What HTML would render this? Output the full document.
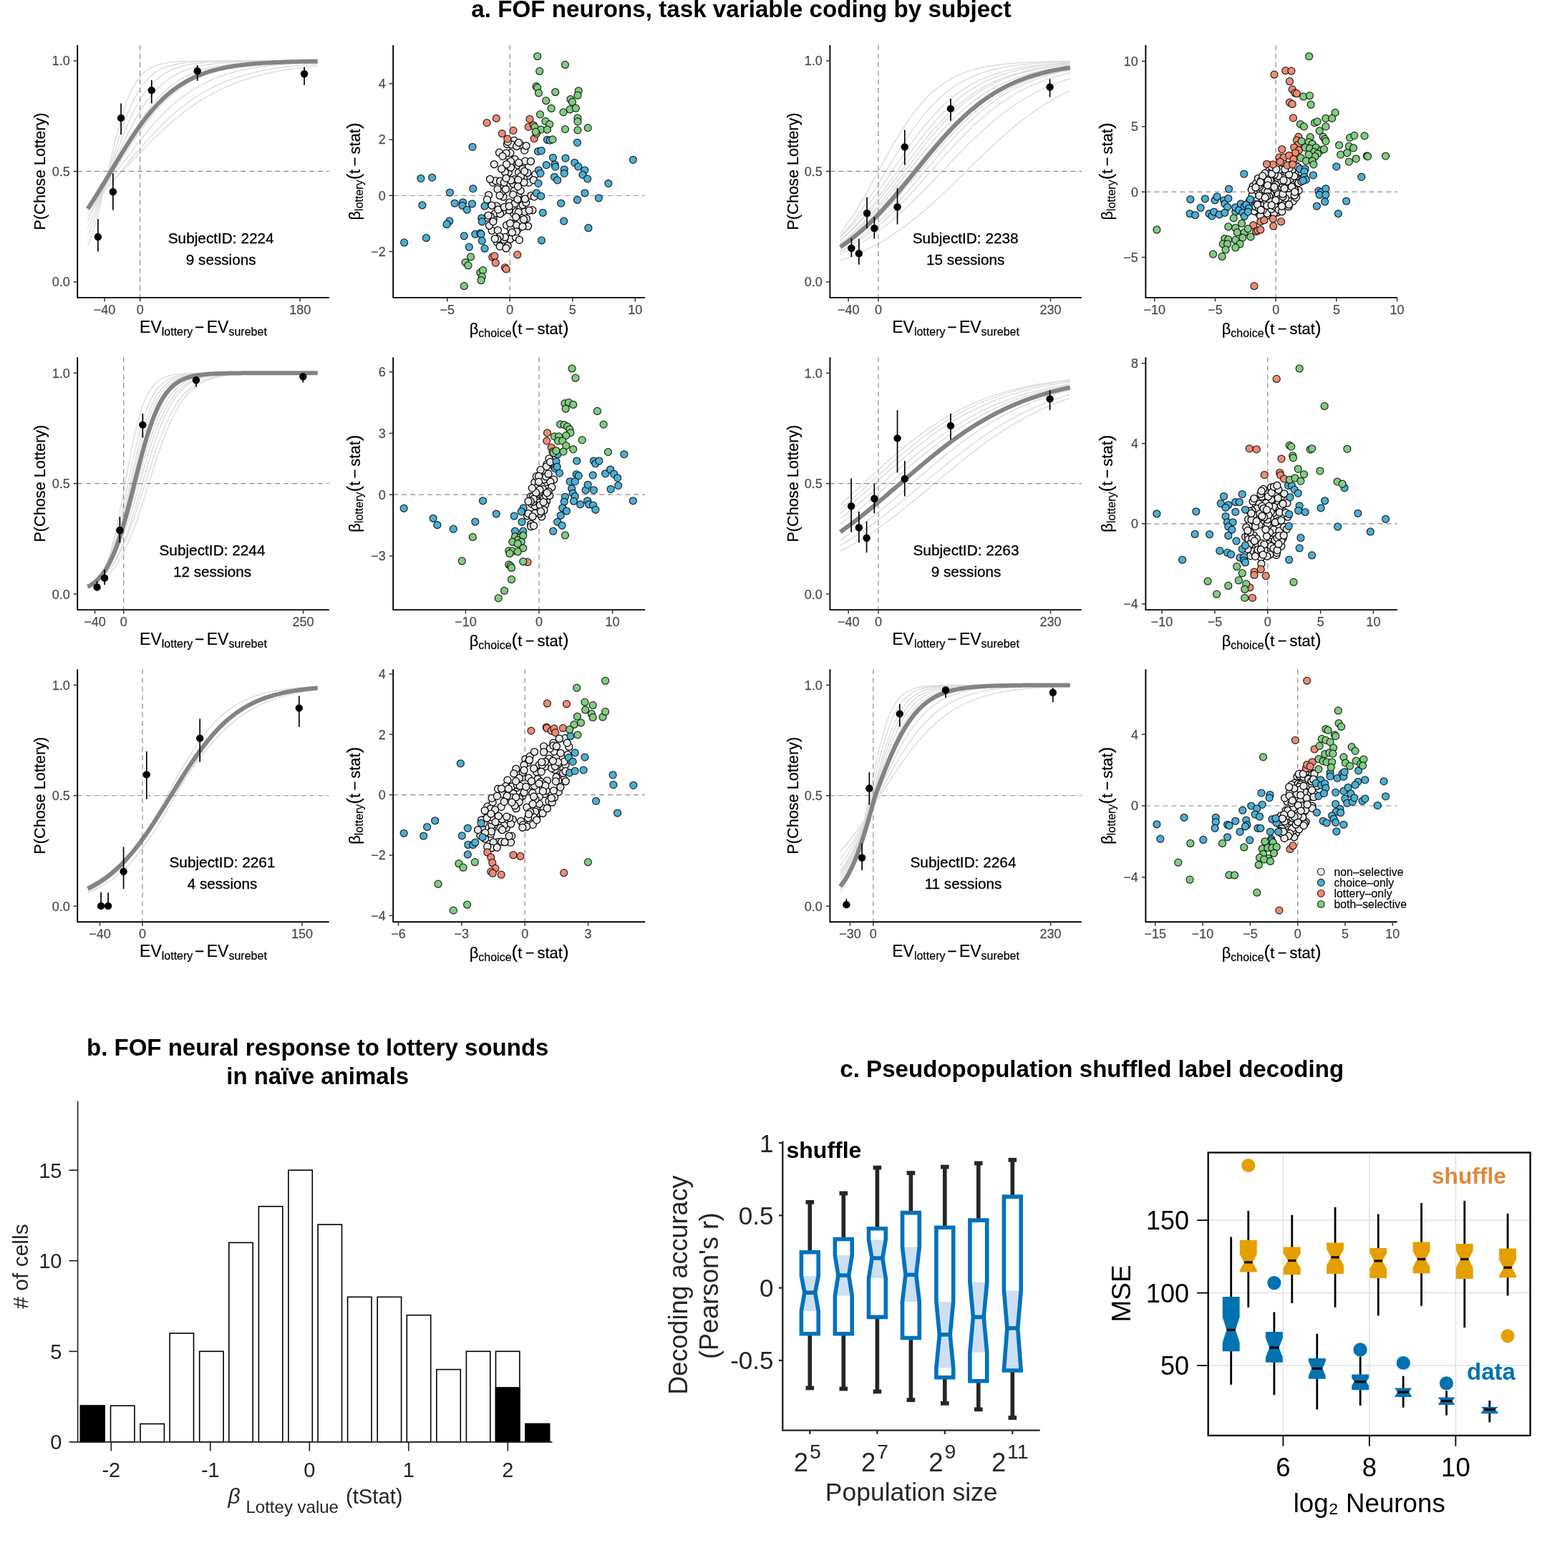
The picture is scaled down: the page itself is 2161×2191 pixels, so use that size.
<!DOCTYPE html>
<html><head><meta charset="utf-8"><title>FOF figure</title>
<style>html,body{margin:0;padding:0;background:#fff;} svg{display:block;} text{font-family:'Liberation Sans', Arial, Helvetica, sans-serif;}</style>
</head><body>
<svg width="2161" height="2191" viewBox="0 0 2161 2191">
<rect width="2161" height="2191" fill="#fff"/>
<g>
<polyline points="122.5,343.7 127.85,329.37 133.21,312.26 138.56,292.48 143.91,270.52 149.27,247.16 154.62,223.45 159.97,200.48 165.33,179.21 170.68,160.34 176.03,144.2 181.39,130.85 186.74,120.09 192.09,111.6 197.45,105.02 202.8,99.98 208.15,96.17 213.51,93.3 218.86,91.16 224.21,89.56 229.57,88.38 234.92,87.5 240.27,86.86 245.63,86.38 250.98,86.03 256.33,85.77 261.69,85.58 267.04,85.44 272.39,85.34 277.75,85.26 283.1,85.2 288.45,85.16 293.81,85.13 299.16,85.11 304.51,85.1 309.87,85.08 315.22,85.07 320.57,85.07 325.93,85.06 331.28,85.06 336.63,85.06 341.99,85.06 347.34,85.05 352.69,85.05 358.05,85.05 363.4,85.05 368.75,85.05 374.11,85.05 379.46,85.05 384.81,85.05 390.17,85.05 395.52,85.05 400.87,85.05 406.23,85.05 411.58,85.05 416.93,85.05 422.29,85.05 427.64,85.05 432.99,85.05 438.35,85.05 443.7,85.05" fill="none" stroke="#dcdcdc" stroke-width="1.4"/>
<polyline points="122.5,329.33 127.85,316.25 133.21,301.52 138.56,285.31 143.91,267.91 149.27,249.73 154.62,231.26 159.97,213.02 165.33,195.52 170.68,179.16 176.03,164.25 181.39,150.98 186.74,139.41 192.09,129.5 197.45,121.14 202.8,114.18 208.15,108.44 213.51,103.76 218.86,99.97 224.21,96.91 229.57,94.46 234.92,92.51 240.27,90.95 245.63,89.71 250.98,88.73 256.33,87.95 261.69,87.34 267.04,86.86 272.39,86.47 277.75,86.17 283.1,85.93 288.45,85.75 293.81,85.6 299.16,85.48 304.51,85.39 309.87,85.32 315.22,85.26 320.57,85.22 325.93,85.18 331.28,85.15 336.63,85.13 341.99,85.11 347.34,85.1 352.69,85.09 358.05,85.08 363.4,85.07 368.75,85.07 374.11,85.07 379.46,85.06 384.81,85.06 390.17,85.06 395.52,85.06 400.87,85.05 406.23,85.05 411.58,85.05 416.93,85.05 422.29,85.05 427.64,85.05 432.99,85.05 438.35,85.05 443.7,85.05" fill="none" stroke="#dcdcdc" stroke-width="1.4"/>
<polyline points="122.5,318.73 127.85,307.03 133.21,294.29 138.56,280.63 143.91,266.25 149.27,251.37 154.62,236.26 159.97,221.21 165.33,206.51 170.68,192.41 176.03,179.12 181.39,166.81 186.74,155.59 192.09,145.49 197.45,136.53 202.8,128.66 208.15,121.82 213.51,115.93 218.86,110.9 224.21,106.62 229.57,103 234.92,99.96 240.27,97.41 245.63,95.29 250.98,93.52 256.33,92.04 261.69,90.82 267.04,89.81 272.39,88.97 277.75,88.28 283.1,87.71 288.45,87.24 293.81,86.85 299.16,86.53 304.51,86.27 309.87,86.05 315.22,85.88 320.57,85.73 325.93,85.61 331.28,85.51 336.63,85.43 341.99,85.36 347.34,85.31 352.69,85.26 358.05,85.22 363.4,85.19 368.75,85.17 374.11,85.15 379.46,85.13 384.81,85.11 390.17,85.1 395.52,85.09 400.87,85.09 406.23,85.08 411.58,85.07 416.93,85.07 422.29,85.07 427.64,85.06 432.99,85.06 438.35,85.06 443.7,85.06" fill="none" stroke="#dcdcdc" stroke-width="1.4"/>
<polyline points="122.5,308.46 127.85,298.25 133.21,287.4 138.56,276 143.91,264.16 149.27,252.02 154.62,239.71 159.97,227.41 165.33,215.26 170.68,203.41 176.03,191.99 181.39,181.11 186.74,170.88 192.09,161.34 197.45,152.54 202.8,144.5 208.15,137.2 213.51,130.64 218.86,124.78 224.21,119.57 229.57,114.97 234.92,110.93 240.27,107.38 245.63,104.29 250.98,101.6 256.33,99.27 261.69,97.26 267.04,95.52 272.39,94.02 277.75,92.73 283.1,91.62 288.45,90.67 293.81,89.85 299.16,89.15 304.51,88.55 309.87,88.04 315.22,87.6 320.57,87.23 325.93,86.91 331.28,86.64 336.63,86.4 341.99,86.2 347.34,86.03 352.69,85.89 358.05,85.77 363.4,85.66 368.75,85.57 374.11,85.49 379.46,85.43 384.81,85.37 390.17,85.33 395.52,85.28 400.87,85.25 406.23,85.22 411.58,85.2 416.93,85.17 422.29,85.16 427.64,85.14 432.99,85.13 438.35,85.12 443.7,85.11" fill="none" stroke="#dcdcdc" stroke-width="1.4"/>
<polyline points="122.5,302.93 127.85,294.06 133.21,284.75 138.56,275.06 143.91,265.07 149.27,254.85 154.62,244.5 159.97,234.1 165.33,223.75 170.68,213.54 176.03,203.56 181.39,193.89 186.74,184.59 192.09,175.73 197.45,167.34 202.8,159.47 208.15,152.13 213.51,145.32 218.86,139.05 224.21,133.31 229.57,128.07 234.92,123.32 240.27,119.03 245.63,115.16 250.98,111.7 256.33,108.59 261.69,105.83 267.04,103.36 272.39,101.17 277.75,99.24 283.1,97.52 288.45,96 293.81,94.67 299.16,93.49 304.51,92.45 309.87,91.54 315.22,90.73 320.57,90.03 325.93,89.41 331.28,88.87 336.63,88.39 341.99,87.97 347.34,87.61 352.69,87.29 358.05,87.01 363.4,86.76 368.75,86.55 374.11,86.36 379.46,86.2 384.81,86.05 390.17,85.93 395.52,85.82 400.87,85.72 406.23,85.64 411.58,85.56 416.93,85.5 422.29,85.44 427.64,85.39 432.99,85.35 438.35,85.31 443.7,85.28" fill="none" stroke="#dcdcdc" stroke-width="1.4"/>
<polyline points="122.5,297.37 127.85,289.68 133.21,281.71 138.56,273.49 143.91,265.06 149.27,256.46 154.62,247.76 159.97,239.01 165.33,230.26 170.68,221.57 176.03,213 181.39,204.58 186.74,196.39 192.09,188.44 197.45,180.79 202.8,173.46 208.15,166.48 213.51,159.86 218.86,153.62 224.21,147.76 229.57,142.28 234.92,137.17 240.27,132.44 245.63,128.07 250.98,124.04 256.33,120.33 261.69,116.94 267.04,113.84 272.39,111.01 277.75,108.44 283.1,106.1 288.45,103.98 293.81,102.06 299.16,100.33 304.51,98.76 309.87,97.35 315.22,96.08 320.57,94.93 325.93,93.9 331.28,92.98 336.63,92.15 341.99,91.4 347.34,90.73 352.69,90.13 358.05,89.6 363.4,89.11 368.75,88.68 374.11,88.3 379.46,87.95 384.81,87.64 390.17,87.37 395.52,87.12 400.87,86.9 406.23,86.7 411.58,86.53 416.93,86.37 422.29,86.23 427.64,86.1 432.99,85.99 438.35,85.89 443.7,85.8" fill="none" stroke="#dcdcdc" stroke-width="1.4"/>
<polyline points="122.5,293.62 127.85,287.02 133.21,280.23 138.56,273.27 143.91,266.15 149.27,258.92 154.62,251.6 159.97,244.23 165.33,236.83 170.68,229.45 176.03,222.11 181.39,214.85 186.74,207.7 192.09,200.69 197.45,193.85 202.8,187.2 208.15,180.76 213.51,174.55 218.86,168.58 224.21,162.87 229.57,157.43 234.92,152.26 240.27,147.36 245.63,142.73 250.98,138.37 256.33,134.27 261.69,130.44 267.04,126.85 272.39,123.51 277.75,120.4 283.1,117.51 288.45,114.83 293.81,112.35 299.16,110.05 304.51,107.94 309.87,105.99 315.22,104.2 320.57,102.55 325.93,101.03 331.28,99.64 336.63,98.36 341.99,97.2 347.34,96.13 352.69,95.15 358.05,94.25 363.4,93.43 368.75,92.69 374.11,92 379.46,91.38 384.81,90.81 390.17,90.3 395.52,89.83 400.87,89.39 406.23,89 411.58,88.65 416.93,88.32 422.29,88.03 427.64,87.76 432.99,87.51 438.35,87.29 443.7,87.08" fill="none" stroke="#dcdcdc" stroke-width="1.4"/>
<polyline points="122.5,292.14 127.85,286.41 133.21,280.53 138.56,274.52 143.91,268.39 149.27,262.17 154.62,255.87 159.97,249.52 165.33,243.13 170.68,236.73 176.03,230.34 181.39,223.98 186.74,217.67 192.09,211.44 197.45,205.29 202.8,199.27 208.15,193.36 213.51,187.61 218.86,182.01 224.21,176.58 229.57,171.33 234.92,166.27 240.27,161.41 245.63,156.74 250.98,152.28 256.33,148.02 261.69,143.97 267.04,140.12 272.39,136.46 277.75,133.01 283.1,129.74 288.45,126.67 293.81,123.77 299.16,121.05 304.51,118.5 309.87,116.1 315.22,113.86 320.57,111.77 325.93,109.81 331.28,107.99 336.63,106.29 341.99,104.71 347.34,103.23 352.69,101.87 358.05,100.6 363.4,99.42 368.75,98.32 374.11,97.31 379.46,96.37 384.81,95.5 390.17,94.69 395.52,93.95 400.87,93.26 406.23,92.62 411.58,92.03 416.93,91.49 422.29,90.99 427.64,90.52 432.99,90.09 438.35,89.7 443.7,89.33" fill="none" stroke="#dcdcdc" stroke-width="1.4"/>
<polyline points="122.5,289.46 127.85,284.27 133.21,278.95 138.56,273.54 143.91,268.04 149.27,262.46 154.62,256.82 159.97,251.13 165.33,245.41 170.68,239.67 176.03,233.94 181.39,228.22 186.74,222.52 192.09,216.88 197.45,211.3 202.8,205.79 208.15,200.37 213.51,195.05 218.86,189.84 224.21,184.76 229.57,179.81 234.92,175 240.27,170.33 245.63,165.82 250.98,161.47 256.33,157.27 261.69,153.24 267.04,149.37 272.39,145.67 277.75,142.13 283.1,138.75 288.45,135.53 293.81,132.47 299.16,129.56 304.51,126.81 309.87,124.19 315.22,121.72 320.57,119.39 325.93,117.18 331.28,115.11 336.63,113.15 341.99,111.31 347.34,109.58 352.69,107.95 358.05,106.42 363.4,104.99 368.75,103.65 374.11,102.39 379.46,101.21 384.81,100.11 390.17,99.08 395.52,98.12 400.87,97.22 406.23,96.38 411.58,95.6 416.93,94.86 422.29,94.18 427.64,93.55 432.99,92.95 438.35,92.4 443.7,91.89" fill="none" stroke="#dcdcdc" stroke-width="1.4"/>
<line x1="108.2" y1="239.47" x2="459.7" y2="239.47" stroke="#8a8a8a" stroke-width="1.2" stroke-dasharray="7,5"/>
<line x1="195.7" y1="63" x2="195.7" y2="415.9" stroke="#8a8a8a" stroke-width="1.2" stroke-dasharray="7,5"/>
<polyline points="122.5,291.62 126.52,285.59 130.53,279.4 134.55,273.08 138.56,266.62 142.57,260.07 146.59,253.45 150.6,246.77 154.62,240.06 158.63,233.36 162.65,226.67 166.66,220.03 170.68,213.47 174.69,207 178.71,200.65 182.72,194.43 186.74,188.37 190.75,182.48 194.77,176.78 198.78,171.28 202.8,165.98 206.81,160.9 210.83,156.03 214.84,151.39 218.86,146.98 222.88,142.79 226.89,138.82 230.91,135.06 234.92,131.53 238.93,128.2 242.95,125.07 246.96,122.14 250.98,119.4 254.99,116.83 259.01,114.44 263.02,112.21 267.04,110.13 271.06,108.2 275.07,106.4 279.08,104.74 283.1,103.2 287.12,101.77 291.13,100.44 295.14,99.22 299.16,98.09 303.17,97.05 307.19,96.09 311.2,95.2 315.22,94.38 319.23,93.62 323.25,92.93 327.26,92.29 331.28,91.7 335.29,91.15 339.31,90.66 343.32,90.2 347.34,89.77 351.36,89.39 355.37,89.03 359.38,88.7 363.4,88.4 367.41,88.13 371.43,87.87 375.44,87.64 379.46,87.43 383.48,87.23 387.49,87.05 391.5,86.88 395.52,86.73 399.53,86.59 403.55,86.46 407.56,86.35 411.58,86.24 415.59,86.14 419.61,86.05 423.62,85.97 427.64,85.89 431.65,85.82 435.67,85.76 439.68,85.7 443.7,85.64" fill="none" stroke="#838383" stroke-width="6"/>
<line x1="136.86" y1="305.99" x2="136.86" y2="351.45" stroke="#000" stroke-width="1.7"/>
<circle cx="136.86" cy="330.97" r="5.2" fill="#000"/>
<line x1="157.84" y1="242.31" x2="157.84" y2="293.51" stroke="#000" stroke-width="1.7"/>
<circle cx="157.84" cy="268.03" r="5.2" fill="#000"/>
<line x1="169.08" y1="144.41" x2="169.08" y2="188.11" stroke="#000" stroke-width="1.7"/>
<circle cx="169.08" cy="164.89" r="5.2" fill="#000"/>
<line x1="211.79" y1="111.69" x2="211.79" y2="144.41" stroke="#000" stroke-width="1.7"/>
<circle cx="211.79" cy="126.17" r="5.2" fill="#000"/>
<line x1="275.72" y1="91.21" x2="275.72" y2="112.94" stroke="#000" stroke-width="1.7"/>
<circle cx="275.72" cy="99.2" r="5.2" fill="#000"/>
<line x1="425.07" y1="93.71" x2="425.07" y2="118.68" stroke="#000" stroke-width="1.7"/>
<circle cx="425.07" cy="103.2" r="5.2" fill="#000"/>
<path d="M108.2 63 V415.9 H459.7" fill="none" stroke="#000" stroke-width="1.9"/>
<line x1="102.7" y1="85.05" x2="108.2" y2="85.05" stroke="#333" stroke-width="1.5"/>
<text x="97.7" y="91.45" font-size="18" fill="#4d4d4d" stroke="#4d4d4d" stroke-width="0.25" text-anchor="end">1.0</text>
<line x1="102.7" y1="239.47" x2="108.2" y2="239.47" stroke="#333" stroke-width="1.5"/>
<text x="97.7" y="245.88" font-size="18" fill="#4d4d4d" stroke="#4d4d4d" stroke-width="0.25" text-anchor="end">0.5</text>
<line x1="102.7" y1="393.9" x2="108.2" y2="393.9" stroke="#333" stroke-width="1.5"/>
<text x="97.7" y="400.3" font-size="18" fill="#4d4d4d" stroke="#4d4d4d" stroke-width="0.25" text-anchor="end">0.0</text>
<line x1="146.03" y1="415.9" x2="146.03" y2="421.4" stroke="#333" stroke-width="1.5"/>
<text x="146.03" y="438.5" font-size="18" fill="#4d4d4d" stroke="#4d4d4d" stroke-width="0.25" text-anchor="middle">−40</text>
<line x1="195.7" y1="415.9" x2="195.7" y2="421.4" stroke="#333" stroke-width="1.5"/>
<text x="195.7" y="438.5" font-size="18" fill="#4d4d4d" stroke="#4d4d4d" stroke-width="0.25" text-anchor="middle">0</text>
<line x1="419.21" y1="415.9" x2="419.21" y2="421.4" stroke="#333" stroke-width="1.5"/>
<text x="419.21" y="438.5" font-size="18" fill="#4d4d4d" stroke="#4d4d4d" stroke-width="0.25" text-anchor="middle">180</text>
<text x="308.7" y="340" font-size="20.8" text-anchor="middle" fill="#000" stroke="#000" stroke-width="0.3">SubjectID: 2224</text>
<text x="308.7" y="370" font-size="20.7" text-anchor="middle" fill="#000" stroke="#000" stroke-width="0.3">9 sessions</text>
<text x="283.95" y="464.6" font-size="23" text-anchor="middle" fill="#000" stroke="#000" stroke-width="0.2">EV<tspan font-size="16" dy="4">lottery</tspan><tspan dy="-4" dx="2.7">−</tspan><tspan dx="3.3">EV</tspan><tspan font-size="16" dy="4">surebet</tspan></text>
<text transform="translate(55.9,239.45) rotate(-90)" x="0" y="0" font-size="21.7" text-anchor="middle" fill="#000" stroke="#000" stroke-width="0.2" dominant-baseline="central">P(Chose Lottery)</text>
</g>
<g>
<polyline points="1173.7,326.41 1179.05,319.42 1184.4,311.95 1189.76,304.02 1195.11,295.65 1200.46,286.89 1205.81,277.78 1211.16,268.37 1216.51,258.73 1221.87,248.94 1227.22,239.08 1232.57,229.21 1237.92,219.43 1243.27,209.81 1248.62,200.43 1253.98,191.34 1259.33,182.6 1264.68,174.27 1270.03,166.38 1275.38,158.95 1280.73,152 1286.09,145.53 1291.44,139.55 1296.79,134.04 1302.14,129 1307.49,124.39 1312.84,120.2 1318.19,116.41 1323.55,112.98 1328.9,109.9 1334.25,107.13 1339.6,104.65 1344.95,102.42 1350.31,100.44 1355.66,98.67 1361.01,97.1 1366.36,95.7 1371.71,94.46 1377.06,93.36 1382.41,92.39 1387.77,91.53 1393.12,90.76 1398.47,90.09 1403.82,89.49 1409.17,88.96 1414.53,88.5 1419.88,88.09 1425.23,87.73 1430.58,87.41 1435.93,87.13 1441.28,86.88 1446.63,86.66 1451.99,86.47 1457.34,86.3 1462.69,86.15 1468.04,86.02 1473.39,85.9 1478.74,85.8 1484.1,85.71 1489.45,85.63 1494.8,85.56" fill="none" stroke="#dcdcdc" stroke-width="1.4"/>
<polyline points="1173.7,330.56 1179.05,324.65 1184.4,318.35 1189.76,311.67 1195.11,304.63 1200.46,297.24 1205.81,289.53 1211.16,281.53 1216.51,273.28 1221.87,264.83 1227.22,256.21 1232.57,247.49 1237.92,238.72 1243.27,229.95 1248.62,221.24 1253.98,212.65 1259.33,204.22 1264.68,196.01 1270.03,188.06 1275.38,180.41 1280.73,173.08 1286.09,166.1 1291.44,159.49 1296.79,153.25 1302.14,147.4 1307.49,141.93 1312.84,136.84 1318.19,132.12 1323.55,127.76 1328.9,123.75 1334.25,120.06 1339.6,116.68 1344.95,113.59 1350.31,110.78 1355.66,108.22 1361.01,105.9 1366.36,103.79 1371.71,101.89 1377.06,100.17 1382.41,98.61 1387.77,97.21 1393.12,95.95 1398.47,94.82 1403.82,93.8 1409.17,92.88 1414.53,92.06 1419.88,91.32 1425.23,90.66 1430.58,90.06 1435.93,89.53 1441.28,89.06 1446.63,88.63 1451.99,88.25 1457.34,87.91 1462.69,87.61 1468.04,87.33 1473.39,87.09 1478.74,86.87 1484.1,86.68 1489.45,86.5 1494.8,86.35" fill="none" stroke="#dcdcdc" stroke-width="1.4"/>
<polyline points="1173.7,331.79 1179.05,326.55 1184.4,321.01 1189.76,315.16 1195.11,309 1200.46,302.56 1205.81,295.84 1211.16,288.87 1216.51,281.66 1221.87,274.25 1227.22,266.67 1232.57,258.94 1237.92,251.12 1243.27,243.24 1248.62,235.34 1253.98,227.46 1259.33,219.64 1264.68,211.93 1270.03,204.35 1275.38,196.95 1280.73,189.75 1286.09,182.79 1291.44,176.08 1296.79,169.65 1302.14,163.51 1307.49,157.67 1312.84,152.14 1318.19,146.92 1323.55,142.01 1328.9,137.41 1334.25,133.11 1339.6,129.1 1344.95,125.38 1350.31,121.92 1355.66,118.72 1361.01,115.77 1366.36,113.06 1371.71,110.56 1377.06,108.26 1382.41,106.16 1387.77,104.23 1393.12,102.47 1398.47,100.86 1403.82,99.4 1409.17,98.06 1414.53,96.84 1419.88,95.73 1425.23,94.73 1430.58,93.81 1435.93,92.98 1441.28,92.23 1446.63,91.54 1451.99,90.92 1457.34,90.36 1462.69,89.85 1468.04,89.39 1473.39,88.98 1478.74,88.6 1484.1,88.26 1489.45,87.95 1494.8,87.67" fill="none" stroke="#dcdcdc" stroke-width="1.4"/>
<polyline points="1173.7,335.74 1179.05,330.95 1184.4,325.87 1189.76,320.51 1195.11,314.86 1200.46,308.93 1205.81,302.74 1211.16,296.29 1216.51,289.61 1221.87,282.7 1227.22,275.61 1232.57,268.35 1237.92,260.95 1243.27,253.45 1248.62,245.89 1253.98,238.29 1259.33,230.7 1264.68,223.16 1270.03,215.69 1275.38,208.33 1280.73,201.12 1286.09,194.08 1291.44,187.24 1296.79,180.63 1302.14,174.25 1307.49,168.14 1312.84,162.3 1318.19,156.74 1323.55,151.47 1328.9,146.48 1334.25,141.78 1339.6,137.36 1344.95,133.23 1350.31,129.36 1355.66,125.75 1361.01,122.4 1366.36,119.29 1371.71,116.4 1377.06,113.74 1382.41,111.28 1387.77,109.01 1393.12,106.92 1398.47,105 1403.82,103.24 1409.17,101.63 1414.53,100.15 1419.88,98.8 1425.23,97.56 1430.58,96.43 1435.93,95.4 1441.28,94.46 1446.63,93.6 1451.99,92.82 1457.34,92.11 1462.69,91.46 1468.04,90.87 1473.39,90.34 1478.74,89.85 1484.1,89.41 1489.45,89 1494.8,88.64" fill="none" stroke="#dcdcdc" stroke-width="1.4"/>
<polyline points="1173.7,336.27 1179.05,331.78 1184.4,327.03 1189.76,322.03 1195.11,316.77 1200.46,311.26 1205.81,305.51 1211.16,299.52 1216.51,293.31 1221.87,286.9 1227.22,280.31 1232.57,273.55 1237.92,266.65 1243.27,259.63 1248.62,252.53 1253.98,245.37 1259.33,238.19 1264.68,231.02 1270.03,223.88 1275.38,216.8 1280.73,209.83 1286.09,202.97 1291.44,196.27 1296.79,189.74 1302.14,183.4 1307.49,177.27 1312.84,171.36 1318.19,165.7 1323.55,160.28 1328.9,155.11 1334.25,150.2 1339.6,145.54 1344.95,141.14 1350.31,137 1355.66,133.1 1361.01,129.44 1366.36,126.02 1371.71,122.83 1377.06,119.85 1382.41,117.08 1387.77,114.5 1393.12,112.12 1398.47,109.9 1403.82,107.86 1409.17,105.97 1414.53,104.23 1419.88,102.62 1425.23,101.14 1430.58,99.78 1435.93,98.53 1441.28,97.38 1446.63,96.32 1451.99,95.35 1457.34,94.47 1462.69,93.65 1468.04,92.91 1473.39,92.23 1478.74,91.6 1484.1,91.03 1489.45,90.51 1494.8,90.03" fill="none" stroke="#dcdcdc" stroke-width="1.4"/>
<polyline points="1173.7,340.41 1179.05,336.17 1184.4,331.67 1189.76,326.92 1195.11,321.91 1200.46,316.64 1205.81,311.13 1211.16,305.37 1216.51,299.38 1221.87,293.17 1227.22,286.75 1232.57,280.15 1237.92,273.39 1243.27,266.48 1248.62,259.47 1253.98,252.37 1259.33,245.21 1264.68,238.03 1270.03,230.85 1275.38,223.71 1280.73,216.64 1286.09,209.67 1291.44,202.82 1296.79,196.12 1302.14,189.59 1307.49,183.25 1312.84,177.13 1318.19,171.23 1323.55,165.57 1328.9,160.15 1334.25,154.99 1339.6,150.09 1344.95,145.44 1350.31,141.04 1355.66,136.9 1361.01,133.01 1366.36,129.36 1371.71,125.95 1377.06,122.76 1382.41,119.78 1387.77,117.02 1393.12,114.45 1398.47,112.06 1403.82,109.86 1409.17,107.81 1414.53,105.93 1419.88,104.19 1425.23,102.58 1430.58,101.11 1435.93,99.75 1441.28,98.5 1446.63,97.35 1451.99,96.3 1457.34,95.33 1462.69,94.45 1468.04,93.63 1473.39,92.89 1478.74,92.21 1484.1,91.59 1489.45,91.02 1494.8,90.5" fill="none" stroke="#dcdcdc" stroke-width="1.4"/>
<polyline points="1173.7,340.64 1179.05,336.64 1184.4,332.41 1189.76,327.95 1195.11,323.26 1200.46,318.34 1205.81,313.19 1211.16,307.82 1216.51,302.23 1221.87,296.44 1227.22,290.46 1232.57,284.31 1237.92,277.99 1243.27,271.54 1248.62,264.96 1253.98,258.29 1259.33,251.55 1264.68,244.76 1270.03,237.94 1275.38,231.14 1280.73,224.37 1286.09,217.65 1291.44,211.02 1296.79,204.5 1302.14,198.1 1307.49,191.86 1312.84,185.78 1318.19,179.88 1323.55,174.18 1328.9,168.69 1334.25,163.42 1339.6,158.38 1344.95,153.56 1350.31,148.97 1355.66,144.61 1361.01,140.48 1366.36,136.58 1371.71,132.9 1377.06,129.44 1382.41,126.19 1387.77,123.15 1393.12,120.3 1398.47,117.63 1403.82,115.15 1409.17,112.84 1414.53,110.69 1419.88,108.69 1425.23,106.83 1430.58,105.11 1435.93,103.52 1441.28,102.04 1446.63,100.68 1451.99,99.42 1457.34,98.26 1462.69,97.19 1468.04,96.2 1473.39,95.29 1478.74,94.45 1484.1,93.68 1489.45,92.97 1494.8,92.32" fill="none" stroke="#dcdcdc" stroke-width="1.4"/>
<polyline points="1173.7,342 1179.05,338.21 1184.4,334.21 1189.76,329.99 1195.11,325.56 1200.46,320.92 1205.81,316.06 1211.16,310.99 1216.51,305.71 1221.87,300.24 1227.22,294.58 1232.57,288.75 1237.92,282.76 1243.27,276.62 1248.62,270.35 1253.98,263.98 1259.33,257.52 1264.68,250.99 1270.03,244.43 1275.38,237.84 1280.73,231.27 1286.09,224.72 1291.44,218.22 1296.79,211.8 1302.14,205.48 1307.49,199.28 1312.84,193.21 1318.19,187.29 1323.55,181.54 1328.9,175.98 1334.25,170.6 1339.6,165.43 1344.95,160.46 1350.31,155.71 1355.66,151.17 1361.01,146.84 1366.36,142.73 1371.71,138.84 1377.06,135.15 1382.41,131.68 1387.77,128.4 1393.12,125.32 1398.47,122.42 1403.82,119.71 1409.17,117.17 1414.53,114.8 1419.88,112.58 1425.23,110.52 1430.58,108.59 1435.93,106.8 1441.28,105.14 1446.63,103.6 1451.99,102.16 1457.34,100.84 1462.69,99.61 1468.04,98.47 1473.39,97.42 1478.74,96.44 1484.1,95.54 1489.45,94.71 1494.8,93.94" fill="none" stroke="#dcdcdc" stroke-width="1.4"/>
<polyline points="1173.7,345.5 1179.05,341.91 1184.4,338.12 1189.76,334.11 1195.11,329.89 1200.46,325.46 1205.81,320.81 1211.16,315.94 1216.51,310.87 1221.87,305.59 1227.22,300.11 1232.57,294.45 1237.92,288.61 1243.27,282.62 1248.62,276.47 1253.98,270.21 1259.33,263.83 1264.68,257.37 1270.03,250.84 1275.38,244.28 1280.73,237.69 1286.09,231.11 1291.44,224.57 1296.79,218.07 1302.14,211.66 1307.49,205.34 1312.84,199.13 1318.19,193.07 1323.55,187.16 1328.9,181.41 1334.25,175.85 1339.6,170.48 1344.95,165.31 1350.31,160.35 1355.66,155.6 1361.01,151.06 1366.36,146.74 1371.71,142.64 1377.06,138.75 1382.41,135.07 1387.77,131.6 1393.12,128.33 1398.47,125.25 1403.82,122.36 1409.17,119.65 1414.53,117.11 1419.88,114.74 1425.23,112.53 1430.58,110.47 1435.93,108.55 1441.28,106.76 1446.63,105.1 1451.99,103.56 1457.34,102.13 1462.69,100.81 1468.04,99.58 1473.39,98.44 1478.74,97.39 1484.1,96.42 1489.45,95.52 1494.8,94.69" fill="none" stroke="#dcdcdc" stroke-width="1.4"/>
<polyline points="1173.7,346.56 1179.05,343.16 1184.4,339.56 1189.76,335.77 1195.11,331.77 1200.46,327.57 1205.81,323.17 1211.16,318.57 1216.51,313.77 1221.87,308.78 1227.22,303.59 1232.57,298.23 1237.92,292.69 1243.27,287 1248.62,281.16 1253.98,275.19 1259.33,269.1 1264.68,262.91 1270.03,256.65 1275.38,250.33 1280.73,243.98 1286.09,237.6 1291.44,231.24 1296.79,224.9 1302.14,218.61 1307.49,212.39 1312.84,206.26 1318.19,200.24 1323.55,194.34 1328.9,188.59 1334.25,182.99 1339.6,177.55 1344.95,172.29 1350.31,167.22 1355.66,162.34 1361.01,157.65 1366.36,153.17 1371.71,148.89 1377.06,144.81 1382.41,140.93 1387.77,137.25 1393.12,133.77 1398.47,130.48 1403.82,127.37 1409.17,124.44 1414.53,121.69 1419.88,119.11 1425.23,116.69 1430.58,114.42 1435.93,112.3 1441.28,110.32 1446.63,108.47 1451.99,106.74 1457.34,105.13 1462.69,103.64 1468.04,102.25 1473.39,100.96 1478.74,99.76 1484.1,98.64 1489.45,97.61 1494.8,96.65" fill="none" stroke="#dcdcdc" stroke-width="1.4"/>
<polyline points="1173.7,350.91 1179.05,347.77 1184.4,344.43 1189.76,340.91 1195.11,337.19 1200.46,333.26 1205.81,329.14 1211.16,324.81 1216.51,320.29 1221.87,315.56 1227.22,310.63 1232.57,305.52 1237.92,300.22 1243.27,294.75 1248.62,289.11 1253.98,283.32 1259.33,277.4 1264.68,271.35 1270.03,265.2 1275.38,258.96 1280.73,252.66 1286.09,246.32 1291.44,239.95 1296.79,233.58 1302.14,227.23 1307.49,220.92 1312.84,214.67 1318.19,208.51 1323.55,202.44 1328.9,196.5 1334.25,190.69 1339.6,185.03 1344.95,179.53 1350.31,174.2 1355.66,169.06 1361.01,164.11 1366.36,159.35 1371.71,154.8 1377.06,150.44 1382.41,146.29 1387.77,142.33 1393.12,138.58 1398.47,135.03 1403.82,131.66 1409.17,128.49 1414.53,125.5 1419.88,122.69 1425.23,120.04 1430.58,117.56 1435.93,115.24 1441.28,113.06 1446.63,111.03 1451.99,109.13 1457.34,107.36 1462.69,105.71 1468.04,104.18 1473.39,102.75 1478.74,101.42 1484.1,100.19 1489.45,99.04 1494.8,97.98" fill="none" stroke="#dcdcdc" stroke-width="1.4"/>
<polyline points="1173.7,352.34 1179.05,349.42 1184.4,346.34 1189.76,343.08 1195.11,339.65 1200.46,336.04 1205.81,332.25 1211.16,328.27 1216.51,324.11 1221.87,319.76 1227.22,315.24 1232.57,310.53 1237.92,305.66 1243.27,300.61 1248.62,295.41 1253.98,290.05 1259.33,284.55 1264.68,278.93 1270.03,273.19 1275.38,267.36 1280.73,261.44 1286.09,255.45 1291.44,249.41 1296.79,243.35 1302.14,237.27 1307.49,231.2 1312.84,225.15 1318.19,219.15 1323.55,213.21 1328.9,207.35 1334.25,201.58 1339.6,195.93 1344.95,190.4 1350.31,185 1355.66,179.75 1361.01,174.66 1366.36,169.74 1371.71,164.99 1377.06,160.41 1382.41,156.02 1387.77,151.8 1393.12,147.78 1398.47,143.93 1403.82,140.27 1409.17,136.79 1414.53,133.49 1419.88,130.36 1425.23,127.4 1430.58,124.6 1435.93,121.97 1441.28,119.48 1446.63,117.15 1451.99,114.95 1457.34,112.89 1462.69,110.96 1468.04,109.15 1473.39,107.46 1478.74,105.88 1484.1,104.4 1489.45,103.02 1494.8,101.73" fill="none" stroke="#dcdcdc" stroke-width="1.4"/>
<polyline points="1173.7,355.18 1179.05,352.63 1184.4,349.95 1189.76,347.12 1195.11,344.14 1200.46,341.01 1205.81,337.73 1211.16,334.29 1216.51,330.7 1221.87,326.94 1227.22,323.03 1232.57,318.96 1237.92,314.73 1243.27,310.35 1248.62,305.82 1253.98,301.15 1259.33,296.33 1264.68,291.39 1270.03,286.32 1275.38,281.14 1280.73,275.86 1286.09,270.48 1291.44,265.03 1296.79,259.5 1302.14,253.93 1307.49,248.32 1312.84,242.68 1318.19,237.04 1323.55,231.4 1328.9,225.78 1334.25,220.2 1339.6,214.67 1344.95,209.21 1350.31,203.82 1355.66,198.52 1361.01,193.33 1366.36,188.25 1371.71,183.28 1377.06,178.45 1382.41,173.76 1387.77,169.21 1393.12,164.81 1398.47,160.56 1403.82,156.47 1409.17,152.53 1414.53,148.76 1419.88,145.14 1425.23,141.68 1430.58,138.38 1435.93,135.23 1441.28,132.23 1446.63,129.38 1451.99,126.68 1457.34,124.11 1462.69,121.69 1468.04,119.39 1473.39,117.22 1478.74,115.17 1484.1,113.24 1489.45,111.43 1494.8,109.72" fill="none" stroke="#dcdcdc" stroke-width="1.4"/>
<polyline points="1173.7,364.17 1179.05,362.29 1184.4,360.3 1189.76,358.2 1195.11,355.99 1200.46,353.66 1205.81,351.21 1211.16,348.64 1216.51,345.94 1221.87,343.11 1227.22,340.15 1232.57,337.05 1237.92,333.82 1243.27,330.44 1248.62,326.93 1253.98,323.29 1259.33,319.5 1264.68,315.58 1270.03,311.52 1275.38,307.34 1280.73,303.02 1286.09,298.59 1291.44,294.03 1296.79,289.37 1302.14,284.6 1307.49,279.73 1312.84,274.78 1318.19,269.75 1323.55,264.65 1328.9,259.49 1334.25,254.29 1339.6,249.06 1344.95,243.8 1350.31,238.53 1355.66,233.27 1361.01,228.02 1366.36,222.79 1371.71,217.6 1377.06,212.47 1382.41,207.39 1387.77,202.39 1393.12,197.47 1398.47,192.63 1403.82,187.9 1409.17,183.27 1414.53,178.76 1419.88,174.37 1425.23,170.1 1430.58,165.96 1435.93,161.95 1441.28,158.08 1446.63,154.34 1451.99,150.74 1457.34,147.28 1462.69,143.96 1468.04,140.78 1473.39,137.73 1478.74,134.81 1484.1,132.03 1489.45,129.38 1494.8,126.85" fill="none" stroke="#dcdcdc" stroke-width="1.4"/>
<line x1="1159.4" y1="239.47" x2="1510.8" y2="239.47" stroke="#8a8a8a" stroke-width="1.2" stroke-dasharray="7,5"/>
<line x1="1227" y1="63" x2="1227" y2="415.9" stroke="#8a8a8a" stroke-width="1.2" stroke-dasharray="7,5"/>
<polyline points="1173.7,345.18 1177.71,342.49 1181.73,339.68 1185.74,336.75 1189.76,333.7 1193.77,330.53 1197.78,327.23 1201.8,323.82 1205.81,320.28 1209.82,316.62 1213.84,312.84 1217.85,308.94 1221.87,304.93 1225.88,300.81 1229.89,296.59 1233.91,292.26 1237.92,287.84 1241.93,283.32 1245.95,278.73 1249.96,274.05 1253.98,269.31 1257.99,264.51 1262,259.67 1266.02,254.78 1270.03,249.85 1274.04,244.91 1278.06,239.96 1282.07,235 1286.09,230.06 1290.1,225.13 1294.11,220.23 1298.13,215.38 1302.14,210.57 1306.15,205.81 1310.17,201.13 1314.18,196.52 1318.19,191.99 1322.21,187.54 1326.22,183.2 1330.24,178.95 1334.25,174.81 1338.26,170.78 1342.28,166.86 1346.29,163.06 1350.31,159.38 1354.32,155.81 1358.33,152.37 1362.35,149.06 1366.36,145.86 1370.37,142.79 1374.39,139.83 1378.4,137 1382.41,134.29 1386.43,131.69 1390.44,129.2 1394.46,126.83 1398.47,124.56 1402.48,122.4 1406.5,120.35 1410.51,118.39 1414.53,116.53 1418.54,114.76 1422.55,113.08 1426.57,111.49 1430.58,109.98 1434.59,108.54 1438.61,107.19 1442.62,105.9 1446.63,104.69 1450.65,103.54 1454.66,102.46 1458.68,101.43 1462.69,100.46 1466.7,99.55 1470.72,98.69 1474.73,97.88 1478.74,97.11 1482.76,96.39 1486.77,95.71 1490.79,95.07 1494.8,94.46" fill="none" stroke="#838383" stroke-width="6"/>
<line x1="1189.36" y1="332.97" x2="1189.36" y2="358.94" stroke="#000" stroke-width="1.7"/>
<circle cx="1189.36" cy="346.7" r="5.2" fill="#000"/>
<line x1="1199.85" y1="333.97" x2="1199.85" y2="369.68" stroke="#000" stroke-width="1.7"/>
<circle cx="1199.85" cy="354.2" r="5.2" fill="#000"/>
<line x1="1211.09" y1="275.52" x2="1211.09" y2="318.98" stroke="#000" stroke-width="1.7"/>
<circle cx="1211.09" cy="298" r="5.2" fill="#000"/>
<line x1="1221.33" y1="303" x2="1221.33" y2="333.47" stroke="#000" stroke-width="1.7"/>
<circle cx="1221.33" cy="318.98" r="5.2" fill="#000"/>
<line x1="1253.55" y1="263.04" x2="1253.55" y2="313.49" stroke="#000" stroke-width="1.7"/>
<circle cx="1253.55" cy="289.26" r="5.2" fill="#000"/>
<line x1="1263.79" y1="181.62" x2="1263.79" y2="230.32" stroke="#000" stroke-width="1.7"/>
<circle cx="1263.79" cy="205.34" r="5.2" fill="#000"/>
<line x1="1327.97" y1="137.91" x2="1327.97" y2="168.63" stroke="#000" stroke-width="1.7"/>
<circle cx="1327.97" cy="151.9" r="5.2" fill="#000"/>
<line x1="1466.58" y1="110.44" x2="1466.58" y2="135.66" stroke="#000" stroke-width="1.7"/>
<circle cx="1466.58" cy="121.68" r="5.2" fill="#000"/>
<path d="M1159.4 63 V415.9 H1510.8" fill="none" stroke="#000" stroke-width="1.9"/>
<line x1="1153.9" y1="85.05" x2="1159.4" y2="85.05" stroke="#333" stroke-width="1.5"/>
<text x="1148.9" y="91.45" font-size="18" fill="#4d4d4d" stroke="#4d4d4d" stroke-width="0.25" text-anchor="end">1.0</text>
<line x1="1153.9" y1="239.47" x2="1159.4" y2="239.47" stroke="#333" stroke-width="1.5"/>
<text x="1148.9" y="245.88" font-size="18" fill="#4d4d4d" stroke="#4d4d4d" stroke-width="0.25" text-anchor="end">0.5</text>
<line x1="1153.9" y1="393.9" x2="1159.4" y2="393.9" stroke="#333" stroke-width="1.5"/>
<text x="1148.9" y="400.3" font-size="18" fill="#4d4d4d" stroke="#4d4d4d" stroke-width="0.25" text-anchor="end">0.0</text>
<line x1="1185.17" y1="415.9" x2="1185.17" y2="421.4" stroke="#333" stroke-width="1.5"/>
<text x="1185.17" y="438.5" font-size="18" fill="#4d4d4d" stroke="#4d4d4d" stroke-width="0.25" text-anchor="middle">−40</text>
<line x1="1227" y1="415.9" x2="1227" y2="421.4" stroke="#333" stroke-width="1.5"/>
<text x="1227" y="438.5" font-size="18" fill="#4d4d4d" stroke="#4d4d4d" stroke-width="0.25" text-anchor="middle">0</text>
<line x1="1467.51" y1="415.9" x2="1467.51" y2="421.4" stroke="#333" stroke-width="1.5"/>
<text x="1467.51" y="438.5" font-size="18" fill="#4d4d4d" stroke="#4d4d4d" stroke-width="0.25" text-anchor="middle">230</text>
<text x="1348.7" y="340" font-size="20.8" text-anchor="middle" fill="#000" stroke="#000" stroke-width="0.3">SubjectID: 2238</text>
<text x="1348.7" y="370" font-size="20.7" text-anchor="middle" fill="#000" stroke="#000" stroke-width="0.3">15 sessions</text>
<text x="1335.1" y="464.6" font-size="23" text-anchor="middle" fill="#000" stroke="#000" stroke-width="0.2">EV<tspan font-size="16" dy="4">lottery</tspan><tspan dy="-4" dx="2.7">−</tspan><tspan dx="3.3">EV</tspan><tspan font-size="16" dy="4">surebet</tspan></text>
<text transform="translate(1107.1,239.45) rotate(-90)" x="0" y="0" font-size="21.7" text-anchor="middle" fill="#000" stroke="#000" stroke-width="0.2" dominant-baseline="central">P(Chose Lottery)</text>
</g>
<g>
<polyline points="122.5,822.76 127.85,819.48 133.21,814.79 138.56,808.2 143.91,799.06 149.27,786.69 154.62,770.44 159.97,749.96 165.33,725.39 170.68,697.66 176.03,668.39 181.39,639.64 186.74,613.32 192.09,590.71 197.45,572.34 202.8,558.08 208.15,547.4 213.51,539.61 218.86,534.03 224.21,530.1 229.57,527.35 234.92,525.44 240.27,524.13 245.63,523.22 250.98,522.6 256.33,522.17 261.69,521.88 267.04,521.68 272.39,521.55 277.75,521.45 283.1,521.39 288.45,521.34 293.81,521.31 299.16,521.29 304.51,521.28 309.87,521.27 315.22,521.26 320.57,521.26 325.93,521.26 331.28,521.25 336.63,521.25 341.99,521.25 347.34,521.25 352.69,521.25 358.05,521.25 363.4,521.25 368.75,521.25 374.11,521.25 379.46,521.25 384.81,521.25 390.17,521.25 395.52,521.25 400.87,521.25 406.23,521.25 411.58,521.25 416.93,521.25 422.29,521.25 427.64,521.25 432.99,521.25 438.35,521.25 443.7,521.25" fill="none" stroke="#dcdcdc" stroke-width="1.4"/>
<polyline points="122.5,821.06 127.85,817.62 133.21,812.96 138.56,806.69 143.91,798.38 149.27,787.56 154.62,773.8 159.97,756.81 165.33,736.59 170.68,713.55 176.03,688.57 181.39,662.89 186.74,637.9 192.09,614.85 197.45,594.62 202.8,577.62 208.15,563.84 213.51,553.01 218.86,544.69 224.21,538.41 229.57,533.74 234.92,530.3 240.27,527.79 245.63,525.97 250.98,524.64 256.33,523.69 261.69,523 267.04,522.51 272.39,522.15 277.75,521.9 283.1,521.71 288.45,521.58 293.81,521.49 299.16,521.42 304.51,521.37 309.87,521.34 315.22,521.31 320.57,521.29 325.93,521.28 331.28,521.27 336.63,521.27 341.99,521.26 347.34,521.26 352.69,521.26 358.05,521.25 363.4,521.25 368.75,521.25 374.11,521.25 379.46,521.25 384.81,521.25 390.17,521.25 395.52,521.25 400.87,521.25 406.23,521.25 411.58,521.25 416.93,521.25 422.29,521.25 427.64,521.25 432.99,521.25 438.35,521.25 443.7,521.25" fill="none" stroke="#dcdcdc" stroke-width="1.4"/>
<polyline points="122.5,820.8 127.85,817.51 133.21,813.12 138.56,807.32 143.91,799.75 149.27,790.02 154.62,777.75 159.97,762.67 165.33,744.68 170.68,724.02 176.03,701.23 181.39,677.24 186.74,653.17 192.09,630.18 197.45,609.19 202.8,590.85 208.15,575.39 213.51,562.77 218.86,552.73 224.21,544.9 229.57,538.89 234.92,534.34 240.27,530.93 245.63,528.38 250.98,526.49 256.33,525.1 261.69,524.07 267.04,523.32 272.39,522.76 277.75,522.36 283.1,522.06 288.45,521.84 293.81,521.68 299.16,521.57 304.51,521.48 309.87,521.42 315.22,521.37 320.57,521.34 325.93,521.32 331.28,521.3 336.63,521.29 341.99,521.28 347.34,521.27 352.69,521.26 358.05,521.26 363.4,521.26 368.75,521.26 374.11,521.25 379.46,521.25 384.81,521.25 390.17,521.25 395.52,521.25 400.87,521.25 406.23,521.25 411.58,521.25 416.93,521.25 422.29,521.25 427.64,521.25 432.99,521.25 438.35,521.25 443.7,521.25" fill="none" stroke="#dcdcdc" stroke-width="1.4"/>
<polyline points="122.5,820.03 127.85,816.71 133.21,812.35 138.56,806.69 143.91,799.42 149.27,790.21 154.62,778.73 159.97,764.76 165.33,748.2 170.68,729.18 176.03,708.12 181.39,685.72 186.74,662.88 192.09,640.59 197.45,619.75 202.8,601.01 208.15,584.76 213.51,571.1 218.86,559.92 224.21,550.95 229.57,543.89 234.92,538.41 240.27,534.19 245.63,530.98 250.98,528.54 256.33,526.7 261.69,525.32 267.04,524.29 272.39,523.52 277.75,522.94 283.1,522.51 288.45,522.19 293.81,521.95 299.16,521.77 304.51,521.64 309.87,521.54 315.22,521.46 320.57,521.41 325.93,521.37 331.28,521.34 336.63,521.32 341.99,521.3 347.34,521.29 352.69,521.28 358.05,521.27 363.4,521.26 368.75,521.26 374.11,521.26 379.46,521.26 384.81,521.25 390.17,521.25 395.52,521.25 400.87,521.25 406.23,521.25 411.58,521.25 416.93,521.25 422.29,521.25 427.64,521.25 432.99,521.25 438.35,521.25 443.7,521.25" fill="none" stroke="#dcdcdc" stroke-width="1.4"/>
<polyline points="122.5,819.29 127.85,815.95 133.21,811.64 138.56,806.12 143.91,799.12 149.27,790.37 154.62,779.6 159.97,766.6 165.33,751.27 170.68,733.7 176.03,714.18 181.39,693.25 186.74,671.65 192.09,650.21 197.45,629.73 202.8,610.88 208.15,594.12 213.51,579.66 218.86,567.5 224.21,557.51 229.57,549.44 234.92,543.03 240.27,537.99 245.63,534.06 250.98,531.02 256.33,528.69 261.69,526.9 267.04,525.54 272.39,524.5 277.75,523.71 283.1,523.11 288.45,522.66 293.81,522.31 299.16,522.05 304.51,521.86 309.87,521.71 315.22,521.6 320.57,521.51 325.93,521.45 331.28,521.4 336.63,521.36 341.99,521.34 347.34,521.31 352.69,521.3 358.05,521.29 363.4,521.28 368.75,521.27 374.11,521.27 379.46,521.26 384.81,521.26 390.17,521.26 395.52,521.26 400.87,521.25 406.23,521.25 411.58,521.25 416.93,521.25 422.29,521.25 427.64,521.25 432.99,521.25 438.35,521.25 443.7,521.25" fill="none" stroke="#dcdcdc" stroke-width="1.4"/>
<polyline points="122.5,818.58 127.85,815.23 133.21,810.97 138.56,805.59 143.91,798.85 149.27,790.52 154.62,780.37 159.97,768.22 165.33,753.97 170.68,737.66 176.03,719.52 181.39,699.97 186.74,679.57 192.09,659.05 197.45,639.1 202.8,620.36 208.15,603.33 213.51,588.28 218.86,575.34 224.21,564.45 229.57,555.45 234.92,548.14 240.27,542.28 245.63,537.62 250.98,533.94 256.33,531.06 261.69,528.82 267.04,527.08 272.39,525.74 277.75,524.7 283.1,523.9 288.45,523.28 293.81,522.81 299.16,522.45 304.51,522.17 309.87,521.95 315.22,521.79 320.57,521.66 325.93,521.57 331.28,521.49 336.63,521.44 341.99,521.39 347.34,521.36 352.69,521.33 358.05,521.31 363.4,521.3 368.75,521.29 374.11,521.28 379.46,521.27 384.81,521.27 390.17,521.26 395.52,521.26 400.87,521.26 406.23,521.26 411.58,521.25 416.93,521.25 422.29,521.25 427.64,521.25 432.99,521.25 438.35,521.25 443.7,521.25" fill="none" stroke="#dcdcdc" stroke-width="1.4"/>
<polyline points="122.5,819.64 127.85,816.58 133.21,812.69 138.56,807.75 143.91,801.55 149.27,793.85 154.62,784.41 159.97,773.02 165.33,759.56 170.68,744.01 176.03,726.52 181.39,707.43 186.74,687.27 192.09,666.71 197.45,646.47 202.8,627.21 208.15,609.49 213.51,593.68 218.86,579.95 224.21,568.3 229.57,558.62 234.92,550.7 240.27,544.32 245.63,539.24 250.98,535.22 256.33,532.06 261.69,529.6 267.04,527.68 272.39,526.2 277.75,525.06 283.1,524.17 288.45,523.49 293.81,522.97 299.16,522.57 304.51,522.26 309.87,522.03 315.22,521.84 320.57,521.71 325.93,521.6 331.28,521.52 336.63,521.45 341.99,521.41 347.34,521.37 352.69,521.34 358.05,521.32 363.4,521.3 368.75,521.29 374.11,521.28 379.46,521.27 384.81,521.27 390.17,521.26 395.52,521.26 400.87,521.26 406.23,521.26 411.58,521.25 416.93,521.25 422.29,521.25 427.64,521.25 432.99,521.25 438.35,521.25 443.7,521.25" fill="none" stroke="#dcdcdc" stroke-width="1.4"/>
<polyline points="122.5,818.97 127.85,815.9 133.21,812.04 138.56,807.2 143.91,801.2 149.27,793.82 154.62,784.87 159.97,774.15 165.33,761.57 170.68,747.07 176.03,730.79 181.39,712.96 186.74,694.01 192.09,674.48 197.45,655 202.8,636.16 208.15,618.5 213.51,602.42 218.86,588.15 224.21,575.8 229.57,565.31 234.92,556.55 240.27,549.36 245.63,543.51 250.98,538.8 256.33,535.04 261.69,532.05 267.04,529.7 272.39,527.84 277.75,526.39 283.1,525.25 288.45,524.36 293.81,523.67 299.16,523.13 304.51,522.71 309.87,522.38 315.22,522.13 320.57,521.93 325.93,521.78 331.28,521.66 336.63,521.57 341.99,521.5 347.34,521.44 352.69,521.4 358.05,521.37 363.4,521.34 368.75,521.32 374.11,521.3 379.46,521.29 384.81,521.28 390.17,521.28 395.52,521.27 400.87,521.27 406.23,521.26 411.58,521.26 416.93,521.26 422.29,521.26 427.64,521.25 432.99,521.25 438.35,521.25 443.7,521.25" fill="none" stroke="#dcdcdc" stroke-width="1.4"/>
<polyline points="122.5,818.83 127.85,815.88 133.21,812.21 138.56,807.65 143.91,802.05 149.27,795.23 154.62,786.99 159.97,777.19 165.33,765.7 170.68,752.47 176.03,737.56 181.39,721.12 186.74,703.48 192.09,685.06 197.45,666.36 202.8,647.93 208.15,630.28 213.51,613.85 218.86,598.92 224.21,585.69 229.57,574.19 234.92,564.39 240.27,556.15 245.63,549.32 250.98,543.71 256.33,539.16 261.69,535.48 267.04,532.53 272.39,530.17 277.75,528.29 283.1,526.8 288.45,525.63 293.81,524.69 299.16,523.96 304.51,523.38 309.87,522.92 315.22,522.56 320.57,522.28 325.93,522.06 331.28,521.89 336.63,521.75 341.99,521.64 347.34,521.56 352.69,521.49 358.05,521.44 363.4,521.4 368.75,521.37 374.11,521.34 379.46,521.32 384.81,521.31 390.17,521.29 395.52,521.28 400.87,521.28 406.23,521.27 411.58,521.27 416.93,521.26 422.29,521.26 427.64,521.26 432.99,521.26 438.35,521.25 443.7,521.25" fill="none" stroke="#dcdcdc" stroke-width="1.4"/>
<polyline points="122.5,820.65 127.85,818.15 133.21,815.04 138.56,811.16 143.91,806.36 149.27,800.47 154.62,793.31 159.97,784.7 165.33,774.48 170.68,762.56 176.03,748.9 181.39,733.58 186.74,716.81 192.09,698.93 197.45,680.38 202.8,661.7 208.15,643.42 213.51,626.05 218.86,609.96 224.21,595.45 229.57,582.65 234.92,571.59 240.27,562.19 245.63,554.32 250.98,547.81 256.33,542.48 261.69,538.16 267.04,534.68 272.39,531.89 277.75,529.66 283.1,527.89 288.45,526.48 293.81,525.37 299.16,524.49 304.51,523.8 309.87,523.26 315.22,522.83 320.57,522.49 325.93,522.22 331.28,522.01 336.63,521.85 341.99,521.72 347.34,521.62 352.69,521.54 358.05,521.48 363.4,521.43 368.75,521.39 374.11,521.36 379.46,521.34 384.81,521.32 390.17,521.3 395.52,521.29 400.87,521.28 406.23,521.28 411.58,521.27 416.93,521.27 422.29,521.26 427.64,521.26 432.99,521.26 438.35,521.26 443.7,521.25" fill="none" stroke="#dcdcdc" stroke-width="1.4"/>
<polyline points="122.5,819.47 127.85,816.94 133.21,813.83 138.56,810.05 143.91,805.46 149.27,799.92 154.62,793.3 159.97,785.47 165.33,776.3 170.68,765.7 176.03,753.64 181.39,740.15 186.74,725.35 192.09,709.47 197.45,692.79 202.8,675.7 208.15,658.61 213.51,641.93 218.86,626.04 224.21,611.24 229.57,597.75 234.92,585.69 240.27,575.08 245.63,565.91 250.98,558.07 256.33,551.45 261.69,545.91 267.04,541.31 272.39,537.53 277.75,534.42 283.1,531.89 288.45,529.83 293.81,528.15 299.16,526.8 304.51,525.71 309.87,524.83 315.22,524.13 320.57,523.56 325.93,523.1 331.28,522.73 336.63,522.44 341.99,522.2 347.34,522.01 352.69,521.86 358.05,521.74 363.4,521.64 368.75,521.56 374.11,521.5 379.46,521.45 384.81,521.41 390.17,521.38 395.52,521.35 400.87,521.33 406.23,521.32 411.58,521.3 416.93,521.29 422.29,521.28 427.64,521.28 432.99,521.27 438.35,521.27 443.7,521.26" fill="none" stroke="#dcdcdc" stroke-width="1.4"/>
<polyline points="122.5,821.41 127.85,819.33 133.21,816.76 138.56,813.62 143.91,809.79 149.27,805.14 154.62,799.54 159.97,792.85 165.33,784.94 170.68,775.68 176.03,764.99 181.39,752.83 186.74,739.26 192.09,724.39 197.45,708.44 202.8,691.73 208.15,674.63 213.51,657.55 218.86,640.91 224.21,625.08 229.57,610.36 234.92,596.95 240.27,584.98 245.63,574.47 250.98,565.38 256.33,557.62 261.69,551.07 267.04,545.6 272.39,541.05 277.75,537.31 283.1,534.25 288.45,531.74 293.81,529.71 299.16,528.06 304.51,526.73 309.87,525.65 315.22,524.78 320.57,524.09 325.93,523.53 331.28,523.07 336.63,522.71 341.99,522.42 347.34,522.19 352.69,522 358.05,521.85 363.4,521.73 368.75,521.64 374.11,521.56 379.46,521.5 384.81,521.45 390.17,521.41 395.52,521.38 400.87,521.35 406.23,521.33 411.58,521.32 416.93,521.3 422.29,521.29 427.64,521.28 432.99,521.28 438.35,521.27 443.7,521.27" fill="none" stroke="#dcdcdc" stroke-width="1.4"/>
<line x1="108.2" y1="675.67" x2="459.7" y2="675.67" stroke="#8a8a8a" stroke-width="1.2" stroke-dasharray="7,5"/>
<line x1="172.7" y1="499.2" x2="172.7" y2="852.1" stroke="#8a8a8a" stroke-width="1.2" stroke-dasharray="7,5"/>
<polyline points="122.5,819.99 126.52,817.75 130.53,815.02 134.55,811.74 138.56,807.79 142.57,803.08 146.59,797.48 150.6,790.88 154.62,783.18 158.63,774.27 162.65,764.1 166.66,752.65 170.68,739.94 174.69,726.09 178.71,711.26 182.72,695.71 186.74,679.74 190.75,663.67 194.77,647.87 198.78,632.64 202.8,618.27 206.81,604.97 210.83,592.88 214.84,582.06 218.86,572.52 222.88,564.22 226.89,557.07 230.9,550.98 234.92,545.84 238.94,541.51 242.95,537.91 246.97,534.91 250.98,532.44 255,530.4 259.01,528.72 263.02,527.34 267.04,526.21 271.06,525.29 275.07,524.54 279.08,523.93 283.1,523.43 287.12,523.02 291.13,522.69 295.14,522.42 299.16,522.2 303.18,522.02 307.19,521.88 311.21,521.76 315.22,521.66 319.23,521.59 323.25,521.52 327.26,521.47 331.28,521.43 335.29,521.4 339.31,521.37 343.32,521.35 347.34,521.33 351.36,521.31 355.37,521.3 359.38,521.29 363.4,521.28 367.42,521.28 371.43,521.27 375.44,521.27 379.46,521.26 383.47,521.26 387.49,521.26 391.5,521.26 395.52,521.26 399.53,521.26 403.55,521.25 407.56,521.25 411.58,521.25 415.6,521.25 419.61,521.25 423.62,521.25 427.64,521.25 431.66,521.25 435.67,521.25 439.68,521.25 443.7,521.25" fill="none" stroke="#838383" stroke-width="6"/>
<line x1="135.61" y1="812.17" x2="135.61" y2="825.9" stroke="#000" stroke-width="1.7"/>
<circle cx="135.61" cy="820.41" r="5.2" fill="#000"/>
<line x1="146.1" y1="795.93" x2="146.1" y2="817.16" stroke="#000" stroke-width="1.7"/>
<circle cx="146.1" cy="807.67" r="5.2" fill="#000"/>
<line x1="167.33" y1="722.26" x2="167.33" y2="758.47" stroke="#000" stroke-width="1.7"/>
<circle cx="167.33" cy="740.99" r="5.2" fill="#000"/>
<line x1="199.3" y1="577.9" x2="199.3" y2="611.62" stroke="#000" stroke-width="1.7"/>
<circle cx="199.3" cy="593.64" r="5.2" fill="#000"/>
<line x1="273.98" y1="526.2" x2="273.98" y2="540.69" stroke="#000" stroke-width="1.7"/>
<circle cx="273.98" cy="531.2" r="5.2" fill="#000"/>
<line x1="423.33" y1="522.46" x2="423.33" y2="534.45" stroke="#000" stroke-width="1.7"/>
<circle cx="423.33" cy="526.2" r="5.2" fill="#000"/>
<path d="M108.2 499.2 V852.1 H459.7" fill="none" stroke="#000" stroke-width="1.9"/>
<line x1="102.7" y1="521.25" x2="108.2" y2="521.25" stroke="#333" stroke-width="1.5"/>
<text x="97.7" y="527.65" font-size="18" fill="#4d4d4d" stroke="#4d4d4d" stroke-width="0.25" text-anchor="end">1.0</text>
<line x1="102.7" y1="675.67" x2="108.2" y2="675.67" stroke="#333" stroke-width="1.5"/>
<text x="97.7" y="682.07" font-size="18" fill="#4d4d4d" stroke="#4d4d4d" stroke-width="0.25" text-anchor="end">0.5</text>
<line x1="102.7" y1="830.1" x2="108.2" y2="830.1" stroke="#333" stroke-width="1.5"/>
<text x="97.7" y="836.5" font-size="18" fill="#4d4d4d" stroke="#4d4d4d" stroke-width="0.25" text-anchor="end">0.0</text>
<line x1="132.56" y1="852.1" x2="132.56" y2="857.6" stroke="#333" stroke-width="1.5"/>
<text x="132.56" y="874.7" font-size="18" fill="#4d4d4d" stroke="#4d4d4d" stroke-width="0.25" text-anchor="middle">−40</text>
<line x1="172.7" y1="852.1" x2="172.7" y2="857.6" stroke="#333" stroke-width="1.5"/>
<text x="172.7" y="874.7" font-size="18" fill="#4d4d4d" stroke="#4d4d4d" stroke-width="0.25" text-anchor="middle">0</text>
<line x1="423.6" y1="852.1" x2="423.6" y2="857.6" stroke="#333" stroke-width="1.5"/>
<text x="423.6" y="874.7" font-size="18" fill="#4d4d4d" stroke="#4d4d4d" stroke-width="0.25" text-anchor="middle">250</text>
<text x="296.5" y="776.2" font-size="20.8" text-anchor="middle" fill="#000" stroke="#000" stroke-width="0.3">SubjectID: 2244</text>
<text x="296.5" y="806.2" font-size="20.7" text-anchor="middle" fill="#000" stroke="#000" stroke-width="0.3">12 sessions</text>
<text x="283.95" y="900.8" font-size="23" text-anchor="middle" fill="#000" stroke="#000" stroke-width="0.2">EV<tspan font-size="16" dy="4">lottery</tspan><tspan dy="-4" dx="2.7">−</tspan><tspan dx="3.3">EV</tspan><tspan font-size="16" dy="4">surebet</tspan></text>
<text transform="translate(55.9,675.65) rotate(-90)" x="0" y="0" font-size="21.7" text-anchor="middle" fill="#000" stroke="#000" stroke-width="0.2" dominant-baseline="central">P(Chose Lottery)</text>
</g>
<g>
<polyline points="1173.7,705.2 1179.05,700.41 1184.4,695.58 1189.76,690.7 1195.11,685.79 1200.46,680.87 1205.81,675.93 1211.16,670.99 1216.51,666.06 1221.87,661.15 1227.22,656.27 1232.57,651.43 1237.92,646.64 1243.27,641.91 1248.62,637.24 1253.98,632.64 1259.33,628.13 1264.68,623.7 1270.03,619.37 1275.38,615.14 1280.73,611.01 1286.09,606.99 1291.44,603.09 1296.79,599.3 1302.14,595.63 1307.49,592.07 1312.84,588.64 1318.19,585.33 1323.55,582.15 1328.9,579.08 1334.25,576.13 1339.6,573.3 1344.95,570.59 1350.31,568 1355.66,565.52 1361.01,563.15 1366.36,560.88 1371.71,558.72 1377.06,556.67 1382.41,554.71 1387.77,552.85 1393.12,551.08 1398.47,549.4 1403.82,547.81 1409.17,546.29 1414.53,544.86 1419.88,543.5 1425.23,542.22 1430.58,541 1435.93,539.85 1441.28,538.76 1446.63,537.74 1451.99,536.77 1457.34,535.85 1462.69,534.99 1468.04,534.17 1473.39,533.4 1478.74,532.68 1484.1,531.99 1489.45,531.35 1494.8,530.74" fill="none" stroke="#dcdcdc" stroke-width="1.4"/>
<polyline points="1173.7,712.56 1179.05,707.87 1184.4,703.11 1189.76,698.31 1195.11,693.45 1200.46,688.56 1205.81,683.64 1211.16,678.71 1216.51,673.77 1221.87,668.84 1227.22,663.92 1232.57,659.02 1237.92,654.16 1243.27,649.33 1248.62,644.57 1253.98,639.86 1259.33,635.22 1264.68,630.66 1270.03,626.18 1275.38,621.8 1280.73,617.51 1286.09,613.32 1291.44,609.24 1296.79,605.27 1302.14,601.42 1307.49,597.68 1312.84,594.06 1318.19,590.56 1323.55,587.18 1328.9,583.93 1334.25,580.79 1339.6,577.78 1344.95,574.88 1350.31,572.11 1355.66,569.45 1361.01,566.9 1366.36,564.47 1371.71,562.14 1377.06,559.93 1382.41,557.81 1387.77,555.8 1393.12,553.89 1398.47,552.07 1403.82,550.34 1409.17,548.69 1414.53,547.14 1419.88,545.66 1425.23,544.26 1430.58,542.93 1435.93,541.68 1441.28,540.49 1446.63,539.37 1451.99,538.31 1457.34,537.31 1462.69,536.36 1468.04,535.47 1473.39,534.62 1478.74,533.83 1484.1,533.08 1489.45,532.37 1494.8,531.71" fill="none" stroke="#dcdcdc" stroke-width="1.4"/>
<polyline points="1173.7,717.86 1179.05,713.37 1184.4,708.8 1189.76,704.17 1195.11,699.49 1200.46,694.77 1205.81,690.01 1211.16,685.22 1216.51,680.41 1221.87,675.59 1227.22,670.77 1232.57,665.97 1237.92,661.18 1243.27,656.42 1248.62,651.69 1253.98,647.01 1259.33,642.39 1264.68,637.83 1270.03,633.33 1275.38,628.91 1280.73,624.58 1286.09,620.33 1291.44,616.18 1296.79,612.13 1302.14,608.18 1307.49,604.33 1312.84,600.6 1318.19,596.97 1323.55,593.46 1328.9,590.07 1334.25,586.79 1339.6,583.62 1344.95,580.57 1350.31,577.64 1355.66,574.82 1361.01,572.11 1366.36,569.52 1371.71,567.03 1377.06,564.65 1382.41,562.37 1387.77,560.2 1393.12,558.12 1398.47,556.14 1403.82,554.26 1409.17,552.46 1414.53,550.75 1419.88,549.13 1425.23,547.59 1430.58,546.12 1435.93,544.73 1441.28,543.41 1446.63,542.16 1451.99,540.98 1457.34,539.86 1462.69,538.79 1468.04,537.79 1473.39,536.84 1478.74,535.94 1484.1,535.09 1489.45,534.29 1494.8,533.53" fill="none" stroke="#dcdcdc" stroke-width="1.4"/>
<polyline points="1173.7,724.76 1179.05,720.54 1184.4,716.25 1189.76,711.88 1195.11,707.46 1200.46,702.98 1205.81,698.46 1211.16,693.89 1216.51,689.29 1221.87,684.67 1227.22,680.03 1232.57,675.38 1237.92,670.73 1243.27,666.09 1248.62,661.47 1253.98,656.88 1259.33,652.32 1264.68,647.8 1270.03,643.32 1275.38,638.91 1280.73,634.56 1286.09,630.27 1291.44,626.06 1296.79,621.94 1302.14,617.89 1307.49,613.94 1312.84,610.08 1318.19,606.32 1323.55,602.66 1328.9,599.1 1334.25,595.65 1339.6,592.3 1344.95,589.06 1350.31,585.93 1355.66,582.9 1361.01,579.99 1366.36,577.18 1371.71,574.47 1377.06,571.87 1382.41,569.37 1387.77,566.98 1393.12,564.68 1398.47,562.48 1403.82,560.38 1409.17,558.37 1414.53,556.45 1419.88,554.61 1425.23,552.86 1430.58,551.19 1435.93,549.6 1441.28,548.09 1446.63,546.65 1451.99,545.28 1457.34,543.98 1462.69,542.75 1468.04,541.57 1473.39,540.46 1478.74,539.4 1484.1,538.4 1489.45,537.45 1494.8,536.55" fill="none" stroke="#dcdcdc" stroke-width="1.4"/>
<polyline points="1173.7,732.76 1179.05,728.71 1184.4,724.56 1189.76,720.34 1195.11,716.05 1200.46,711.68 1205.81,707.26 1211.16,702.78 1216.51,698.25 1221.87,693.68 1227.22,689.08 1232.57,684.45 1237.92,679.81 1243.27,675.17 1248.62,670.52 1253.98,665.88 1259.33,661.26 1264.68,656.67 1270.03,652.11 1275.38,647.59 1280.73,643.12 1286.09,638.71 1291.44,634.36 1296.79,630.08 1302.14,625.87 1307.49,621.75 1312.84,617.71 1318.19,613.76 1323.55,609.91 1328.9,606.15 1334.25,602.49 1339.6,598.94 1344.95,595.49 1350.31,592.15 1355.66,588.92 1361.01,585.79 1366.36,582.77 1371.71,579.86 1377.06,577.05 1382.41,574.35 1387.77,571.75 1393.12,569.26 1398.47,566.87 1403.82,564.58 1409.17,562.38 1414.53,560.28 1419.88,558.28 1425.23,556.36 1430.58,554.53 1435.93,552.78 1441.28,551.12 1446.63,549.53 1451.99,548.02 1457.34,546.59 1462.69,545.22 1468.04,543.92 1473.39,542.69 1478.74,541.52 1484.1,540.41 1489.45,539.36 1494.8,538.36" fill="none" stroke="#dcdcdc" stroke-width="1.4"/>
<polyline points="1173.7,744.13 1179.05,740.34 1184.4,736.46 1189.76,732.49 1195.11,728.42 1200.46,724.28 1205.81,720.05 1211.16,715.75 1216.51,711.38 1221.87,706.95 1227.22,702.46 1232.57,697.93 1237.92,693.36 1243.27,688.76 1248.62,684.13 1253.98,679.49 1259.33,674.84 1264.68,670.2 1270.03,665.56 1275.38,660.94 1280.73,656.35 1286.09,651.79 1291.44,647.28 1296.79,642.81 1302.14,638.4 1307.49,634.06 1312.84,629.78 1318.19,625.58 1323.55,621.47 1328.9,617.43 1334.25,613.49 1339.6,609.64 1344.95,605.89 1350.31,602.25 1355.66,598.7 1361.01,595.26 1366.36,591.92 1371.71,588.7 1377.06,585.58 1382.41,582.56 1387.77,579.66 1393.12,576.86 1398.47,574.17 1403.82,571.58 1409.17,569.09 1414.53,566.71 1419.88,564.42 1425.23,562.24 1430.58,560.14 1435.93,558.14 1441.28,556.23 1446.63,554.41 1451.99,552.67 1457.34,551.01 1462.69,549.43 1468.04,547.92 1473.39,546.49 1478.74,545.13 1484.1,543.84 1489.45,542.61 1494.8,541.44" fill="none" stroke="#dcdcdc" stroke-width="1.4"/>
<polyline points="1173.7,754.64 1179.05,751.15 1184.4,747.56 1189.76,743.87 1195.11,740.08 1200.46,736.19 1205.81,732.21 1211.16,728.14 1216.51,723.99 1221.87,719.75 1227.22,715.45 1232.57,711.07 1237.92,706.64 1243.27,702.15 1248.62,697.62 1253.98,693.05 1259.33,688.44 1264.68,683.81 1270.03,679.17 1275.38,674.52 1280.73,669.88 1286.09,665.24 1291.44,660.63 1296.79,656.04 1302.14,651.48 1307.49,646.97 1312.84,642.51 1318.19,638.1 1323.55,633.76 1328.9,629.49 1334.25,625.3 1339.6,621.18 1344.95,617.16 1350.31,613.22 1355.66,609.38 1361.01,605.64 1366.36,602 1371.71,598.46 1377.06,595.03 1382.41,591.7 1387.77,588.48 1393.12,585.36 1398.47,582.36 1403.82,579.46 1409.17,576.67 1414.53,573.98 1419.88,571.4 1425.23,568.93 1430.58,566.55 1435.93,564.27 1441.28,562.09 1446.63,560 1451.99,558.01 1457.34,556.1 1462.69,554.28 1468.04,552.55 1473.39,550.9 1478.74,549.32 1484.1,547.82 1489.45,546.39 1494.8,545.04" fill="none" stroke="#dcdcdc" stroke-width="1.4"/>
<polyline points="1173.7,761.91 1179.05,758.77 1184.4,755.53 1189.76,752.19 1195.11,748.75 1200.46,745.22 1205.81,741.59 1211.16,737.87 1216.51,734.07 1221.87,730.18 1227.22,726.21 1232.57,722.16 1237.92,718.04 1243.27,713.86 1248.62,709.61 1253.98,705.31 1259.33,700.97 1264.68,696.58 1270.03,692.15 1275.38,687.7 1280.73,683.23 1286.09,678.74 1291.44,674.25 1296.79,669.77 1302.14,665.29 1307.49,660.83 1312.84,656.39 1318.19,651.99 1323.55,647.63 1328.9,643.31 1334.25,639.04 1339.6,634.83 1344.95,630.69 1350.31,626.62 1355.66,622.62 1361.01,618.7 1366.36,614.86 1371.71,611.11 1377.06,607.45 1382.41,603.88 1387.77,600.41 1393.12,597.04 1398.47,593.76 1403.82,590.58 1409.17,587.51 1414.53,584.53 1419.88,581.65 1425.23,578.88 1430.58,576.2 1435.93,573.62 1441.28,571.14 1446.63,568.76 1451.99,566.47 1457.34,564.27 1462.69,562.16 1468.04,560.14 1473.39,558.2 1478.74,556.35 1484.1,554.58 1489.45,552.89 1494.8,551.28" fill="none" stroke="#dcdcdc" stroke-width="1.4"/>
<polyline points="1173.7,770.53 1179.05,767.69 1184.4,764.74 1189.76,761.69 1195.11,758.55 1200.46,755.3 1205.81,751.95 1211.16,748.51 1216.51,744.97 1221.87,741.34 1227.22,737.61 1232.57,733.8 1237.92,729.91 1243.27,725.93 1248.62,721.88 1253.98,717.76 1259.33,713.57 1264.68,709.32 1270.03,705.02 1275.38,700.66 1280.73,696.27 1286.09,691.85 1291.44,687.39 1296.79,682.92 1302.14,678.43 1307.49,673.94 1312.84,669.46 1318.19,664.98 1323.55,660.52 1328.9,656.09 1334.25,651.69 1339.6,647.33 1344.95,643.01 1350.31,638.75 1355.66,634.55 1361.01,630.41 1366.36,626.34 1371.71,622.34 1377.06,618.43 1382.41,614.6 1387.77,610.85 1393.12,607.2 1398.47,603.64 1403.82,600.18 1409.17,596.81 1414.53,593.54 1419.88,590.37 1425.23,587.3 1430.58,584.33 1435.93,581.46 1441.28,578.69 1446.63,576.02 1451.99,573.45 1457.34,570.97 1462.69,568.6 1468.04,566.31 1473.39,564.12 1478.74,562.02 1484.1,560 1489.45,558.07 1494.8,556.23" fill="none" stroke="#dcdcdc" stroke-width="1.4"/>
<line x1="1159.4" y1="675.67" x2="1510.8" y2="675.67" stroke="#8a8a8a" stroke-width="1.2" stroke-dasharray="7,5"/>
<line x1="1227" y1="499.2" x2="1227" y2="852.1" stroke="#8a8a8a" stroke-width="1.2" stroke-dasharray="7,5"/>
<polyline points="1173.7,743.26 1177.71,740.43 1181.73,737.54 1185.74,734.59 1189.76,731.6 1193.77,728.56 1197.78,725.47 1201.8,722.33 1205.81,719.15 1209.82,715.93 1213.84,712.68 1217.85,709.38 1221.87,706.06 1225.88,702.71 1229.89,699.32 1233.91,695.92 1237.92,692.5 1241.93,689.06 1245.95,685.6 1249.96,682.14 1253.98,678.67 1257.99,675.19 1262,671.72 1266.02,668.25 1270.03,664.79 1274.04,661.33 1278.06,657.9 1282.07,654.48 1286.09,651.08 1290.1,647.71 1294.11,644.36 1298.13,641.05 1302.14,637.76 1306.15,634.52 1310.17,631.31 1314.18,628.14 1318.19,625.02 1322.21,621.94 1326.22,618.91 1330.24,615.93 1334.25,613 1338.26,610.13 1342.28,607.31 1346.29,604.54 1350.31,601.83 1354.32,599.18 1358.33,596.59 1362.35,594.06 1366.36,591.58 1370.37,589.17 1374.39,586.81 1378.4,584.52 1382.41,582.29 1386.43,580.11 1390.44,578 1394.46,575.94 1398.47,573.95 1402.48,572.01 1406.5,570.13 1410.51,568.31 1414.53,566.54 1418.54,564.83 1422.55,563.17 1426.57,561.57 1430.58,560.02 1434.59,558.52 1438.61,557.07 1442.62,555.67 1446.63,554.31 1450.65,553.01 1454.66,551.75 1458.68,550.53 1462.69,549.36 1466.7,548.23 1470.72,547.15 1474.73,546.1 1478.74,545.09 1482.76,544.12 1486.77,543.18 1490.79,542.28 1494.8,541.42" fill="none" stroke="#838383" stroke-width="6"/>
<line x1="1189.11" y1="668.56" x2="1189.11" y2="743.49" stroke="#000" stroke-width="1.7"/>
<circle cx="1189.11" cy="707.27" r="5.2" fill="#000"/>
<line x1="1199.85" y1="714.77" x2="1199.85" y2="757.97" stroke="#000" stroke-width="1.7"/>
<circle cx="1199.85" cy="737.24" r="5.2" fill="#000"/>
<line x1="1210.59" y1="728.5" x2="1210.59" y2="772.21" stroke="#000" stroke-width="1.7"/>
<circle cx="1210.59" cy="751.73" r="5.2" fill="#000"/>
<line x1="1221.33" y1="676.05" x2="1221.33" y2="717.26" stroke="#000" stroke-width="1.7"/>
<circle cx="1221.33" cy="696.78" r="5.2" fill="#000"/>
<line x1="1253.55" y1="573.16" x2="1253.55" y2="660.32" stroke="#000" stroke-width="1.7"/>
<circle cx="1253.55" cy="612.37" r="5.2" fill="#000"/>
<line x1="1263.79" y1="644.09" x2="1263.79" y2="693.54" stroke="#000" stroke-width="1.7"/>
<circle cx="1263.79" cy="669.06" r="5.2" fill="#000"/>
<line x1="1327.97" y1="577.9" x2="1327.97" y2="614.12" stroke="#000" stroke-width="1.7"/>
<circle cx="1327.97" cy="594.89" r="5.2" fill="#000"/>
<line x1="1466.58" y1="545.43" x2="1466.58" y2="573.16" stroke="#000" stroke-width="1.7"/>
<circle cx="1466.58" cy="557.42" r="5.2" fill="#000"/>
<path d="M1159.4 499.2 V852.1 H1510.8" fill="none" stroke="#000" stroke-width="1.9"/>
<line x1="1153.9" y1="521.25" x2="1159.4" y2="521.25" stroke="#333" stroke-width="1.5"/>
<text x="1148.9" y="527.65" font-size="18" fill="#4d4d4d" stroke="#4d4d4d" stroke-width="0.25" text-anchor="end">1.0</text>
<line x1="1153.9" y1="675.67" x2="1159.4" y2="675.67" stroke="#333" stroke-width="1.5"/>
<text x="1148.9" y="682.07" font-size="18" fill="#4d4d4d" stroke="#4d4d4d" stroke-width="0.25" text-anchor="end">0.5</text>
<line x1="1153.9" y1="830.1" x2="1159.4" y2="830.1" stroke="#333" stroke-width="1.5"/>
<text x="1148.9" y="836.5" font-size="18" fill="#4d4d4d" stroke="#4d4d4d" stroke-width="0.25" text-anchor="end">0.0</text>
<line x1="1185.17" y1="852.1" x2="1185.17" y2="857.6" stroke="#333" stroke-width="1.5"/>
<text x="1185.17" y="874.7" font-size="18" fill="#4d4d4d" stroke="#4d4d4d" stroke-width="0.25" text-anchor="middle">−40</text>
<line x1="1227" y1="852.1" x2="1227" y2="857.6" stroke="#333" stroke-width="1.5"/>
<text x="1227" y="874.7" font-size="18" fill="#4d4d4d" stroke="#4d4d4d" stroke-width="0.25" text-anchor="middle">0</text>
<line x1="1467.51" y1="852.1" x2="1467.51" y2="857.6" stroke="#333" stroke-width="1.5"/>
<text x="1467.51" y="874.7" font-size="18" fill="#4d4d4d" stroke="#4d4d4d" stroke-width="0.25" text-anchor="middle">230</text>
<text x="1349.5" y="776.2" font-size="20.8" text-anchor="middle" fill="#000" stroke="#000" stroke-width="0.3">SubjectID: 2263</text>
<text x="1349.5" y="806.2" font-size="20.7" text-anchor="middle" fill="#000" stroke="#000" stroke-width="0.3">9 sessions</text>
<text x="1335.1" y="900.8" font-size="23" text-anchor="middle" fill="#000" stroke="#000" stroke-width="0.2">EV<tspan font-size="16" dy="4">lottery</tspan><tspan dy="-4" dx="2.7">−</tspan><tspan dx="3.3">EV</tspan><tspan font-size="16" dy="4">surebet</tspan></text>
<text transform="translate(1107.1,675.65) rotate(-90)" x="0" y="0" font-size="21.7" text-anchor="middle" fill="#000" stroke="#000" stroke-width="0.2" dominant-baseline="central">P(Chose Lottery)</text>
</g>
<g>
<polyline points="122.5,1245.99 127.85,1243.42 133.21,1240.55 138.56,1237.36 143.91,1233.82 149.27,1229.9 154.62,1225.57 159.97,1220.82 165.33,1215.61 170.68,1209.93 176.03,1203.77 181.39,1197.12 186.74,1189.98 192.09,1182.36 197.45,1174.29 202.8,1165.77 208.15,1156.87 213.51,1147.63 218.86,1138.11 224.21,1128.38 229.57,1118.51 234.92,1108.59 240.27,1098.69 245.63,1088.9 250.98,1079.3 256.33,1069.95 261.69,1060.92 267.04,1052.26 272.39,1044.02 277.75,1036.24 283.1,1028.93 288.45,1022.1 293.81,1015.77 299.16,1009.92 304.51,1004.54 309.87,999.63 315.22,995.15 320.57,991.09 325.93,987.42 331.28,984.1 336.63,981.12 341.99,978.45 347.34,976.06 352.69,973.92 358.05,972.02 363.4,970.32 368.75,968.82 374.11,967.48 379.46,966.29 384.81,965.24 390.17,964.31 395.52,963.49 400.87,962.76 406.23,962.12 411.58,961.55 416.93,961.05 422.29,960.61 427.64,960.22 432.99,959.87 438.35,959.57 443.7,959.31" fill="none" stroke="#dcdcdc" stroke-width="1.4"/>
<polyline points="122.5,1238.02 127.85,1235.27 133.21,1232.29 138.56,1229.05 143.91,1225.56 149.27,1221.79 154.62,1217.73 159.97,1213.38 165.33,1208.72 170.68,1203.76 176.03,1198.47 181.39,1192.88 186.74,1186.97 192.09,1180.77 197.45,1174.26 202.8,1167.49 208.15,1160.46 213.51,1153.19 218.86,1145.72 224.21,1138.09 229.57,1130.31 234.92,1122.44 240.27,1114.52 245.63,1106.58 250.98,1098.67 256.33,1090.82 261.69,1083.09 267.04,1075.5 272.39,1068.09 277.75,1060.9 283.1,1053.94 288.45,1047.25 293.81,1040.83 299.16,1034.72 304.51,1028.91 309.87,1023.41 315.22,1018.23 320.57,1013.35 325.93,1008.79 331.28,1004.53 336.63,1000.57 341.99,996.88 347.34,993.47 352.69,990.32 358.05,987.41 363.4,984.73 368.75,982.27 374.11,980.01 379.46,977.94 384.81,976.05 390.17,974.33 395.52,972.75 400.87,971.31 406.23,970 411.58,968.81 416.93,967.73 422.29,966.75 427.64,965.85 432.99,965.04 438.35,964.31 443.7,963.64" fill="none" stroke="#dcdcdc" stroke-width="1.4"/>
<polyline points="122.5,1247.61 127.85,1245.4 133.21,1242.95 138.56,1240.23 143.91,1237.23 149.27,1233.92 154.62,1230.29 159.97,1226.3 165.33,1221.94 170.68,1217.2 176.03,1212.04 181.39,1206.47 186.74,1200.48 192.09,1194.06 197.45,1187.21 202.8,1179.95 208.15,1172.3 213.51,1164.28 218.86,1155.92 224.21,1147.28 229.57,1138.39 234.92,1129.31 240.27,1120.12 245.63,1110.86 250.98,1101.61 256.33,1092.43 261.69,1083.39 267.04,1074.54 272.39,1065.95 277.75,1057.66 283.1,1049.71 288.45,1042.13 293.81,1034.95 299.16,1028.19 304.51,1021.85 309.87,1015.94 315.22,1010.45 320.57,1005.38 325.93,1000.71 331.28,996.43 336.63,992.52 341.99,988.95 347.34,985.7 352.69,982.76 358.05,980.1 363.4,977.69 368.75,975.53 374.11,973.58 379.46,971.83 384.81,970.26 390.17,968.86 395.52,967.6 400.87,966.47 406.23,965.47 411.58,964.57 416.93,963.77 422.29,963.06 427.64,962.42 432.99,961.86 438.35,961.36 443.7,960.91" fill="none" stroke="#dcdcdc" stroke-width="1.4"/>
<line x1="108.2" y1="1111.77" x2="459.7" y2="1111.77" stroke="#8a8a8a" stroke-width="1.2" stroke-dasharray="7,5"/>
<line x1="199" y1="935.3" x2="199" y2="1288.2" stroke="#8a8a8a" stroke-width="1.2" stroke-dasharray="7,5"/>
<polyline points="122.5,1241.76 126.52,1239.78 130.53,1237.66 134.54,1235.38 138.56,1232.94 142.57,1230.34 146.59,1227.56 150.6,1224.59 154.62,1221.44 158.63,1218.09 162.65,1214.54 166.66,1210.79 170.68,1206.82 174.69,1202.64 178.71,1198.25 182.72,1193.64 186.74,1188.82 190.75,1183.79 194.77,1178.56 198.78,1173.14 202.8,1167.53 206.81,1161.74 210.83,1155.79 214.84,1149.7 218.86,1143.48 222.88,1137.14 226.89,1130.73 230.9,1124.24 234.92,1117.71 238.94,1111.15 242.95,1104.6 246.97,1098.08 250.98,1091.6 254.99,1085.2 259.01,1078.88 263.02,1072.69 267.04,1066.62 271.06,1060.7 275.07,1054.95 279.08,1049.37 283.1,1043.98 287.12,1038.79 291.13,1033.8 295.14,1029.02 299.16,1024.45 303.17,1020.1 307.19,1015.96 311.2,1012.04 315.22,1008.32 319.24,1004.81 323.25,1001.5 327.26,998.38 331.28,995.45 335.29,992.71 339.31,990.13 343.32,987.73 347.34,985.48 351.35,983.38 355.37,981.43 359.38,979.61 363.4,977.92 367.41,976.35 371.43,974.89 375.44,973.54 379.46,972.28 383.47,971.12 387.49,970.05 391.5,969.05 395.52,968.13 399.53,967.28 403.55,966.5 407.56,965.77 411.58,965.11 415.59,964.49 419.61,963.92 423.62,963.4 427.64,962.91 431.65,962.47 435.67,962.06 439.69,961.68 443.7,961.33" fill="none" stroke="#838383" stroke-width="6"/>
<line x1="141.11" y1="1246.67" x2="141.11" y2="1265.9" stroke="#000" stroke-width="1.7"/>
<circle cx="141.11" cy="1265.9" r="5.2" fill="#000"/>
<line x1="151.1" y1="1247.17" x2="151.1" y2="1265.9" stroke="#000" stroke-width="1.7"/>
<circle cx="151.1" cy="1265.9" r="5.2" fill="#000"/>
<line x1="172.58" y1="1183.48" x2="172.58" y2="1242.17" stroke="#000" stroke-width="1.7"/>
<circle cx="172.58" cy="1217.7" r="5.2" fill="#000"/>
<line x1="204.8" y1="1049.87" x2="204.8" y2="1116.8" stroke="#000" stroke-width="1.7"/>
<circle cx="204.8" cy="1082.33" r="5.2" fill="#000"/>
<line x1="279.22" y1="1004.41" x2="279.22" y2="1064.85" stroke="#000" stroke-width="1.7"/>
<circle cx="279.22" cy="1031.63" r="5.2" fill="#000"/>
<line x1="417.83" y1="972.44" x2="417.83" y2="1015.65" stroke="#000" stroke-width="1.7"/>
<circle cx="417.83" cy="989.43" r="5.2" fill="#000"/>
<path d="M108.2 935.3 V1288.2 H459.7" fill="none" stroke="#000" stroke-width="1.9"/>
<line x1="102.7" y1="957.35" x2="108.2" y2="957.35" stroke="#333" stroke-width="1.5"/>
<text x="97.7" y="963.75" font-size="18" fill="#4d4d4d" stroke="#4d4d4d" stroke-width="0.25" text-anchor="end">1.0</text>
<line x1="102.7" y1="1111.77" x2="108.2" y2="1111.77" stroke="#333" stroke-width="1.5"/>
<text x="97.7" y="1118.17" font-size="18" fill="#4d4d4d" stroke="#4d4d4d" stroke-width="0.25" text-anchor="end">0.5</text>
<line x1="102.7" y1="1266.2" x2="108.2" y2="1266.2" stroke="#333" stroke-width="1.5"/>
<text x="97.7" y="1272.6" font-size="18" fill="#4d4d4d" stroke="#4d4d4d" stroke-width="0.25" text-anchor="end">0.0</text>
<line x1="139.52" y1="1288.2" x2="139.52" y2="1293.7" stroke="#333" stroke-width="1.5"/>
<text x="139.52" y="1310.8" font-size="18" fill="#4d4d4d" stroke="#4d4d4d" stroke-width="0.25" text-anchor="middle">−40</text>
<line x1="199" y1="1288.2" x2="199" y2="1293.7" stroke="#333" stroke-width="1.5"/>
<text x="199" y="1310.8" font-size="18" fill="#4d4d4d" stroke="#4d4d4d" stroke-width="0.25" text-anchor="middle">0</text>
<line x1="422.05" y1="1288.2" x2="422.05" y2="1293.7" stroke="#333" stroke-width="1.5"/>
<text x="422.05" y="1310.8" font-size="18" fill="#4d4d4d" stroke="#4d4d4d" stroke-width="0.25" text-anchor="middle">150</text>
<text x="310.5" y="1212.3" font-size="20.8" text-anchor="middle" fill="#000" stroke="#000" stroke-width="0.3">SubjectID: 2261</text>
<text x="310.5" y="1242.3" font-size="20.7" text-anchor="middle" fill="#000" stroke="#000" stroke-width="0.3">4 sessions</text>
<text x="283.95" y="1336.9" font-size="23" text-anchor="middle" fill="#000" stroke="#000" stroke-width="0.2">EV<tspan font-size="16" dy="4">lottery</tspan><tspan dy="-4" dx="2.7">−</tspan><tspan dx="3.3">EV</tspan><tspan font-size="16" dy="4">surebet</tspan></text>
<text transform="translate(55.9,1111.75) rotate(-90)" x="0" y="0" font-size="21.7" text-anchor="middle" fill="#000" stroke="#000" stroke-width="0.2" dominant-baseline="central">P(Chose Lottery)</text>
</g>
<g>
<polyline points="1173.7,1246.74 1179.05,1239.17 1184.4,1229.04 1189.76,1215.8 1195.11,1199.01 1200.46,1178.51 1205.81,1154.66 1211.16,1128.35 1216.51,1101.04 1221.87,1074.39 1227.22,1049.9 1232.57,1028.64 1237.92,1011.05 1243.27,997.07 1248.62,986.32 1253.97,978.25 1259.33,972.31 1264.68,968 1270.03,964.89 1275.38,962.68 1280.73,961.11 1286.09,959.99 1291.44,959.21 1296.79,958.66 1302.14,958.27 1307.49,957.99 1312.84,957.8 1318.19,957.67 1323.55,957.57 1328.9,957.51 1334.25,957.46 1339.6,957.43 1344.95,957.4 1350.31,957.39 1355.66,957.38 1361.01,957.37 1366.36,957.36 1371.71,957.36 1377.06,957.36 1382.41,957.35 1387.77,957.35 1393.12,957.35 1398.47,957.35 1403.82,957.35 1409.17,957.35 1414.52,957.35 1419.88,957.35 1425.23,957.35 1430.58,957.35 1435.93,957.35 1441.28,957.35 1446.63,957.35 1451.99,957.35 1457.34,957.35 1462.69,957.35 1468.04,957.35 1473.39,957.35 1478.74,957.35 1484.1,957.35 1489.45,957.35 1494.8,957.35" fill="none" stroke="#dcdcdc" stroke-width="1.4"/>
<polyline points="1173.7,1242.48 1179.05,1234.73 1184.4,1224.81 1189.76,1212.37 1195.11,1197.15 1200.46,1179.1 1205.81,1158.46 1211.16,1135.79 1216.51,1112.02 1221.87,1088.23 1227.22,1065.54 1232.57,1044.84 1237.92,1026.74 1243.27,1011.47 1248.62,998.97 1253.97,989 1259.33,981.21 1264.68,975.21 1270.03,970.65 1275.38,967.21 1280.73,964.64 1286.09,962.73 1291.44,961.31 1296.79,960.26 1302.14,959.49 1307.49,958.92 1312.84,958.51 1318.19,958.2 1323.55,957.97 1328.9,957.81 1334.25,957.68 1339.6,957.6 1344.95,957.53 1350.31,957.48 1355.66,957.45 1361.01,957.42 1366.36,957.4 1371.71,957.39 1377.06,957.38 1382.41,957.37 1387.77,957.37 1393.12,957.36 1398.47,957.36 1403.82,957.36 1409.17,957.35 1414.52,957.35 1419.88,957.35 1425.23,957.35 1430.58,957.35 1435.93,957.35 1441.28,957.35 1446.63,957.35 1451.99,957.35 1457.34,957.35 1462.69,957.35 1468.04,957.35 1473.39,957.35 1478.74,957.35 1484.1,957.35 1489.45,957.35 1494.8,957.35" fill="none" stroke="#dcdcdc" stroke-width="1.4"/>
<polyline points="1173.7,1238.6 1179.05,1230.84 1184.4,1221.24 1189.76,1209.57 1195.11,1195.68 1200.46,1179.56 1205.81,1161.37 1211.16,1141.5 1216.51,1120.56 1221.87,1099.29 1227.22,1078.49 1232.57,1058.88 1237.92,1041.03 1243.27,1025.29 1248.62,1011.79 1253.97,1000.5 1259.33,991.23 1264.68,983.76 1270.03,977.81 1275.38,973.13 1280.73,969.47 1286.09,966.64 1291.44,964.45 1296.79,962.77 1302.14,961.48 1307.49,960.49 1312.84,959.74 1318.19,959.17 1323.55,958.73 1328.9,958.4 1334.25,958.15 1339.6,957.96 1344.95,957.81 1350.31,957.7 1355.66,957.61 1361.01,957.55 1366.36,957.5 1371.71,957.47 1377.06,957.44 1382.41,957.42 1387.77,957.4 1393.12,957.39 1398.47,957.38 1403.82,957.37 1409.17,957.37 1414.52,957.36 1419.88,957.36 1425.23,957.36 1430.58,957.36 1435.93,957.35 1441.28,957.35 1446.63,957.35 1451.99,957.35 1457.34,957.35 1462.69,957.35 1468.04,957.35 1473.39,957.35 1478.74,957.35 1484.1,957.35 1489.45,957.35 1494.8,957.35" fill="none" stroke="#dcdcdc" stroke-width="1.4"/>
<polyline points="1173.7,1233.67 1179.05,1225.7 1184.4,1216.14 1189.76,1204.83 1195.11,1191.7 1200.46,1176.77 1205.81,1160.22 1211.16,1142.32 1216.51,1123.53 1221.87,1104.38 1227.22,1085.46 1232.57,1067.32 1237.92,1050.42 1243.27,1035.1 1248.62,1021.56 1253.97,1009.84 1259.33,999.88 1264.68,991.57 1270.03,984.71 1275.38,979.12 1280.73,974.6 1286.09,970.97 1291.44,968.08 1296.79,965.78 1302.14,963.97 1307.49,962.54 1312.84,961.41 1318.19,960.53 1323.55,959.83 1328.9,959.29 1334.25,958.87 1339.6,958.53 1344.95,958.27 1350.31,958.07 1355.66,957.91 1361.01,957.79 1366.36,957.69 1371.71,957.62 1377.06,957.56 1382.41,957.51 1387.77,957.48 1393.12,957.45 1398.47,957.43 1403.82,957.41 1409.17,957.4 1414.52,957.39 1419.88,957.38 1425.23,957.37 1430.58,957.37 1435.93,957.36 1441.28,957.36 1446.63,957.36 1451.99,957.36 1457.34,957.36 1462.69,957.35 1468.04,957.35 1473.39,957.35 1478.74,957.35 1484.1,957.35 1489.45,957.35 1494.8,957.35" fill="none" stroke="#dcdcdc" stroke-width="1.4"/>
<polyline points="1173.7,1229.07 1179.05,1221.04 1184.4,1211.62 1189.76,1200.73 1195.11,1188.33 1200.46,1174.46 1205.81,1159.27 1211.16,1142.99 1216.51,1125.95 1221.87,1108.56 1227.22,1091.25 1232.57,1074.45 1237.92,1058.53 1243.27,1043.81 1248.62,1030.47 1253.97,1018.62 1259.33,1008.28 1264.68,999.39 1270.03,991.84 1275.38,985.51 1280.73,980.24 1286.09,975.89 1291.44,972.32 1296.79,969.42 1302.14,967.05 1307.49,965.14 1312.84,963.6 1318.19,962.36 1323.55,961.36 1328.9,960.56 1334.25,959.91 1339.6,959.4 1344.95,958.99 1350.31,958.66 1355.66,958.39 1361.01,958.18 1366.36,958.02 1371.71,957.88 1377.06,957.77 1382.41,957.69 1387.77,957.62 1393.12,957.57 1398.47,957.52 1403.82,957.49 1409.17,957.46 1414.52,957.44 1419.88,957.42 1425.23,957.41 1430.58,957.39 1435.93,957.39 1441.28,957.38 1446.63,957.37 1451.99,957.37 1457.34,957.36 1462.69,957.36 1468.04,957.36 1473.39,957.36 1478.74,957.36 1484.1,957.35 1489.45,957.35 1494.8,957.35" fill="none" stroke="#dcdcdc" stroke-width="1.4"/>
<polyline points="1173.7,1224.82 1179.05,1216.82 1184.4,1207.62 1189.76,1197.17 1195.11,1185.44 1200.46,1172.51 1205.81,1158.48 1211.16,1143.54 1216.51,1127.96 1221.87,1112.04 1227.22,1096.12 1232.57,1080.52 1237.92,1065.56 1243.27,1051.5 1248.62,1038.52 1253.97,1026.76 1259.33,1016.26 1264.68,1007.01 1270.03,998.98 1275.38,992.07 1280.73,986.19 1286.09,981.21 1291.44,977.04 1296.79,973.55 1302.14,970.65 1307.49,968.25 1312.84,966.27 1318.19,964.64 1323.55,963.31 1328.9,962.21 1334.25,961.31 1339.6,960.58 1344.95,959.98 1350.31,959.49 1355.66,959.09 1361.01,958.77 1366.36,958.51 1371.71,958.29 1377.06,958.11 1382.41,957.97 1387.77,957.86 1393.12,957.76 1398.47,957.68 1403.82,957.62 1409.17,957.57 1414.52,957.53 1419.88,957.5 1425.23,957.47 1430.58,957.45 1435.93,957.43 1441.28,957.41 1446.63,957.4 1451.99,957.39 1457.34,957.38 1462.69,957.38 1468.04,957.37 1473.39,957.37 1478.74,957.37 1484.1,957.36 1489.45,957.36 1494.8,957.36" fill="none" stroke="#dcdcdc" stroke-width="1.4"/>
<polyline points="1173.7,1220.91 1179.05,1213.01 1184.4,1204.07 1189.76,1194.04 1195.11,1182.95 1200.46,1170.83 1205.81,1157.8 1211.16,1144.01 1216.51,1129.66 1221.87,1114.99 1227.22,1100.26 1232.57,1085.74 1237.92,1071.68 1243.27,1058.29 1248.62,1045.76 1253.97,1034.22 1259.33,1023.72 1264.68,1014.31 1270.03,1005.96 1275.38,998.64 1280.73,992.27 1286.09,986.78 1291.44,982.07 1296.79,978.06 1302.14,974.66 1307.49,971.79 1312.84,969.38 1318.19,967.35 1323.55,965.66 1328.9,964.25 1334.25,963.07 1339.6,962.09 1344.95,961.28 1350.31,960.6 1355.66,960.04 1361.01,959.58 1366.36,959.19 1371.71,958.87 1377.06,958.61 1382.41,958.39 1387.77,958.21 1393.12,958.06 1398.47,957.94 1403.82,957.84 1409.17,957.75 1414.52,957.68 1419.88,957.62 1425.23,957.58 1430.58,957.54 1435.93,957.5 1441.28,957.48 1446.63,957.46 1451.99,957.44 1457.34,957.42 1462.69,957.41 1468.04,957.4 1473.39,957.39 1478.74,957.38 1484.1,957.38 1489.45,957.37 1494.8,957.37" fill="none" stroke="#dcdcdc" stroke-width="1.4"/>
<polyline points="1173.7,1217.31 1179.05,1209.56 1184.4,1200.89 1189.76,1191.29 1195.11,1180.77 1200.46,1169.39 1205.81,1157.23 1211.16,1144.42 1216.51,1131.12 1221.87,1117.52 1227.22,1103.83 1232.57,1090.27 1237.92,1077.03 1243.27,1064.32 1248.62,1052.27 1253.97,1041.02 1259.33,1030.65 1264.68,1021.2 1270.03,1012.68 1275.38,1005.07 1280.73,998.34 1286.09,992.44 1291.44,987.29 1296.79,982.82 1302.14,978.97 1307.49,975.67 1312.84,972.84 1318.19,970.43 1323.55,968.38 1328.9,966.64 1334.25,965.17 1339.6,963.92 1344.95,962.87 1350.31,961.99 1355.66,961.24 1361.01,960.62 1366.36,960.09 1371.71,959.65 1377.06,959.28 1382.41,958.97 1387.77,958.7 1393.12,958.49 1398.47,958.3 1403.82,958.15 1409.17,958.02 1414.52,957.91 1419.88,957.82 1425.23,957.74 1430.58,957.68 1435.93,957.63 1441.28,957.58 1446.63,957.54 1451.99,957.51 1457.34,957.49 1462.69,957.46 1468.04,957.45 1473.39,957.43 1478.74,957.42 1484.1,957.41 1489.45,957.4 1494.8,957.39" fill="none" stroke="#dcdcdc" stroke-width="1.4"/>
<polyline points="1173.7,1209.55 1179.05,1202.02 1184.4,1193.77 1189.76,1184.81 1195.11,1175.17 1200.46,1164.9 1205.81,1154.06 1211.16,1142.76 1216.51,1131.1 1221.87,1119.21 1227.22,1107.23 1232.57,1095.31 1237.92,1083.58 1243.27,1072.18 1248.62,1061.22 1253.97,1050.8 1259.33,1041.01 1264.68,1031.88 1270.03,1023.46 1275.38,1015.75 1280.73,1008.75 1286.09,1002.44 1291.44,996.79 1296.79,991.75 1302.14,987.28 1307.49,983.34 1312.84,979.88 1318.19,976.84 1323.55,974.19 1328.9,971.88 1334.25,969.88 1339.6,968.14 1344.95,966.64 1350.31,965.34 1355.66,964.21 1361.01,963.24 1366.36,962.41 1371.71,961.69 1377.06,961.08 1382.41,960.55 1387.77,960.09 1393.12,959.7 1398.47,959.36 1403.82,959.08 1409.17,958.83 1414.52,958.62 1419.88,958.44 1425.23,958.28 1430.58,958.15 1435.93,958.03 1441.28,957.93 1446.63,957.85 1451.99,957.78 1457.34,957.72 1462.69,957.66 1468.04,957.62 1473.39,957.58 1478.74,957.55 1484.1,957.52 1489.45,957.49 1494.8,957.47" fill="none" stroke="#dcdcdc" stroke-width="1.4"/>
<polyline points="1173.7,1200.58 1179.05,1193.58 1184.4,1186.07 1189.76,1178.07 1195.11,1169.61 1200.46,1160.73 1205.81,1151.47 1211.16,1141.9 1216.51,1132.08 1221.87,1122.09 1227.22,1112.01 1232.57,1101.93 1237.92,1091.94 1243.27,1082.11 1248.62,1072.52 1253.97,1063.25 1259.33,1054.35 1264.68,1045.87 1270.03,1037.85 1275.38,1030.31 1280.73,1023.28 1286.09,1016.76 1291.44,1010.74 1296.79,1005.21 1302.14,1000.16 1307.49,995.56 1312.84,991.39 1318.19,987.63 1323.55,984.24 1328.9,981.2 1334.25,978.48 1339.6,976.05 1344.95,973.88 1350.31,971.95 1355.66,970.24 1361.01,968.71 1366.36,967.37 1371.71,966.18 1377.06,965.12 1382.41,964.19 1387.77,963.37 1393.12,962.64 1398.47,962 1403.82,961.44 1409.17,960.95 1414.52,960.51 1419.88,960.13 1425.23,959.79 1430.58,959.49 1435.93,959.23 1441.28,959 1446.63,958.8 1451.99,958.62 1457.34,958.47 1462.69,958.33 1468.04,958.21 1473.39,958.11 1478.74,958.01 1484.1,957.93 1489.45,957.86 1494.8,957.8" fill="none" stroke="#dcdcdc" stroke-width="1.4"/>
<polyline points="1173.7,1190.55 1179.05,1184.22 1184.4,1177.55 1189.76,1170.57 1195.11,1163.3 1200.46,1155.76 1205.81,1147.99 1211.16,1140.02 1216.51,1131.89 1221.87,1123.64 1227.22,1115.33 1232.57,1106.99 1237.92,1098.68 1243.27,1090.45 1248.62,1082.34 1253.97,1074.4 1259.33,1066.66 1264.68,1059.16 1270.03,1051.93 1275.38,1044.99 1280.73,1038.37 1286.09,1032.09 1291.44,1026.14 1296.79,1020.54 1302.14,1015.29 1307.49,1010.37 1312.84,1005.8 1318.19,1001.55 1323.55,997.61 1328.9,993.98 1334.25,990.64 1339.6,987.56 1344.95,984.74 1350.31,982.17 1355.66,979.81 1361.01,977.66 1366.36,975.71 1371.71,973.93 1377.06,972.31 1382.41,970.85 1387.77,969.52 1393.12,968.32 1398.47,967.23 1403.82,966.25 1409.17,965.36 1414.52,964.56 1419.88,963.84 1425.23,963.19 1430.58,962.6 1435.93,962.07 1441.28,961.59 1446.63,961.17 1451.99,960.78 1457.34,960.43 1462.69,960.12 1468.04,959.84 1473.39,959.59 1478.74,959.36 1484.1,959.15 1489.45,958.97 1494.8,958.8" fill="none" stroke="#dcdcdc" stroke-width="1.4"/>
<line x1="1159.4" y1="1111.77" x2="1510.8" y2="1111.77" stroke="#8a8a8a" stroke-width="1.2" stroke-dasharray="7,5"/>
<line x1="1219.8" y1="935.3" x2="1219.8" y2="1288.2" stroke="#8a8a8a" stroke-width="1.2" stroke-dasharray="7,5"/>
<polyline points="1173.7,1238.63 1177.71,1233.44 1181.73,1227.41 1185.74,1220.45 1189.76,1212.49 1193.77,1203.48 1197.78,1193.39 1201.8,1182.23 1205.81,1170.06 1209.82,1156.98 1213.84,1143.14 1217.85,1128.77 1221.87,1114.08 1225.88,1102.8 1229.89,1092.24 1233.91,1081.87 1237.92,1071.76 1241.93,1062.01 1245.95,1052.69 1249.96,1043.84 1253.97,1035.52 1257.99,1027.74 1262,1020.52 1266.02,1013.87 1270.03,1007.77 1274.04,1002.22 1278.06,997.18 1282.07,992.64 1286.09,988.55 1290.1,984.88 1294.11,981.62 1298.13,978.7 1302.14,976.12 1306.15,973.83 1310.17,971.8 1314.18,970.02 1318.19,968.44 1322.21,967.06 1326.22,965.84 1330.24,964.77 1334.25,963.84 1338.26,963.02 1342.28,962.3 1346.29,961.67 1350.31,961.12 1354.32,960.64 1358.33,960.22 1362.35,959.85 1366.36,959.53 1370.37,959.25 1374.39,959.01 1378.4,958.8 1382.41,958.61 1386.43,958.45 1390.44,958.31 1394.46,958.18 1398.47,958.08 1402.48,957.98 1406.5,957.9 1410.51,957.83 1414.52,957.77 1418.54,957.72 1422.55,957.67 1426.57,957.63 1430.58,957.59 1434.59,957.56 1438.61,957.53 1442.62,957.51 1446.63,957.49 1450.65,957.47 1454.66,957.46 1458.68,957.44 1462.69,957.43 1466.7,957.42 1470.72,957.41 1474.73,957.4 1478.74,957.4 1482.76,957.39 1486.77,957.39 1490.79,957.38 1494.8,957.38" fill="none" stroke="#838383" stroke-width="6"/>
<line x1="1182.37" y1="1255.91" x2="1182.37" y2="1264.15" stroke="#000" stroke-width="1.7"/>
<circle cx="1182.37" cy="1264.15" r="5.2" fill="#000"/>
<line x1="1204.1" y1="1178.49" x2="1204.1" y2="1215.95" stroke="#000" stroke-width="1.7"/>
<circle cx="1204.1" cy="1198.47" r="5.2" fill="#000"/>
<line x1="1214.34" y1="1079.09" x2="1214.34" y2="1124.79" stroke="#000" stroke-width="1.7"/>
<circle cx="1214.34" cy="1101.56" r="5.2" fill="#000"/>
<line x1="1256.79" y1="983.68" x2="1256.79" y2="1015.65" stroke="#000" stroke-width="1.7"/>
<circle cx="1256.79" cy="997.42" r="5.2" fill="#000"/>
<line x1="1320.98" y1="959.96" x2="1320.98" y2="974.94" stroke="#000" stroke-width="1.7"/>
<circle cx="1320.98" cy="964.2" r="5.2" fill="#000"/>
<line x1="1470.83" y1="961.2" x2="1470.83" y2="981.18" stroke="#000" stroke-width="1.7"/>
<circle cx="1470.83" cy="967.7" r="5.2" fill="#000"/>
<path d="M1159.4 935.3 V1288.2 H1510.8" fill="none" stroke="#000" stroke-width="1.9"/>
<line x1="1153.9" y1="957.35" x2="1159.4" y2="957.35" stroke="#333" stroke-width="1.5"/>
<text x="1148.9" y="963.75" font-size="18" fill="#4d4d4d" stroke="#4d4d4d" stroke-width="0.25" text-anchor="end">1.0</text>
<line x1="1153.9" y1="1111.77" x2="1159.4" y2="1111.77" stroke="#333" stroke-width="1.5"/>
<text x="1148.9" y="1118.17" font-size="18" fill="#4d4d4d" stroke="#4d4d4d" stroke-width="0.25" text-anchor="end">0.5</text>
<line x1="1153.9" y1="1266.2" x2="1159.4" y2="1266.2" stroke="#333" stroke-width="1.5"/>
<text x="1148.9" y="1272.6" font-size="18" fill="#4d4d4d" stroke="#4d4d4d" stroke-width="0.25" text-anchor="end">0.0</text>
<line x1="1187.48" y1="1288.2" x2="1187.48" y2="1293.7" stroke="#333" stroke-width="1.5"/>
<text x="1187.48" y="1310.8" font-size="18" fill="#4d4d4d" stroke="#4d4d4d" stroke-width="0.25" text-anchor="middle">−30</text>
<line x1="1219.8" y1="1288.2" x2="1219.8" y2="1293.7" stroke="#333" stroke-width="1.5"/>
<text x="1219.8" y="1310.8" font-size="18" fill="#4d4d4d" stroke="#4d4d4d" stroke-width="0.25" text-anchor="middle">0</text>
<line x1="1467.6" y1="1288.2" x2="1467.6" y2="1293.7" stroke="#333" stroke-width="1.5"/>
<text x="1467.6" y="1310.8" font-size="18" fill="#4d4d4d" stroke="#4d4d4d" stroke-width="0.25" text-anchor="middle">230</text>
<text x="1345.5" y="1212.3" font-size="20.8" text-anchor="middle" fill="#000" stroke="#000" stroke-width="0.3">SubjectID: 2264</text>
<text x="1345.5" y="1242.3" font-size="20.7" text-anchor="middle" fill="#000" stroke="#000" stroke-width="0.3">11 sessions</text>
<text x="1335.1" y="1336.9" font-size="23" text-anchor="middle" fill="#000" stroke="#000" stroke-width="0.2">EV<tspan font-size="16" dy="4">lottery</tspan><tspan dy="-4" dx="2.7">−</tspan><tspan dx="3.3">EV</tspan><tspan font-size="16" dy="4">surebet</tspan></text>
<text transform="translate(1107.1,1111.75) rotate(-90)" x="0" y="0" font-size="21.7" text-anchor="middle" fill="#000" stroke="#000" stroke-width="0.2" dominant-baseline="central">P(Chose Lottery)</text>
</g>
<g>
<line x1="549.2" y1="273.25" x2="901" y2="273.25" stroke="#8a8a8a" stroke-width="1.2" stroke-dasharray="7,5"/>
<line x1="712.25" y1="63" x2="712.25" y2="415.9" stroke="#8a8a8a" stroke-width="1.2" stroke-dasharray="7,5"/>
<circle cx="702.93" cy="274.93" r="5.0" fill="#e9e9e9" stroke="#000" stroke-width="1.25"/>
<circle cx="740.95" cy="248.06" r="5.0" fill="#e9e9e9" stroke="#000" stroke-width="1.25"/>
<circle cx="689.23" cy="305.75" r="5.0" fill="#e9e9e9" stroke="#000" stroke-width="1.25"/>
<circle cx="710.33" cy="240.95" r="5.0" fill="#e9e9e9" stroke="#000" stroke-width="1.25"/>
<circle cx="704.06" cy="261.59" r="5.0" fill="#e9e9e9" stroke="#000" stroke-width="1.25"/>
<circle cx="712.12" cy="328.87" r="5.0" fill="#e9e9e9" stroke="#000" stroke-width="1.25"/>
<circle cx="694.24" cy="338.36" r="5.0" fill="#e9e9e9" stroke="#000" stroke-width="1.25"/>
<circle cx="717.72" cy="298.62" r="5.0" fill="#e9e9e9" stroke="#000" stroke-width="1.25"/>
<circle cx="741.81" cy="273.49" r="5.0" fill="#e9e9e9" stroke="#000" stroke-width="1.25"/>
<circle cx="712.71" cy="334.2" r="5.0" fill="#e9e9e9" stroke="#000" stroke-width="1.25"/>
<circle cx="720.57" cy="331.4" r="5.0" fill="#e9e9e9" stroke="#000" stroke-width="1.25"/>
<circle cx="738.79" cy="255.07" r="5.0" fill="#e9e9e9" stroke="#000" stroke-width="1.25"/>
<circle cx="747.63" cy="243.87" r="5.0" fill="#e9e9e9" stroke="#000" stroke-width="1.25"/>
<circle cx="687.15" cy="322.07" r="5.0" fill="#e9e9e9" stroke="#000" stroke-width="1.25"/>
<circle cx="717.82" cy="288.41" r="5.0" fill="#e9e9e9" stroke="#000" stroke-width="1.25"/>
<circle cx="717.18" cy="256.89" r="5.0" fill="#e9e9e9" stroke="#000" stroke-width="1.25"/>
<circle cx="743.82" cy="293.7" r="5.0" fill="#e9e9e9" stroke="#000" stroke-width="1.25"/>
<circle cx="720.85" cy="295.83" r="5.0" fill="#e9e9e9" stroke="#000" stroke-width="1.25"/>
<circle cx="705.43" cy="240.51" r="5.0" fill="#e9e9e9" stroke="#000" stroke-width="1.25"/>
<circle cx="725.46" cy="335.33" r="5.0" fill="#e9e9e9" stroke="#000" stroke-width="1.25"/>
<circle cx="710.95" cy="293.67" r="5.0" fill="#e9e9e9" stroke="#000" stroke-width="1.25"/>
<circle cx="719.19" cy="222.65" r="5.0" fill="#e9e9e9" stroke="#000" stroke-width="1.25"/>
<circle cx="711.55" cy="282.98" r="5.0" fill="#e9e9e9" stroke="#000" stroke-width="1.25"/>
<circle cx="714.27" cy="316.73" r="5.0" fill="#e9e9e9" stroke="#000" stroke-width="1.25"/>
<circle cx="693.74" cy="287.85" r="5.0" fill="#e9e9e9" stroke="#000" stroke-width="1.25"/>
<circle cx="703.97" cy="334.88" r="5.0" fill="#e9e9e9" stroke="#000" stroke-width="1.25"/>
<circle cx="695.37" cy="321.84" r="5.0" fill="#e9e9e9" stroke="#000" stroke-width="1.25"/>
<circle cx="702.13" cy="295.82" r="5.0" fill="#e9e9e9" stroke="#000" stroke-width="1.25"/>
<circle cx="709.26" cy="343.57" r="5.0" fill="#e9e9e9" stroke="#000" stroke-width="1.25"/>
<circle cx="723.88" cy="319.89" r="5.0" fill="#e9e9e9" stroke="#000" stroke-width="1.25"/>
<circle cx="682.58" cy="272.52" r="5.0" fill="#e9e9e9" stroke="#000" stroke-width="1.25"/>
<circle cx="732.75" cy="295.82" r="5.0" fill="#e9e9e9" stroke="#000" stroke-width="1.25"/>
<circle cx="690.29" cy="229.52" r="5.0" fill="#e9e9e9" stroke="#000" stroke-width="1.25"/>
<circle cx="729.23" cy="230.05" r="5.0" fill="#e9e9e9" stroke="#000" stroke-width="1.25"/>
<circle cx="698.25" cy="344.35" r="5.0" fill="#e9e9e9" stroke="#000" stroke-width="1.25"/>
<circle cx="746.26" cy="274.81" r="5.0" fill="#e9e9e9" stroke="#000" stroke-width="1.25"/>
<circle cx="691.59" cy="298.21" r="5.0" fill="#e9e9e9" stroke="#000" stroke-width="1.25"/>
<circle cx="710.12" cy="218.19" r="5.0" fill="#e9e9e9" stroke="#000" stroke-width="1.25"/>
<circle cx="707.63" cy="314.85" r="5.0" fill="#e9e9e9" stroke="#000" stroke-width="1.25"/>
<circle cx="685.27" cy="302.55" r="5.0" fill="#e9e9e9" stroke="#000" stroke-width="1.25"/>
<circle cx="680.27" cy="304.12" r="5.0" fill="#e9e9e9" stroke="#000" stroke-width="1.25"/>
<circle cx="701" cy="268.19" r="5.0" fill="#e9e9e9" stroke="#000" stroke-width="1.25"/>
<circle cx="736.76" cy="241.46" r="5.0" fill="#e9e9e9" stroke="#000" stroke-width="1.25"/>
<circle cx="726.98" cy="307.95" r="5.0" fill="#e9e9e9" stroke="#000" stroke-width="1.25"/>
<circle cx="730.17" cy="286.52" r="5.0" fill="#e9e9e9" stroke="#000" stroke-width="1.25"/>
<circle cx="680.49" cy="278.89" r="5.0" fill="#e9e9e9" stroke="#000" stroke-width="1.25"/>
<circle cx="723.92" cy="231.14" r="5.0" fill="#e9e9e9" stroke="#000" stroke-width="1.25"/>
<circle cx="688.36" cy="255.08" r="5.0" fill="#e9e9e9" stroke="#000" stroke-width="1.25"/>
<circle cx="713.42" cy="225.41" r="5.0" fill="#e9e9e9" stroke="#000" stroke-width="1.25"/>
<circle cx="713.66" cy="234.02" r="5.0" fill="#e9e9e9" stroke="#000" stroke-width="1.25"/>
<circle cx="695.03" cy="264.39" r="5.0" fill="#e9e9e9" stroke="#000" stroke-width="1.25"/>
<circle cx="739.15" cy="294.03" r="5.0" fill="#e9e9e9" stroke="#000" stroke-width="1.25"/>
<circle cx="724.25" cy="296.7" r="5.0" fill="#e9e9e9" stroke="#000" stroke-width="1.25"/>
<circle cx="708.47" cy="201.59" r="5.0" fill="#e9e9e9" stroke="#000" stroke-width="1.25"/>
<circle cx="706.44" cy="264.51" r="5.0" fill="#e9e9e9" stroke="#000" stroke-width="1.25"/>
<circle cx="705.41" cy="331.47" r="5.0" fill="#e9e9e9" stroke="#000" stroke-width="1.25"/>
<circle cx="724.51" cy="240.83" r="5.0" fill="#e9e9e9" stroke="#000" stroke-width="1.25"/>
<circle cx="716.05" cy="313.12" r="5.0" fill="#e9e9e9" stroke="#000" stroke-width="1.25"/>
<circle cx="698.52" cy="298.75" r="5.0" fill="#e9e9e9" stroke="#000" stroke-width="1.25"/>
<circle cx="707.56" cy="229.55" r="5.0" fill="#e9e9e9" stroke="#000" stroke-width="1.25"/>
<circle cx="730.36" cy="203.78" r="5.0" fill="#e9e9e9" stroke="#000" stroke-width="1.25"/>
<circle cx="706.96" cy="346.92" r="5.0" fill="#e9e9e9" stroke="#000" stroke-width="1.25"/>
<circle cx="734.74" cy="283.24" r="5.0" fill="#e9e9e9" stroke="#000" stroke-width="1.25"/>
<circle cx="727.53" cy="246.49" r="5.0" fill="#e9e9e9" stroke="#000" stroke-width="1.25"/>
<circle cx="721.29" cy="314.86" r="5.0" fill="#e9e9e9" stroke="#000" stroke-width="1.25"/>
<circle cx="713.57" cy="320" r="5.0" fill="#e9e9e9" stroke="#000" stroke-width="1.25"/>
<circle cx="692.59" cy="252.61" r="5.0" fill="#e9e9e9" stroke="#000" stroke-width="1.25"/>
<circle cx="712.55" cy="312.09" r="5.0" fill="#e9e9e9" stroke="#000" stroke-width="1.25"/>
<circle cx="697.5" cy="213.18" r="5.0" fill="#e9e9e9" stroke="#000" stroke-width="1.25"/>
<circle cx="718.26" cy="196.44" r="5.0" fill="#e9e9e9" stroke="#000" stroke-width="1.25"/>
<circle cx="729.9" cy="236.31" r="5.0" fill="#e9e9e9" stroke="#000" stroke-width="1.25"/>
<circle cx="723.41" cy="273.01" r="5.0" fill="#e9e9e9" stroke="#000" stroke-width="1.25"/>
<circle cx="735.4" cy="305.27" r="5.0" fill="#e9e9e9" stroke="#000" stroke-width="1.25"/>
<circle cx="733.57" cy="225.21" r="5.0" fill="#e9e9e9" stroke="#000" stroke-width="1.25"/>
<circle cx="714.61" cy="201.9" r="5.0" fill="#e9e9e9" stroke="#000" stroke-width="1.25"/>
<circle cx="686.91" cy="287" r="5.0" fill="#e9e9e9" stroke="#000" stroke-width="1.25"/>
<circle cx="732.75" cy="210.07" r="5.0" fill="#e9e9e9" stroke="#000" stroke-width="1.25"/>
<circle cx="698.21" cy="330.54" r="5.0" fill="#e9e9e9" stroke="#000" stroke-width="1.25"/>
<circle cx="724.68" cy="227.38" r="5.0" fill="#e9e9e9" stroke="#000" stroke-width="1.25"/>
<circle cx="731.98" cy="254.94" r="5.0" fill="#e9e9e9" stroke="#000" stroke-width="1.25"/>
<circle cx="741.47" cy="225.47" r="5.0" fill="#e9e9e9" stroke="#000" stroke-width="1.25"/>
<circle cx="695.77" cy="292.8" r="5.0" fill="#e9e9e9" stroke="#000" stroke-width="1.25"/>
<circle cx="683.48" cy="315.25" r="5.0" fill="#e9e9e9" stroke="#000" stroke-width="1.25"/>
<circle cx="731.56" cy="306.57" r="5.0" fill="#e9e9e9" stroke="#000" stroke-width="1.25"/>
<circle cx="721.43" cy="323.61" r="5.0" fill="#e9e9e9" stroke="#000" stroke-width="1.25"/>
<circle cx="712.83" cy="213.61" r="5.0" fill="#e9e9e9" stroke="#000" stroke-width="1.25"/>
<circle cx="694.84" cy="333.96" r="5.0" fill="#e9e9e9" stroke="#000" stroke-width="1.25"/>
<circle cx="718.09" cy="266.6" r="5.0" fill="#e9e9e9" stroke="#000" stroke-width="1.25"/>
<circle cx="718.48" cy="250.66" r="5.0" fill="#e9e9e9" stroke="#000" stroke-width="1.25"/>
<circle cx="723.78" cy="251.46" r="5.0" fill="#e9e9e9" stroke="#000" stroke-width="1.25"/>
<circle cx="732.57" cy="239.36" r="5.0" fill="#e9e9e9" stroke="#000" stroke-width="1.25"/>
<circle cx="721.68" cy="204.45" r="5.0" fill="#e9e9e9" stroke="#000" stroke-width="1.25"/>
<circle cx="707.07" cy="214.08" r="5.0" fill="#e9e9e9" stroke="#000" stroke-width="1.25"/>
<circle cx="709.29" cy="198.09" r="5.0" fill="#e9e9e9" stroke="#000" stroke-width="1.25"/>
<circle cx="719.14" cy="284.31" r="5.0" fill="#e9e9e9" stroke="#000" stroke-width="1.25"/>
<circle cx="698.63" cy="253.06" r="5.0" fill="#e9e9e9" stroke="#000" stroke-width="1.25"/>
<circle cx="684.45" cy="250.26" r="5.0" fill="#e9e9e9" stroke="#000" stroke-width="1.25"/>
<circle cx="733.43" cy="277.99" r="5.0" fill="#e9e9e9" stroke="#000" stroke-width="1.25"/>
<circle cx="727.17" cy="266.45" r="5.0" fill="#e9e9e9" stroke="#000" stroke-width="1.25"/>
<circle cx="737.6" cy="316.03" r="5.0" fill="#e9e9e9" stroke="#000" stroke-width="1.25"/>
<circle cx="681.98" cy="301.1" r="5.0" fill="#e9e9e9" stroke="#000" stroke-width="1.25"/>
<circle cx="704.24" cy="254.87" r="5.0" fill="#e9e9e9" stroke="#000" stroke-width="1.25"/>
<circle cx="698.08" cy="273.16" r="5.0" fill="#e9e9e9" stroke="#000" stroke-width="1.25"/>
<circle cx="702.05" cy="218.33" r="5.0" fill="#e9e9e9" stroke="#000" stroke-width="1.25"/>
<circle cx="713.65" cy="251.94" r="5.0" fill="#e9e9e9" stroke="#000" stroke-width="1.25"/>
<circle cx="704.48" cy="289.44" r="5.0" fill="#e9e9e9" stroke="#000" stroke-width="1.25"/>
<circle cx="691.32" cy="333.59" r="5.0" fill="#e9e9e9" stroke="#000" stroke-width="1.25"/>
<circle cx="723.51" cy="260.58" r="5.0" fill="#e9e9e9" stroke="#000" stroke-width="1.25"/>
<circle cx="720.64" cy="303.29" r="5.0" fill="#e9e9e9" stroke="#000" stroke-width="1.25"/>
<circle cx="716.75" cy="271.89" r="5.0" fill="#e9e9e9" stroke="#000" stroke-width="1.25"/>
<circle cx="715.31" cy="324.74" r="5.0" fill="#e9e9e9" stroke="#000" stroke-width="1.25"/>
<circle cx="735.06" cy="203.76" r="5.0" fill="#e9e9e9" stroke="#000" stroke-width="1.25"/>
<circle cx="711.22" cy="288.24" r="5.0" fill="#e9e9e9" stroke="#000" stroke-width="1.25"/>
<circle cx="745.3" cy="251.55" r="5.0" fill="#e9e9e9" stroke="#000" stroke-width="1.25"/>
<circle cx="688.87" cy="309.54" r="5.0" fill="#e9e9e9" stroke="#000" stroke-width="1.25"/>
<circle cx="730.08" cy="316.61" r="5.0" fill="#e9e9e9" stroke="#000" stroke-width="1.25"/>
<circle cx="707.03" cy="249.05" r="5.0" fill="#e9e9e9" stroke="#000" stroke-width="1.25"/>
<circle cx="724.49" cy="199.25" r="5.0" fill="#e9e9e9" stroke="#000" stroke-width="1.25"/>
<circle cx="722.93" cy="278.51" r="5.0" fill="#e9e9e9" stroke="#000" stroke-width="1.25"/>
<circle cx="700.59" cy="235.98" r="5.0" fill="#e9e9e9" stroke="#000" stroke-width="1.25"/>
<circle cx="660.07" cy="205.34" r="5.0" fill="#4cafd4" stroke="#000" stroke-opacity="0.8" stroke-width="1.25"/>
<circle cx="751.47" cy="211.59" r="5.0" fill="#4cafd4" stroke="#000" stroke-opacity="0.8" stroke-width="1.25"/>
<circle cx="756.22" cy="210.59" r="5.0" fill="#4cafd4" stroke="#000" stroke-opacity="0.8" stroke-width="1.25"/>
<circle cx="772.45" cy="220.33" r="5.0" fill="#4cafd4" stroke="#000" stroke-opacity="0.8" stroke-width="1.25"/>
<circle cx="789.94" cy="221.08" r="5.0" fill="#4cafd4" stroke="#000" stroke-opacity="0.8" stroke-width="1.25"/>
<circle cx="802.67" cy="227.32" r="5.0" fill="#4cafd4" stroke="#000" stroke-opacity="0.8" stroke-width="1.25"/>
<circle cx="807.67" cy="232.82" r="5.0" fill="#4cafd4" stroke="#000" stroke-opacity="0.8" stroke-width="1.25"/>
<circle cx="816.66" cy="237.81" r="5.0" fill="#4cafd4" stroke="#000" stroke-opacity="0.8" stroke-width="1.25"/>
<circle cx="813.91" cy="244.31" r="5.0" fill="#4cafd4" stroke="#000" stroke-opacity="0.8" stroke-width="1.25"/>
<circle cx="820.66" cy="249.8" r="5.0" fill="#4cafd4" stroke="#000" stroke-opacity="0.8" stroke-width="1.25"/>
<circle cx="763.21" cy="230.57" r="5.0" fill="#4cafd4" stroke="#000" stroke-opacity="0.8" stroke-width="1.25"/>
<circle cx="774.95" cy="229.82" r="5.0" fill="#4cafd4" stroke="#000" stroke-opacity="0.8" stroke-width="1.25"/>
<circle cx="775.7" cy="233.07" r="5.0" fill="#4cafd4" stroke="#000" stroke-opacity="0.8" stroke-width="1.25"/>
<circle cx="788.19" cy="236.81" r="5.0" fill="#4cafd4" stroke="#000" stroke-opacity="0.8" stroke-width="1.25"/>
<circle cx="788.19" cy="242.31" r="5.0" fill="#4cafd4" stroke="#000" stroke-opacity="0.8" stroke-width="1.25"/>
<circle cx="752.47" cy="237.81" r="5.0" fill="#4cafd4" stroke="#000" stroke-opacity="0.8" stroke-width="1.25"/>
<circle cx="754.97" cy="242.31" r="5.0" fill="#4cafd4" stroke="#000" stroke-opacity="0.8" stroke-width="1.25"/>
<circle cx="774.45" cy="247.3" r="5.0" fill="#4cafd4" stroke="#000" stroke-opacity="0.8" stroke-width="1.25"/>
<circle cx="778.7" cy="251.8" r="5.0" fill="#4cafd4" stroke="#000" stroke-opacity="0.8" stroke-width="1.25"/>
<circle cx="751.97" cy="256.29" r="5.0" fill="#4cafd4" stroke="#000" stroke-opacity="0.8" stroke-width="1.25"/>
<circle cx="849.88" cy="256.29" r="5.0" fill="#4cafd4" stroke="#000" stroke-opacity="0.8" stroke-width="1.25"/>
<circle cx="884.34" cy="223.33" r="5.0" fill="#4cafd4" stroke="#000" stroke-opacity="0.8" stroke-width="1.25"/>
<circle cx="806.42" cy="199.35" r="5.0" fill="#4cafd4" stroke="#000" stroke-opacity="0.8" stroke-width="1.25"/>
<circle cx="764.46" cy="195.35" r="5.0" fill="#4cafd4" stroke="#000" stroke-opacity="0.8" stroke-width="1.25"/>
<circle cx="768.21" cy="196.1" r="5.0" fill="#4cafd4" stroke="#000" stroke-opacity="0.8" stroke-width="1.25"/>
<circle cx="587.89" cy="249.3" r="5.0" fill="#4cafd4" stroke="#000" stroke-opacity="0.8" stroke-width="1.25"/>
<circle cx="603.62" cy="248.05" r="5.0" fill="#4cafd4" stroke="#000" stroke-opacity="0.8" stroke-width="1.25"/>
<circle cx="660.82" cy="263.54" r="5.0" fill="#4cafd4" stroke="#000" stroke-opacity="0.8" stroke-width="1.25"/>
<circle cx="628.35" cy="269.03" r="5.0" fill="#4cafd4" stroke="#000" stroke-opacity="0.8" stroke-width="1.25"/>
<circle cx="749.48" cy="269.78" r="5.0" fill="#4cafd4" stroke="#000" stroke-opacity="0.8" stroke-width="1.25"/>
<circle cx="755.72" cy="274.03" r="5.0" fill="#4cafd4" stroke="#000" stroke-opacity="0.8" stroke-width="1.25"/>
<circle cx="816.91" cy="269.78" r="5.0" fill="#4cafd4" stroke="#000" stroke-opacity="0.8" stroke-width="1.25"/>
<circle cx="836.39" cy="276.77" r="5.0" fill="#4cafd4" stroke="#000" stroke-opacity="0.8" stroke-width="1.25"/>
<circle cx="806.42" cy="279.27" r="5.0" fill="#4cafd4" stroke="#000" stroke-opacity="0.8" stroke-width="1.25"/>
<circle cx="783.69" cy="284.02" r="5.0" fill="#4cafd4" stroke="#000" stroke-opacity="0.8" stroke-width="1.25"/>
<circle cx="758.22" cy="297.25" r="5.0" fill="#4cafd4" stroke="#000" stroke-opacity="0.8" stroke-width="1.25"/>
<circle cx="787.69" cy="308.99" r="5.0" fill="#4cafd4" stroke="#000" stroke-opacity="0.8" stroke-width="1.25"/>
<circle cx="821.9" cy="318.48" r="5.0" fill="#4cafd4" stroke="#000" stroke-opacity="0.8" stroke-width="1.25"/>
<circle cx="756.47" cy="335.96" r="5.0" fill="#4cafd4" stroke="#000" stroke-opacity="0.8" stroke-width="1.25"/>
<circle cx="589.89" cy="286.76" r="5.0" fill="#4cafd4" stroke="#000" stroke-opacity="0.8" stroke-width="1.25"/>
<circle cx="635.09" cy="284.02" r="5.0" fill="#4cafd4" stroke="#000" stroke-opacity="0.8" stroke-width="1.25"/>
<circle cx="646.58" cy="282.77" r="5.0" fill="#4cafd4" stroke="#000" stroke-opacity="0.8" stroke-width="1.25"/>
<circle cx="645.83" cy="287.26" r="5.0" fill="#4cafd4" stroke="#000" stroke-opacity="0.8" stroke-width="1.25"/>
<circle cx="652.32" cy="293.01" r="5.0" fill="#4cafd4" stroke="#000" stroke-opacity="0.8" stroke-width="1.25"/>
<circle cx="659.57" cy="284.77" r="5.0" fill="#4cafd4" stroke="#000" stroke-opacity="0.8" stroke-width="1.25"/>
<circle cx="677.05" cy="288.01" r="5.0" fill="#4cafd4" stroke="#000" stroke-opacity="0.8" stroke-width="1.25"/>
<circle cx="627.85" cy="308.99" r="5.0" fill="#4cafd4" stroke="#000" stroke-opacity="0.8" stroke-width="1.25"/>
<circle cx="624.1" cy="313.49" r="5.0" fill="#4cafd4" stroke="#000" stroke-opacity="0.8" stroke-width="1.25"/>
<circle cx="672.8" cy="304.75" r="5.0" fill="#4cafd4" stroke="#000" stroke-opacity="0.8" stroke-width="1.25"/>
<circle cx="673.3" cy="309.74" r="5.0" fill="#4cafd4" stroke="#000" stroke-opacity="0.8" stroke-width="1.25"/>
<circle cx="595.38" cy="332.47" r="5.0" fill="#4cafd4" stroke="#000" stroke-opacity="0.8" stroke-width="1.25"/>
<circle cx="564.66" cy="338.96" r="5.0" fill="#4cafd4" stroke="#000" stroke-opacity="0.8" stroke-width="1.25"/>
<circle cx="648.33" cy="329.72" r="5.0" fill="#4cafd4" stroke="#000" stroke-opacity="0.8" stroke-width="1.25"/>
<circle cx="663.81" cy="327.22" r="5.0" fill="#4cafd4" stroke="#000" stroke-opacity="0.8" stroke-width="1.25"/>
<circle cx="670.81" cy="325.97" r="5.0" fill="#4cafd4" stroke="#000" stroke-opacity="0.8" stroke-width="1.25"/>
<circle cx="672.05" cy="327.22" r="5.0" fill="#4cafd4" stroke="#000" stroke-opacity="0.8" stroke-width="1.25"/>
<circle cx="673.3" cy="336.46" r="5.0" fill="#4cafd4" stroke="#000" stroke-opacity="0.8" stroke-width="1.25"/>
<circle cx="655.32" cy="345.2" r="5.0" fill="#4cafd4" stroke="#000" stroke-opacity="0.8" stroke-width="1.25"/>
<circle cx="677.05" cy="347.2" r="5.0" fill="#4cafd4" stroke="#000" stroke-opacity="0.8" stroke-width="1.25"/>
<circle cx="680.05" cy="171.63" r="5.0" fill="#ee8a75" stroke="#000" stroke-opacity="0.8" stroke-width="1.25"/>
<circle cx="693.28" cy="165.38" r="5.0" fill="#ee8a75" stroke="#000" stroke-opacity="0.8" stroke-width="1.25"/>
<circle cx="739.99" cy="166.38" r="5.0" fill="#ee8a75" stroke="#000" stroke-opacity="0.8" stroke-width="1.25"/>
<circle cx="738.24" cy="177.37" r="5.0" fill="#ee8a75" stroke="#000" stroke-opacity="0.8" stroke-width="1.25"/>
<circle cx="745.23" cy="174.88" r="5.0" fill="#ee8a75" stroke="#000" stroke-opacity="0.8" stroke-width="1.25"/>
<circle cx="701.27" cy="186.61" r="5.0" fill="#ee8a75" stroke="#000" stroke-opacity="0.8" stroke-width="1.25"/>
<circle cx="717.01" cy="182.37" r="5.0" fill="#ee8a75" stroke="#000" stroke-opacity="0.8" stroke-width="1.25"/>
<circle cx="708.77" cy="194.11" r="5.0" fill="#ee8a75" stroke="#000" stroke-opacity="0.8" stroke-width="1.25"/>
<circle cx="746.23" cy="193.61" r="5.0" fill="#ee8a75" stroke="#000" stroke-opacity="0.8" stroke-width="1.25"/>
<circle cx="687.79" cy="359.19" r="5.0" fill="#ee8a75" stroke="#000" stroke-opacity="0.8" stroke-width="1.25"/>
<circle cx="690.79" cy="357.69" r="5.0" fill="#ee8a75" stroke="#000" stroke-opacity="0.8" stroke-width="1.25"/>
<circle cx="692.28" cy="367.18" r="5.0" fill="#ee8a75" stroke="#000" stroke-opacity="0.8" stroke-width="1.25"/>
<circle cx="705.27" cy="373.93" r="5.0" fill="#ee8a75" stroke="#000" stroke-opacity="0.8" stroke-width="1.25"/>
<circle cx="707.02" cy="375.92" r="5.0" fill="#ee8a75" stroke="#000" stroke-opacity="0.8" stroke-width="1.25"/>
<circle cx="722.75" cy="355.94" r="5.0" fill="#ee8a75" stroke="#000" stroke-opacity="0.8" stroke-width="1.25"/>
<circle cx="750.73" cy="78.72" r="5.0" fill="#80cc80" stroke="#000" stroke-opacity="0.8" stroke-width="1.25"/>
<circle cx="789.44" cy="90.46" r="5.0" fill="#80cc80" stroke="#000" stroke-opacity="0.8" stroke-width="1.25"/>
<circle cx="753.72" cy="99.45" r="5.0" fill="#80cc80" stroke="#000" stroke-opacity="0.8" stroke-width="1.25"/>
<circle cx="748.98" cy="120.68" r="5.0" fill="#80cc80" stroke="#000" stroke-opacity="0.8" stroke-width="1.25"/>
<circle cx="750.73" cy="122.43" r="5.0" fill="#80cc80" stroke="#000" stroke-opacity="0.8" stroke-width="1.25"/>
<circle cx="752.47" cy="129.92" r="5.0" fill="#80cc80" stroke="#000" stroke-opacity="0.8" stroke-width="1.25"/>
<circle cx="775.7" cy="128.67" r="5.0" fill="#80cc80" stroke="#000" stroke-opacity="0.8" stroke-width="1.25"/>
<circle cx="808.17" cy="126.92" r="5.0" fill="#80cc80" stroke="#000" stroke-opacity="0.8" stroke-width="1.25"/>
<circle cx="806.92" cy="133.17" r="5.0" fill="#80cc80" stroke="#000" stroke-opacity="0.8" stroke-width="1.25"/>
<circle cx="762.71" cy="140.66" r="5.0" fill="#80cc80" stroke="#000" stroke-opacity="0.8" stroke-width="1.25"/>
<circle cx="796.93" cy="138.66" r="5.0" fill="#80cc80" stroke="#000" stroke-opacity="0.8" stroke-width="1.25"/>
<circle cx="799.43" cy="142.41" r="5.0" fill="#80cc80" stroke="#000" stroke-opacity="0.8" stroke-width="1.25"/>
<circle cx="770.21" cy="151.4" r="5.0" fill="#80cc80" stroke="#000" stroke-opacity="0.8" stroke-width="1.25"/>
<circle cx="786.94" cy="156.89" r="5.0" fill="#80cc80" stroke="#000" stroke-opacity="0.8" stroke-width="1.25"/>
<circle cx="796.18" cy="152.9" r="5.0" fill="#80cc80" stroke="#000" stroke-opacity="0.8" stroke-width="1.25"/>
<circle cx="804.42" cy="151.15" r="5.0" fill="#80cc80" stroke="#000" stroke-opacity="0.8" stroke-width="1.25"/>
<circle cx="754.47" cy="159.89" r="5.0" fill="#80cc80" stroke="#000" stroke-opacity="0.8" stroke-width="1.25"/>
<circle cx="806.92" cy="164.89" r="5.0" fill="#80cc80" stroke="#000" stroke-opacity="0.8" stroke-width="1.25"/>
<circle cx="806.92" cy="169.88" r="5.0" fill="#80cc80" stroke="#000" stroke-opacity="0.8" stroke-width="1.25"/>
<circle cx="761.96" cy="169.38" r="5.0" fill="#80cc80" stroke="#000" stroke-opacity="0.8" stroke-width="1.25"/>
<circle cx="767.71" cy="173.63" r="5.0" fill="#80cc80" stroke="#000" stroke-opacity="0.8" stroke-width="1.25"/>
<circle cx="746.98" cy="177.37" r="5.0" fill="#80cc80" stroke="#000" stroke-opacity="0.8" stroke-width="1.25"/>
<circle cx="755.72" cy="181.12" r="5.0" fill="#80cc80" stroke="#000" stroke-opacity="0.8" stroke-width="1.25"/>
<circle cx="764.46" cy="181.12" r="5.0" fill="#80cc80" stroke="#000" stroke-opacity="0.8" stroke-width="1.25"/>
<circle cx="789.44" cy="180.62" r="5.0" fill="#80cc80" stroke="#000" stroke-opacity="0.8" stroke-width="1.25"/>
<circle cx="806.92" cy="181.87" r="5.0" fill="#80cc80" stroke="#000" stroke-opacity="0.8" stroke-width="1.25"/>
<circle cx="821.15" cy="178.62" r="5.0" fill="#80cc80" stroke="#000" stroke-opacity="0.8" stroke-width="1.25"/>
<circle cx="749.48" cy="186.61" r="5.0" fill="#80cc80" stroke="#000" stroke-opacity="0.8" stroke-width="1.25"/>
<circle cx="771.95" cy="194.86" r="5.0" fill="#80cc80" stroke="#000" stroke-opacity="0.8" stroke-width="1.25"/>
<circle cx="748.23" cy="184.12" r="5.0" fill="#80cc80" stroke="#000" stroke-opacity="0.8" stroke-width="1.25"/>
<circle cx="657.57" cy="358.94" r="5.0" fill="#80cc80" stroke="#000" stroke-opacity="0.8" stroke-width="1.25"/>
<circle cx="650.08" cy="366.68" r="5.0" fill="#80cc80" stroke="#000" stroke-opacity="0.8" stroke-width="1.25"/>
<circle cx="654.07" cy="370.93" r="5.0" fill="#80cc80" stroke="#000" stroke-opacity="0.8" stroke-width="1.25"/>
<circle cx="670.81" cy="380.92" r="5.0" fill="#80cc80" stroke="#000" stroke-opacity="0.8" stroke-width="1.25"/>
<circle cx="674.55" cy="377.67" r="5.0" fill="#80cc80" stroke="#000" stroke-opacity="0.8" stroke-width="1.25"/>
<circle cx="673.3" cy="386.66" r="5.0" fill="#80cc80" stroke="#000" stroke-opacity="0.8" stroke-width="1.25"/>
<circle cx="672.05" cy="391.66" r="5.0" fill="#80cc80" stroke="#000" stroke-opacity="0.8" stroke-width="1.25"/>
<circle cx="648.33" cy="399.65" r="5.0" fill="#80cc80" stroke="#000" stroke-opacity="0.8" stroke-width="1.25"/>
<path d="M549.2 63 V415.9 H901" fill="none" stroke="#000" stroke-width="1.9"/>
<line x1="543.7" y1="351.45" x2="549.2" y2="351.45" stroke="#333" stroke-width="1.5"/>
<text x="538.7" y="357.85" font-size="18" fill="#4d4d4d" stroke="#4d4d4d" stroke-width="0.25" text-anchor="end">−2</text>
<line x1="543.7" y1="273.25" x2="549.2" y2="273.25" stroke="#333" stroke-width="1.5"/>
<text x="538.7" y="279.65" font-size="18" fill="#4d4d4d" stroke="#4d4d4d" stroke-width="0.25" text-anchor="end">0</text>
<line x1="543.7" y1="195.05" x2="549.2" y2="195.05" stroke="#333" stroke-width="1.5"/>
<text x="538.7" y="201.45" font-size="18" fill="#4d4d4d" stroke="#4d4d4d" stroke-width="0.25" text-anchor="end">2</text>
<line x1="543.7" y1="116.85" x2="549.2" y2="116.85" stroke="#333" stroke-width="1.5"/>
<text x="538.7" y="123.25" font-size="18" fill="#4d4d4d" stroke="#4d4d4d" stroke-width="0.25" text-anchor="end">4</text>
<line x1="624.75" y1="415.9" x2="624.75" y2="421.4" stroke="#333" stroke-width="1.5"/>
<text x="624.75" y="438.5" font-size="18" fill="#4d4d4d" stroke="#4d4d4d" stroke-width="0.25" text-anchor="middle">−5</text>
<line x1="712.25" y1="415.9" x2="712.25" y2="421.4" stroke="#333" stroke-width="1.5"/>
<text x="712.25" y="438.5" font-size="18" fill="#4d4d4d" stroke="#4d4d4d" stroke-width="0.25" text-anchor="middle">0</text>
<line x1="799.75" y1="415.9" x2="799.75" y2="421.4" stroke="#333" stroke-width="1.5"/>
<text x="799.75" y="438.5" font-size="18" fill="#4d4d4d" stroke="#4d4d4d" stroke-width="0.25" text-anchor="middle">5</text>
<line x1="887.25" y1="415.9" x2="887.25" y2="421.4" stroke="#333" stroke-width="1.5"/>
<text x="887.25" y="438.5" font-size="18" fill="#4d4d4d" stroke="#4d4d4d" stroke-width="0.25" text-anchor="middle">10</text>
<text x="725.1" y="466.7" font-size="22" text-anchor="middle" fill="#000" stroke="#000" stroke-width="0.2">β<tspan font-size="16" dy="4">choice</tspan><tspan dy="-4" font-size="26">(</tspan><tspan>t</tspan><tspan dx="4.3">−</tspan><tspan dx="3.9">stat</tspan><tspan font-size="26">)</tspan></text>
<text transform="translate(503.2,239.45) rotate(-90)" x="0" y="0" font-size="22" text-anchor="middle" fill="#000" stroke="#000" stroke-width="0.2">β<tspan font-size="16" dy="4">lottery</tspan><tspan dy="-4" font-size="26">(</tspan><tspan>t</tspan><tspan dx="4.3">−</tspan><tspan dx="3.9">stat</tspan><tspan font-size="26">)</tspan></text>
</g>
<g>
<line x1="1600.4" y1="268.2" x2="1951.8" y2="268.2" stroke="#8a8a8a" stroke-width="1.2" stroke-dasharray="7,5"/>
<line x1="1782.2" y1="63" x2="1782.2" y2="415.9" stroke="#8a8a8a" stroke-width="1.2" stroke-dasharray="7,5"/>
<circle cx="1748.88" cy="281.43" r="5.0" fill="#e9e9e9" stroke="#000" stroke-width="1.25"/>
<circle cx="1773.49" cy="236.64" r="5.0" fill="#e9e9e9" stroke="#000" stroke-width="1.25"/>
<circle cx="1778.3" cy="289.93" r="5.0" fill="#e9e9e9" stroke="#000" stroke-width="1.25"/>
<circle cx="1790.67" cy="243.38" r="5.0" fill="#e9e9e9" stroke="#000" stroke-width="1.25"/>
<circle cx="1762.15" cy="269.72" r="5.0" fill="#e9e9e9" stroke="#000" stroke-width="1.25"/>
<circle cx="1764.15" cy="259.8" r="5.0" fill="#e9e9e9" stroke="#000" stroke-width="1.25"/>
<circle cx="1769.96" cy="301.03" r="5.0" fill="#e9e9e9" stroke="#000" stroke-width="1.25"/>
<circle cx="1814.07" cy="245.47" r="5.0" fill="#e9e9e9" stroke="#000" stroke-width="1.25"/>
<circle cx="1754.34" cy="267.34" r="5.0" fill="#e9e9e9" stroke="#000" stroke-width="1.25"/>
<circle cx="1805.74" cy="271.48" r="5.0" fill="#e9e9e9" stroke="#000" stroke-width="1.25"/>
<circle cx="1778.81" cy="254.78" r="5.0" fill="#e9e9e9" stroke="#000" stroke-width="1.25"/>
<circle cx="1754.74" cy="279.89" r="5.0" fill="#e9e9e9" stroke="#000" stroke-width="1.25"/>
<circle cx="1765.42" cy="295.9" r="5.0" fill="#e9e9e9" stroke="#000" stroke-width="1.25"/>
<circle cx="1817.01" cy="238.67" r="5.0" fill="#e9e9e9" stroke="#000" stroke-width="1.25"/>
<circle cx="1773.54" cy="242.35" r="5.0" fill="#e9e9e9" stroke="#000" stroke-width="1.25"/>
<circle cx="1810.87" cy="269.59" r="5.0" fill="#e9e9e9" stroke="#000" stroke-width="1.25"/>
<circle cx="1782.5" cy="253.66" r="5.0" fill="#e9e9e9" stroke="#000" stroke-width="1.25"/>
<circle cx="1805.77" cy="240.56" r="5.0" fill="#e9e9e9" stroke="#000" stroke-width="1.25"/>
<circle cx="1765.03" cy="286.49" r="5.0" fill="#e9e9e9" stroke="#000" stroke-width="1.25"/>
<circle cx="1751.91" cy="270.28" r="5.0" fill="#e9e9e9" stroke="#000" stroke-width="1.25"/>
<circle cx="1799.4" cy="281.84" r="5.0" fill="#e9e9e9" stroke="#000" stroke-width="1.25"/>
<circle cx="1814.18" cy="266.09" r="5.0" fill="#e9e9e9" stroke="#000" stroke-width="1.25"/>
<circle cx="1773.39" cy="258.38" r="5.0" fill="#e9e9e9" stroke="#000" stroke-width="1.25"/>
<circle cx="1786.62" cy="264.68" r="5.0" fill="#e9e9e9" stroke="#000" stroke-width="1.25"/>
<circle cx="1784.21" cy="268.63" r="5.0" fill="#e9e9e9" stroke="#000" stroke-width="1.25"/>
<circle cx="1805.76" cy="276.11" r="5.0" fill="#e9e9e9" stroke="#000" stroke-width="1.25"/>
<circle cx="1792.07" cy="277.81" r="5.0" fill="#e9e9e9" stroke="#000" stroke-width="1.25"/>
<circle cx="1792.42" cy="249.02" r="5.0" fill="#e9e9e9" stroke="#000" stroke-width="1.25"/>
<circle cx="1814.01" cy="240.01" r="5.0" fill="#e9e9e9" stroke="#000" stroke-width="1.25"/>
<circle cx="1769.85" cy="271.76" r="5.0" fill="#e9e9e9" stroke="#000" stroke-width="1.25"/>
<circle cx="1820.48" cy="247.09" r="5.0" fill="#e9e9e9" stroke="#000" stroke-width="1.25"/>
<circle cx="1783.12" cy="290.79" r="5.0" fill="#e9e9e9" stroke="#000" stroke-width="1.25"/>
<circle cx="1791.98" cy="258.13" r="5.0" fill="#e9e9e9" stroke="#000" stroke-width="1.25"/>
<circle cx="1771.73" cy="285.28" r="5.0" fill="#e9e9e9" stroke="#000" stroke-width="1.25"/>
<circle cx="1809.58" cy="230.62" r="5.0" fill="#e9e9e9" stroke="#000" stroke-width="1.25"/>
<circle cx="1750.16" cy="260.33" r="5.0" fill="#e9e9e9" stroke="#000" stroke-width="1.25"/>
<circle cx="1784.02" cy="284.56" r="5.0" fill="#e9e9e9" stroke="#000" stroke-width="1.25"/>
<circle cx="1774.8" cy="295.61" r="5.0" fill="#e9e9e9" stroke="#000" stroke-width="1.25"/>
<circle cx="1816.23" cy="251.25" r="5.0" fill="#e9e9e9" stroke="#000" stroke-width="1.25"/>
<circle cx="1762.09" cy="276.59" r="5.0" fill="#e9e9e9" stroke="#000" stroke-width="1.25"/>
<circle cx="1804.72" cy="253.92" r="5.0" fill="#e9e9e9" stroke="#000" stroke-width="1.25"/>
<circle cx="1782.32" cy="257.04" r="5.0" fill="#e9e9e9" stroke="#000" stroke-width="1.25"/>
<circle cx="1768.53" cy="250" r="5.0" fill="#e9e9e9" stroke="#000" stroke-width="1.25"/>
<circle cx="1778.92" cy="278.41" r="5.0" fill="#e9e9e9" stroke="#000" stroke-width="1.25"/>
<circle cx="1809.82" cy="233.78" r="5.0" fill="#e9e9e9" stroke="#000" stroke-width="1.25"/>
<circle cx="1807.77" cy="255.47" r="5.0" fill="#e9e9e9" stroke="#000" stroke-width="1.25"/>
<circle cx="1804.15" cy="233.79" r="5.0" fill="#e9e9e9" stroke="#000" stroke-width="1.25"/>
<circle cx="1787.33" cy="273.79" r="5.0" fill="#e9e9e9" stroke="#000" stroke-width="1.25"/>
<circle cx="1784.23" cy="296.93" r="5.0" fill="#e9e9e9" stroke="#000" stroke-width="1.25"/>
<circle cx="1755.29" cy="275.89" r="5.0" fill="#e9e9e9" stroke="#000" stroke-width="1.25"/>
<circle cx="1769.87" cy="298.11" r="5.0" fill="#e9e9e9" stroke="#000" stroke-width="1.25"/>
<circle cx="1777.26" cy="266.45" r="5.0" fill="#e9e9e9" stroke="#000" stroke-width="1.25"/>
<circle cx="1793.47" cy="285.52" r="5.0" fill="#e9e9e9" stroke="#000" stroke-width="1.25"/>
<circle cx="1779.83" cy="297.67" r="5.0" fill="#e9e9e9" stroke="#000" stroke-width="1.25"/>
<circle cx="1804.99" cy="266.1" r="5.0" fill="#e9e9e9" stroke="#000" stroke-width="1.25"/>
<circle cx="1785.21" cy="249.01" r="5.0" fill="#e9e9e9" stroke="#000" stroke-width="1.25"/>
<circle cx="1754.8" cy="255.95" r="5.0" fill="#e9e9e9" stroke="#000" stroke-width="1.25"/>
<circle cx="1790.05" cy="252.59" r="5.0" fill="#e9e9e9" stroke="#000" stroke-width="1.25"/>
<circle cx="1757.59" cy="297.84" r="5.0" fill="#e9e9e9" stroke="#000" stroke-width="1.25"/>
<circle cx="1768.89" cy="281.17" r="5.0" fill="#e9e9e9" stroke="#000" stroke-width="1.25"/>
<circle cx="1746.98" cy="285.24" r="5.0" fill="#e9e9e9" stroke="#000" stroke-width="1.25"/>
<circle cx="1757.42" cy="249.3" r="5.0" fill="#e9e9e9" stroke="#000" stroke-width="1.25"/>
<circle cx="1792.38" cy="227.22" r="5.0" fill="#e9e9e9" stroke="#000" stroke-width="1.25"/>
<circle cx="1764.41" cy="293.34" r="5.0" fill="#e9e9e9" stroke="#000" stroke-width="1.25"/>
<circle cx="1767.24" cy="256.14" r="5.0" fill="#e9e9e9" stroke="#000" stroke-width="1.25"/>
<circle cx="1781.01" cy="264.11" r="5.0" fill="#e9e9e9" stroke="#000" stroke-width="1.25"/>
<circle cx="1758.79" cy="273.34" r="5.0" fill="#e9e9e9" stroke="#000" stroke-width="1.25"/>
<circle cx="1778.31" cy="273.82" r="5.0" fill="#e9e9e9" stroke="#000" stroke-width="1.25"/>
<circle cx="1761.86" cy="251.64" r="5.0" fill="#e9e9e9" stroke="#000" stroke-width="1.25"/>
<circle cx="1757.73" cy="295" r="5.0" fill="#e9e9e9" stroke="#000" stroke-width="1.25"/>
<circle cx="1774.91" cy="247.61" r="5.0" fill="#e9e9e9" stroke="#000" stroke-width="1.25"/>
<circle cx="1769.91" cy="262.27" r="5.0" fill="#e9e9e9" stroke="#000" stroke-width="1.25"/>
<circle cx="1774.54" cy="271.29" r="5.0" fill="#e9e9e9" stroke="#000" stroke-width="1.25"/>
<circle cx="1776.08" cy="292.2" r="5.0" fill="#e9e9e9" stroke="#000" stroke-width="1.25"/>
<circle cx="1806.23" cy="281.32" r="5.0" fill="#e9e9e9" stroke="#000" stroke-width="1.25"/>
<circle cx="1785.75" cy="245.95" r="5.0" fill="#e9e9e9" stroke="#000" stroke-width="1.25"/>
<circle cx="1780.37" cy="243.83" r="5.0" fill="#e9e9e9" stroke="#000" stroke-width="1.25"/>
<circle cx="1789.33" cy="281.51" r="5.0" fill="#e9e9e9" stroke="#000" stroke-width="1.25"/>
<circle cx="1808.89" cy="265.45" r="5.0" fill="#e9e9e9" stroke="#000" stroke-width="1.25"/>
<circle cx="1766.29" cy="264.99" r="5.0" fill="#e9e9e9" stroke="#000" stroke-width="1.25"/>
<circle cx="1770.81" cy="268" r="5.0" fill="#e9e9e9" stroke="#000" stroke-width="1.25"/>
<circle cx="1769.98" cy="255.92" r="5.0" fill="#e9e9e9" stroke="#000" stroke-width="1.25"/>
<circle cx="1772.94" cy="274.74" r="5.0" fill="#e9e9e9" stroke="#000" stroke-width="1.25"/>
<circle cx="1811.44" cy="252.13" r="5.0" fill="#e9e9e9" stroke="#000" stroke-width="1.25"/>
<circle cx="1799.32" cy="277.52" r="5.0" fill="#e9e9e9" stroke="#000" stroke-width="1.25"/>
<circle cx="1776.09" cy="255.92" r="5.0" fill="#e9e9e9" stroke="#000" stroke-width="1.25"/>
<circle cx="1775.88" cy="260.15" r="5.0" fill="#e9e9e9" stroke="#000" stroke-width="1.25"/>
<circle cx="1749.15" cy="273.09" r="5.0" fill="#e9e9e9" stroke="#000" stroke-width="1.25"/>
<circle cx="1751.89" cy="295.01" r="5.0" fill="#e9e9e9" stroke="#000" stroke-width="1.25"/>
<circle cx="1774.49" cy="281.26" r="5.0" fill="#e9e9e9" stroke="#000" stroke-width="1.25"/>
<circle cx="1802.63" cy="240.15" r="5.0" fill="#e9e9e9" stroke="#000" stroke-width="1.25"/>
<circle cx="1759.62" cy="260.89" r="5.0" fill="#e9e9e9" stroke="#000" stroke-width="1.25"/>
<circle cx="1769.83" cy="287.18" r="5.0" fill="#e9e9e9" stroke="#000" stroke-width="1.25"/>
<circle cx="1802.61" cy="250.11" r="5.0" fill="#e9e9e9" stroke="#000" stroke-width="1.25"/>
<circle cx="1788.5" cy="236.6" r="5.0" fill="#e9e9e9" stroke="#000" stroke-width="1.25"/>
<circle cx="1813.88" cy="255.54" r="5.0" fill="#e9e9e9" stroke="#000" stroke-width="1.25"/>
<circle cx="1800.8" cy="271.68" r="5.0" fill="#e9e9e9" stroke="#000" stroke-width="1.25"/>
<circle cx="1774.27" cy="251.86" r="5.0" fill="#e9e9e9" stroke="#000" stroke-width="1.25"/>
<circle cx="1776.53" cy="242.94" r="5.0" fill="#e9e9e9" stroke="#000" stroke-width="1.25"/>
<circle cx="1745.41" cy="281.27" r="5.0" fill="#e9e9e9" stroke="#000" stroke-width="1.25"/>
<circle cx="1754.04" cy="288.67" r="5.0" fill="#e9e9e9" stroke="#000" stroke-width="1.25"/>
<circle cx="1748.33" cy="265.1" r="5.0" fill="#e9e9e9" stroke="#000" stroke-width="1.25"/>
<circle cx="1758.59" cy="291.21" r="5.0" fill="#e9e9e9" stroke="#000" stroke-width="1.25"/>
<circle cx="1785.49" cy="271.69" r="5.0" fill="#e9e9e9" stroke="#000" stroke-width="1.25"/>
<circle cx="1818.44" cy="240.86" r="5.0" fill="#e9e9e9" stroke="#000" stroke-width="1.25"/>
<circle cx="1810.47" cy="276.09" r="5.0" fill="#e9e9e9" stroke="#000" stroke-width="1.25"/>
<circle cx="1799.99" cy="288.68" r="5.0" fill="#e9e9e9" stroke="#000" stroke-width="1.25"/>
<circle cx="1771.26" cy="252.28" r="5.0" fill="#e9e9e9" stroke="#000" stroke-width="1.25"/>
<circle cx="1791.44" cy="283.35" r="5.0" fill="#e9e9e9" stroke="#000" stroke-width="1.25"/>
<circle cx="1767" cy="242.11" r="5.0" fill="#e9e9e9" stroke="#000" stroke-width="1.25"/>
<circle cx="1776.38" cy="233.28" r="5.0" fill="#e9e9e9" stroke="#000" stroke-width="1.25"/>
<circle cx="1780.69" cy="288.52" r="5.0" fill="#e9e9e9" stroke="#000" stroke-width="1.25"/>
<circle cx="1800.69" cy="262.92" r="5.0" fill="#e9e9e9" stroke="#000" stroke-width="1.25"/>
<circle cx="1805.39" cy="237.08" r="5.0" fill="#e9e9e9" stroke="#000" stroke-width="1.25"/>
<circle cx="1807.95" cy="246.28" r="5.0" fill="#e9e9e9" stroke="#000" stroke-width="1.25"/>
<circle cx="1763.72" cy="245.94" r="5.0" fill="#e9e9e9" stroke="#000" stroke-width="1.25"/>
<circle cx="1770.67" cy="258.91" r="5.0" fill="#e9e9e9" stroke="#000" stroke-width="1.25"/>
<circle cx="1786.13" cy="293.25" r="5.0" fill="#e9e9e9" stroke="#000" stroke-width="1.25"/>
<circle cx="1786.55" cy="278.7" r="5.0" fill="#e9e9e9" stroke="#000" stroke-width="1.25"/>
<circle cx="1769.64" cy="274.68" r="5.0" fill="#e9e9e9" stroke="#000" stroke-width="1.25"/>
<circle cx="1804.52" cy="261.06" r="5.0" fill="#e9e9e9" stroke="#000" stroke-width="1.25"/>
<circle cx="1780.06" cy="261.36" r="5.0" fill="#e9e9e9" stroke="#000" stroke-width="1.25"/>
<circle cx="1798.07" cy="253.31" r="5.0" fill="#e9e9e9" stroke="#000" stroke-width="1.25"/>
<circle cx="1758.3" cy="258.63" r="5.0" fill="#e9e9e9" stroke="#000" stroke-width="1.25"/>
<circle cx="1782.78" cy="236.55" r="5.0" fill="#e9e9e9" stroke="#000" stroke-width="1.25"/>
<circle cx="1803.86" cy="229.76" r="5.0" fill="#e9e9e9" stroke="#000" stroke-width="1.25"/>
<circle cx="1760.62" cy="301.7" r="5.0" fill="#e9e9e9" stroke="#000" stroke-width="1.25"/>
<circle cx="1795.49" cy="276.96" r="5.0" fill="#e9e9e9" stroke="#000" stroke-width="1.25"/>
<circle cx="1760.53" cy="254.7" r="5.0" fill="#e9e9e9" stroke="#000" stroke-width="1.25"/>
<circle cx="1796.86" cy="240.6" r="5.0" fill="#e9e9e9" stroke="#000" stroke-width="1.25"/>
<circle cx="1808.25" cy="272.95" r="5.0" fill="#e9e9e9" stroke="#000" stroke-width="1.25"/>
<circle cx="1790.7" cy="295.67" r="5.0" fill="#e9e9e9" stroke="#000" stroke-width="1.25"/>
<circle cx="1792.05" cy="274.72" r="5.0" fill="#e9e9e9" stroke="#000" stroke-width="1.25"/>
<circle cx="1800.55" cy="285.9" r="5.0" fill="#e9e9e9" stroke="#000" stroke-width="1.25"/>
<circle cx="1791.95" cy="271.15" r="5.0" fill="#e9e9e9" stroke="#000" stroke-width="1.25"/>
<circle cx="1813.09" cy="233.53" r="5.0" fill="#e9e9e9" stroke="#000" stroke-width="1.25"/>
<circle cx="1794.22" cy="263.35" r="5.0" fill="#e9e9e9" stroke="#000" stroke-width="1.25"/>
<circle cx="1790.66" cy="288.2" r="5.0" fill="#e9e9e9" stroke="#000" stroke-width="1.25"/>
<circle cx="1800.59" cy="243.66" r="5.0" fill="#e9e9e9" stroke="#000" stroke-width="1.25"/>
<circle cx="1753.99" cy="261.93" r="5.0" fill="#e9e9e9" stroke="#000" stroke-width="1.25"/>
<circle cx="1801.1" cy="234.81" r="5.0" fill="#e9e9e9" stroke="#000" stroke-width="1.25"/>
<circle cx="1781.86" cy="279.79" r="5.0" fill="#e9e9e9" stroke="#000" stroke-width="1.25"/>
<circle cx="1818.05" cy="253.53" r="5.0" fill="#e9e9e9" stroke="#000" stroke-width="1.25"/>
<circle cx="1767.24" cy="275.98" r="5.0" fill="#e9e9e9" stroke="#000" stroke-width="1.25"/>
<circle cx="1756.48" cy="285.84" r="5.0" fill="#e9e9e9" stroke="#000" stroke-width="1.25"/>
<circle cx="1794.93" cy="236.65" r="5.0" fill="#e9e9e9" stroke="#000" stroke-width="1.25"/>
<circle cx="1776.17" cy="286.73" r="5.0" fill="#e9e9e9" stroke="#000" stroke-width="1.25"/>
<circle cx="1808.64" cy="268.08" r="5.0" fill="#e9e9e9" stroke="#000" stroke-width="1.25"/>
<circle cx="1792.93" cy="251.91" r="5.0" fill="#e9e9e9" stroke="#000" stroke-width="1.25"/>
<circle cx="1761.33" cy="293.44" r="5.0" fill="#e9e9e9" stroke="#000" stroke-width="1.25"/>
<circle cx="1737.79" cy="243.06" r="5.0" fill="#4cafd4" stroke="#000" stroke-opacity="0.8" stroke-width="1.25"/>
<circle cx="1716.56" cy="264.04" r="5.0" fill="#4cafd4" stroke="#000" stroke-opacity="0.8" stroke-width="1.25"/>
<circle cx="1662.86" cy="278.52" r="5.0" fill="#4cafd4" stroke="#000" stroke-opacity="0.8" stroke-width="1.25"/>
<circle cx="1683.34" cy="277.77" r="5.0" fill="#4cafd4" stroke="#000" stroke-opacity="0.8" stroke-width="1.25"/>
<circle cx="1697.08" cy="279.77" r="5.0" fill="#4cafd4" stroke="#000" stroke-opacity="0.8" stroke-width="1.25"/>
<circle cx="1700.08" cy="274.78" r="5.0" fill="#4cafd4" stroke="#000" stroke-opacity="0.8" stroke-width="1.25"/>
<circle cx="1709.57" cy="279.77" r="5.0" fill="#4cafd4" stroke="#000" stroke-opacity="0.8" stroke-width="1.25"/>
<circle cx="1710.82" cy="284.77" r="5.0" fill="#4cafd4" stroke="#000" stroke-opacity="0.8" stroke-width="1.25"/>
<circle cx="1715.81" cy="277.27" r="5.0" fill="#4cafd4" stroke="#000" stroke-opacity="0.8" stroke-width="1.25"/>
<circle cx="1714.56" cy="289.26" r="5.0" fill="#4cafd4" stroke="#000" stroke-opacity="0.8" stroke-width="1.25"/>
<circle cx="1677.1" cy="290.26" r="5.0" fill="#4cafd4" stroke="#000" stroke-opacity="0.8" stroke-width="1.25"/>
<circle cx="1662.11" cy="298.5" r="5.0" fill="#4cafd4" stroke="#000" stroke-opacity="0.8" stroke-width="1.25"/>
<circle cx="1669.61" cy="300.5" r="5.0" fill="#4cafd4" stroke="#000" stroke-opacity="0.8" stroke-width="1.25"/>
<circle cx="1689.09" cy="298.5" r="5.0" fill="#4cafd4" stroke="#000" stroke-opacity="0.8" stroke-width="1.25"/>
<circle cx="1692.83" cy="301.75" r="5.0" fill="#4cafd4" stroke="#000" stroke-opacity="0.8" stroke-width="1.25"/>
<circle cx="1695.83" cy="296" r="5.0" fill="#4cafd4" stroke="#000" stroke-opacity="0.8" stroke-width="1.25"/>
<circle cx="1703.32" cy="299.75" r="5.0" fill="#4cafd4" stroke="#000" stroke-opacity="0.8" stroke-width="1.25"/>
<circle cx="1710.82" cy="297.25" r="5.0" fill="#4cafd4" stroke="#000" stroke-opacity="0.8" stroke-width="1.25"/>
<circle cx="1725.8" cy="296" r="5.0" fill="#4cafd4" stroke="#000" stroke-opacity="0.8" stroke-width="1.25"/>
<circle cx="1725.8" cy="289.76" r="5.0" fill="#4cafd4" stroke="#000" stroke-opacity="0.8" stroke-width="1.25"/>
<circle cx="1730.8" cy="293.51" r="5.0" fill="#4cafd4" stroke="#000" stroke-opacity="0.8" stroke-width="1.25"/>
<circle cx="1733.29" cy="284.77" r="5.0" fill="#4cafd4" stroke="#000" stroke-opacity="0.8" stroke-width="1.25"/>
<circle cx="1738.29" cy="288.51" r="5.0" fill="#4cafd4" stroke="#000" stroke-opacity="0.8" stroke-width="1.25"/>
<circle cx="1740.79" cy="286.01" r="5.0" fill="#4cafd4" stroke="#000" stroke-opacity="0.8" stroke-width="1.25"/>
<circle cx="1744.53" cy="291.01" r="5.0" fill="#4cafd4" stroke="#000" stroke-opacity="0.8" stroke-width="1.25"/>
<circle cx="1735.79" cy="297.25" r="5.0" fill="#4cafd4" stroke="#000" stroke-opacity="0.8" stroke-width="1.25"/>
<circle cx="1738.29" cy="302.25" r="5.0" fill="#4cafd4" stroke="#000" stroke-opacity="0.8" stroke-width="1.25"/>
<circle cx="1743.28" cy="296" r="5.0" fill="#4cafd4" stroke="#000" stroke-opacity="0.8" stroke-width="1.25"/>
<circle cx="1746.53" cy="278.52" r="5.0" fill="#4cafd4" stroke="#000" stroke-opacity="0.8" stroke-width="1.25"/>
<circle cx="1815.71" cy="236.06" r="5.0" fill="#4cafd4" stroke="#000" stroke-opacity="0.8" stroke-width="1.25"/>
<circle cx="1823.2" cy="236.06" r="5.0" fill="#4cafd4" stroke="#000" stroke-opacity="0.8" stroke-width="1.25"/>
<circle cx="1821.95" cy="239.81" r="5.0" fill="#4cafd4" stroke="#000" stroke-opacity="0.8" stroke-width="1.25"/>
<circle cx="1821.95" cy="247.3" r="5.0" fill="#4cafd4" stroke="#000" stroke-opacity="0.8" stroke-width="1.25"/>
<circle cx="1824.45" cy="251.05" r="5.0" fill="#4cafd4" stroke="#000" stroke-opacity="0.8" stroke-width="1.25"/>
<circle cx="1834.44" cy="244.81" r="5.0" fill="#4cafd4" stroke="#000" stroke-opacity="0.8" stroke-width="1.25"/>
<circle cx="1820.21" cy="252.3" r="5.0" fill="#4cafd4" stroke="#000" stroke-opacity="0.8" stroke-width="1.25"/>
<circle cx="1866.91" cy="232.82" r="5.0" fill="#4cafd4" stroke="#000" stroke-opacity="0.8" stroke-width="1.25"/>
<circle cx="1901.87" cy="247.3" r="5.0" fill="#4cafd4" stroke="#000" stroke-opacity="0.8" stroke-width="1.25"/>
<circle cx="1841.93" cy="266.78" r="5.0" fill="#4cafd4" stroke="#000" stroke-opacity="0.8" stroke-width="1.25"/>
<circle cx="1845.68" cy="268.53" r="5.0" fill="#4cafd4" stroke="#000" stroke-opacity="0.8" stroke-width="1.25"/>
<circle cx="1851.92" cy="263.54" r="5.0" fill="#4cafd4" stroke="#000" stroke-opacity="0.8" stroke-width="1.25"/>
<circle cx="1843.18" cy="272.28" r="5.0" fill="#4cafd4" stroke="#000" stroke-opacity="0.8" stroke-width="1.25"/>
<circle cx="1851.92" cy="272.28" r="5.0" fill="#4cafd4" stroke="#000" stroke-opacity="0.8" stroke-width="1.25"/>
<circle cx="1850.68" cy="281.77" r="5.0" fill="#4cafd4" stroke="#000" stroke-opacity="0.8" stroke-width="1.25"/>
<circle cx="1839.44" cy="288.01" r="5.0" fill="#4cafd4" stroke="#000" stroke-opacity="0.8" stroke-width="1.25"/>
<circle cx="1880.65" cy="281.02" r="5.0" fill="#4cafd4" stroke="#000" stroke-opacity="0.8" stroke-width="1.25"/>
<circle cx="1869.41" cy="298.5" r="5.0" fill="#4cafd4" stroke="#000" stroke-opacity="0.8" stroke-width="1.25"/>
<circle cx="1780" cy="104.2" r="5.0" fill="#ee8a75" stroke="#000" stroke-opacity="0.8" stroke-width="1.25"/>
<circle cx="1795.73" cy="98.7" r="5.0" fill="#ee8a75" stroke="#000" stroke-opacity="0.8" stroke-width="1.25"/>
<circle cx="1803.97" cy="99.2" r="5.0" fill="#ee8a75" stroke="#000" stroke-opacity="0.8" stroke-width="1.25"/>
<circle cx="1801.47" cy="113.69" r="5.0" fill="#ee8a75" stroke="#000" stroke-opacity="0.8" stroke-width="1.25"/>
<circle cx="1805.22" cy="124.93" r="5.0" fill="#ee8a75" stroke="#000" stroke-opacity="0.8" stroke-width="1.25"/>
<circle cx="1808.97" cy="129.92" r="5.0" fill="#ee8a75" stroke="#000" stroke-opacity="0.8" stroke-width="1.25"/>
<circle cx="1811.46" cy="130.67" r="5.0" fill="#ee8a75" stroke="#000" stroke-opacity="0.8" stroke-width="1.25"/>
<circle cx="1801.47" cy="143.16" r="5.0" fill="#ee8a75" stroke="#000" stroke-opacity="0.8" stroke-width="1.25"/>
<circle cx="1805.22" cy="145.4" r="5.0" fill="#ee8a75" stroke="#000" stroke-opacity="0.8" stroke-width="1.25"/>
<circle cx="1806.47" cy="164.89" r="5.0" fill="#ee8a75" stroke="#000" stroke-opacity="0.8" stroke-width="1.25"/>
<circle cx="1813.96" cy="191.11" r="5.0" fill="#ee8a75" stroke="#000" stroke-opacity="0.8" stroke-width="1.25"/>
<circle cx="1811.46" cy="196.1" r="5.0" fill="#ee8a75" stroke="#000" stroke-opacity="0.8" stroke-width="1.25"/>
<circle cx="1813.21" cy="202.35" r="5.0" fill="#ee8a75" stroke="#000" stroke-opacity="0.8" stroke-width="1.25"/>
<circle cx="1807.72" cy="206.09" r="5.0" fill="#ee8a75" stroke="#000" stroke-opacity="0.8" stroke-width="1.25"/>
<circle cx="1814.46" cy="209.84" r="5.0" fill="#ee8a75" stroke="#000" stroke-opacity="0.8" stroke-width="1.25"/>
<circle cx="1809.47" cy="213.59" r="5.0" fill="#ee8a75" stroke="#000" stroke-opacity="0.8" stroke-width="1.25"/>
<circle cx="1790.74" cy="208.59" r="5.0" fill="#ee8a75" stroke="#000" stroke-opacity="0.8" stroke-width="1.25"/>
<circle cx="1786.99" cy="219.83" r="5.0" fill="#ee8a75" stroke="#000" stroke-opacity="0.8" stroke-width="1.25"/>
<circle cx="1793.23" cy="219.83" r="5.0" fill="#ee8a75" stroke="#000" stroke-opacity="0.8" stroke-width="1.25"/>
<circle cx="1800.73" cy="217.33" r="5.0" fill="#ee8a75" stroke="#000" stroke-opacity="0.8" stroke-width="1.25"/>
<circle cx="1806.97" cy="222.33" r="5.0" fill="#ee8a75" stroke="#000" stroke-opacity="0.8" stroke-width="1.25"/>
<circle cx="1788.24" cy="226.07" r="5.0" fill="#ee8a75" stroke="#000" stroke-opacity="0.8" stroke-width="1.25"/>
<circle cx="1778.25" cy="229.82" r="5.0" fill="#ee8a75" stroke="#000" stroke-opacity="0.8" stroke-width="1.25"/>
<circle cx="1769.51" cy="229.32" r="5.0" fill="#ee8a75" stroke="#000" stroke-opacity="0.8" stroke-width="1.25"/>
<circle cx="1798.23" cy="231.07" r="5.0" fill="#ee8a75" stroke="#000" stroke-opacity="0.8" stroke-width="1.25"/>
<circle cx="1805.72" cy="229.82" r="5.0" fill="#ee8a75" stroke="#000" stroke-opacity="0.8" stroke-width="1.25"/>
<circle cx="1750.78" cy="314.74" r="5.0" fill="#ee8a75" stroke="#000" stroke-opacity="0.8" stroke-width="1.25"/>
<circle cx="1760.77" cy="309.74" r="5.0" fill="#ee8a75" stroke="#000" stroke-opacity="0.8" stroke-width="1.25"/>
<circle cx="1765.76" cy="307.74" r="5.0" fill="#ee8a75" stroke="#000" stroke-opacity="0.8" stroke-width="1.25"/>
<circle cx="1778.25" cy="305.99" r="5.0" fill="#ee8a75" stroke="#000" stroke-opacity="0.8" stroke-width="1.25"/>
<circle cx="1778.75" cy="315.98" r="5.0" fill="#ee8a75" stroke="#000" stroke-opacity="0.8" stroke-width="1.25"/>
<circle cx="1789.49" cy="309.74" r="5.0" fill="#ee8a75" stroke="#000" stroke-opacity="0.8" stroke-width="1.25"/>
<circle cx="1754.52" cy="323.48" r="5.0" fill="#ee8a75" stroke="#000" stroke-opacity="0.8" stroke-width="1.25"/>
<circle cx="1757.02" cy="322.23" r="5.0" fill="#ee8a75" stroke="#000" stroke-opacity="0.8" stroke-width="1.25"/>
<circle cx="1760.77" cy="320.98" r="5.0" fill="#ee8a75" stroke="#000" stroke-opacity="0.8" stroke-width="1.25"/>
<circle cx="1752.02" cy="399.65" r="5.0" fill="#ee8a75" stroke="#000" stroke-opacity="0.8" stroke-width="1.25"/>
<circle cx="1828.7" cy="78.72" r="5.0" fill="#80cc80" stroke="#000" stroke-opacity="0.8" stroke-width="1.25"/>
<circle cx="1820.71" cy="134.92" r="5.0" fill="#80cc80" stroke="#000" stroke-opacity="0.8" stroke-width="1.25"/>
<circle cx="1829.45" cy="133.67" r="5.0" fill="#80cc80" stroke="#000" stroke-opacity="0.8" stroke-width="1.25"/>
<circle cx="1831.19" cy="146.15" r="5.0" fill="#80cc80" stroke="#000" stroke-opacity="0.8" stroke-width="1.25"/>
<circle cx="1865.16" cy="157.39" r="5.0" fill="#80cc80" stroke="#000" stroke-opacity="0.8" stroke-width="1.25"/>
<circle cx="1851.92" cy="165.38" r="5.0" fill="#80cc80" stroke="#000" stroke-opacity="0.8" stroke-width="1.25"/>
<circle cx="1860.67" cy="165.38" r="5.0" fill="#80cc80" stroke="#000" stroke-opacity="0.8" stroke-width="1.25"/>
<circle cx="1836.44" cy="171.63" r="5.0" fill="#80cc80" stroke="#000" stroke-opacity="0.8" stroke-width="1.25"/>
<circle cx="1840.19" cy="169.88" r="5.0" fill="#80cc80" stroke="#000" stroke-opacity="0.8" stroke-width="1.25"/>
<circle cx="1816.46" cy="173.63" r="5.0" fill="#80cc80" stroke="#000" stroke-opacity="0.8" stroke-width="1.25"/>
<circle cx="1821.45" cy="176.87" r="5.0" fill="#80cc80" stroke="#000" stroke-opacity="0.8" stroke-width="1.25"/>
<circle cx="1851.92" cy="176.87" r="5.0" fill="#80cc80" stroke="#000" stroke-opacity="0.8" stroke-width="1.25"/>
<circle cx="1843.18" cy="182.87" r="5.0" fill="#80cc80" stroke="#000" stroke-opacity="0.8" stroke-width="1.25"/>
<circle cx="1848.18" cy="191.11" r="5.0" fill="#80cc80" stroke="#000" stroke-opacity="0.8" stroke-width="1.25"/>
<circle cx="1850.68" cy="194.36" r="5.0" fill="#80cc80" stroke="#000" stroke-opacity="0.8" stroke-width="1.25"/>
<circle cx="1851.92" cy="197.35" r="5.0" fill="#80cc80" stroke="#000" stroke-opacity="0.8" stroke-width="1.25"/>
<circle cx="1830.2" cy="191.61" r="5.0" fill="#80cc80" stroke="#000" stroke-opacity="0.8" stroke-width="1.25"/>
<circle cx="1818.21" cy="197.35" r="5.0" fill="#80cc80" stroke="#000" stroke-opacity="0.8" stroke-width="1.25"/>
<circle cx="1828.2" cy="198.6" r="5.0" fill="#80cc80" stroke="#000" stroke-opacity="0.8" stroke-width="1.25"/>
<circle cx="1833.19" cy="201.1" r="5.0" fill="#80cc80" stroke="#000" stroke-opacity="0.8" stroke-width="1.25"/>
<circle cx="1823.2" cy="206.09" r="5.0" fill="#80cc80" stroke="#000" stroke-opacity="0.8" stroke-width="1.25"/>
<circle cx="1829.45" cy="207.34" r="5.0" fill="#80cc80" stroke="#000" stroke-opacity="0.8" stroke-width="1.25"/>
<circle cx="1838.19" cy="206.09" r="5.0" fill="#80cc80" stroke="#000" stroke-opacity="0.8" stroke-width="1.25"/>
<circle cx="1835.69" cy="212.34" r="5.0" fill="#80cc80" stroke="#000" stroke-opacity="0.8" stroke-width="1.25"/>
<circle cx="1845.68" cy="209.84" r="5.0" fill="#80cc80" stroke="#000" stroke-opacity="0.8" stroke-width="1.25"/>
<circle cx="1849.43" cy="208.59" r="5.0" fill="#80cc80" stroke="#000" stroke-opacity="0.8" stroke-width="1.25"/>
<circle cx="1840.69" cy="214.84" r="5.0" fill="#80cc80" stroke="#000" stroke-opacity="0.8" stroke-width="1.25"/>
<circle cx="1836.94" cy="218.58" r="5.0" fill="#80cc80" stroke="#000" stroke-opacity="0.8" stroke-width="1.25"/>
<circle cx="1828.2" cy="216.08" r="5.0" fill="#80cc80" stroke="#000" stroke-opacity="0.8" stroke-width="1.25"/>
<circle cx="1816.96" cy="220.58" r="5.0" fill="#80cc80" stroke="#000" stroke-opacity="0.8" stroke-width="1.25"/>
<circle cx="1824.45" cy="224.83" r="5.0" fill="#80cc80" stroke="#000" stroke-opacity="0.8" stroke-width="1.25"/>
<circle cx="1833.19" cy="224.83" r="5.0" fill="#80cc80" stroke="#000" stroke-opacity="0.8" stroke-width="1.25"/>
<circle cx="1834.94" cy="229.82" r="5.0" fill="#80cc80" stroke="#000" stroke-opacity="0.8" stroke-width="1.25"/>
<circle cx="1870.66" cy="202.85" r="5.0" fill="#80cc80" stroke="#000" stroke-opacity="0.8" stroke-width="1.25"/>
<circle cx="1884.39" cy="204.35" r="5.0" fill="#80cc80" stroke="#000" stroke-opacity="0.8" stroke-width="1.25"/>
<circle cx="1890.64" cy="206.84" r="5.0" fill="#80cc80" stroke="#000" stroke-opacity="0.8" stroke-width="1.25"/>
<circle cx="1885.64" cy="192.36" r="5.0" fill="#80cc80" stroke="#000" stroke-opacity="0.8" stroke-width="1.25"/>
<circle cx="1891.88" cy="189.36" r="5.0" fill="#80cc80" stroke="#000" stroke-opacity="0.8" stroke-width="1.25"/>
<circle cx="1906.12" cy="189.86" r="5.0" fill="#80cc80" stroke="#000" stroke-opacity="0.8" stroke-width="1.25"/>
<circle cx="1872.65" cy="216.08" r="5.0" fill="#80cc80" stroke="#000" stroke-opacity="0.8" stroke-width="1.25"/>
<circle cx="1881.89" cy="213.59" r="5.0" fill="#80cc80" stroke="#000" stroke-opacity="0.8" stroke-width="1.25"/>
<circle cx="1884.39" cy="226.07" r="5.0" fill="#80cc80" stroke="#000" stroke-opacity="0.8" stroke-width="1.25"/>
<circle cx="1894.38" cy="221.83" r="5.0" fill="#80cc80" stroke="#000" stroke-opacity="0.8" stroke-width="1.25"/>
<circle cx="1909.37" cy="217.83" r="5.0" fill="#80cc80" stroke="#000" stroke-opacity="0.8" stroke-width="1.25"/>
<circle cx="1910.62" cy="218.58" r="5.0" fill="#80cc80" stroke="#000" stroke-opacity="0.8" stroke-width="1.25"/>
<circle cx="1935.59" cy="218.08" r="5.0" fill="#80cc80" stroke="#000" stroke-opacity="0.8" stroke-width="1.25"/>
<circle cx="1615.91" cy="320.98" r="5.0" fill="#80cc80" stroke="#000" stroke-opacity="0.8" stroke-width="1.25"/>
<circle cx="1723.3" cy="304.75" r="5.0" fill="#80cc80" stroke="#000" stroke-opacity="0.8" stroke-width="1.25"/>
<circle cx="1715.81" cy="316.73" r="5.0" fill="#80cc80" stroke="#000" stroke-opacity="0.8" stroke-width="1.25"/>
<circle cx="1725.8" cy="318.48" r="5.0" fill="#80cc80" stroke="#000" stroke-opacity="0.8" stroke-width="1.25"/>
<circle cx="1734.54" cy="312.24" r="5.0" fill="#80cc80" stroke="#000" stroke-opacity="0.8" stroke-width="1.25"/>
<circle cx="1728.3" cy="324.73" r="5.0" fill="#80cc80" stroke="#000" stroke-opacity="0.8" stroke-width="1.25"/>
<circle cx="1738.29" cy="324.73" r="5.0" fill="#80cc80" stroke="#000" stroke-opacity="0.8" stroke-width="1.25"/>
<circle cx="1743.28" cy="319.73" r="5.0" fill="#80cc80" stroke="#000" stroke-opacity="0.8" stroke-width="1.25"/>
<circle cx="1747.03" cy="330.97" r="5.0" fill="#80cc80" stroke="#000" stroke-opacity="0.8" stroke-width="1.25"/>
<circle cx="1735.79" cy="332.22" r="5.0" fill="#80cc80" stroke="#000" stroke-opacity="0.8" stroke-width="1.25"/>
<circle cx="1710.82" cy="333.47" r="5.0" fill="#80cc80" stroke="#000" stroke-opacity="0.8" stroke-width="1.25"/>
<circle cx="1715.81" cy="334.72" r="5.0" fill="#80cc80" stroke="#000" stroke-opacity="0.8" stroke-width="1.25"/>
<circle cx="1708.32" cy="340.96" r="5.0" fill="#80cc80" stroke="#000" stroke-opacity="0.8" stroke-width="1.25"/>
<circle cx="1714.56" cy="340.96" r="5.0" fill="#80cc80" stroke="#000" stroke-opacity="0.8" stroke-width="1.25"/>
<circle cx="1725.8" cy="335.46" r="5.0" fill="#80cc80" stroke="#000" stroke-opacity="0.8" stroke-width="1.25"/>
<circle cx="1732.04" cy="340.96" r="5.0" fill="#80cc80" stroke="#000" stroke-opacity="0.8" stroke-width="1.25"/>
<circle cx="1725.8" cy="345.95" r="5.0" fill="#80cc80" stroke="#000" stroke-opacity="0.8" stroke-width="1.25"/>
<circle cx="1712.06" cy="348.95" r="5.0" fill="#80cc80" stroke="#000" stroke-opacity="0.8" stroke-width="1.25"/>
<circle cx="1694.58" cy="355.19" r="5.0" fill="#80cc80" stroke="#000" stroke-opacity="0.8" stroke-width="1.25"/>
<circle cx="1707.07" cy="358.44" r="5.0" fill="#80cc80" stroke="#000" stroke-opacity="0.8" stroke-width="1.25"/>
<path d="M1600.4 63 V415.9 H1951.8" fill="none" stroke="#000" stroke-width="1.9"/>
<line x1="1594.9" y1="359.5" x2="1600.4" y2="359.5" stroke="#333" stroke-width="1.5"/>
<text x="1589.9" y="365.9" font-size="18" fill="#4d4d4d" stroke="#4d4d4d" stroke-width="0.25" text-anchor="end">−5</text>
<line x1="1594.9" y1="268.2" x2="1600.4" y2="268.2" stroke="#333" stroke-width="1.5"/>
<text x="1589.9" y="274.6" font-size="18" fill="#4d4d4d" stroke="#4d4d4d" stroke-width="0.25" text-anchor="end">0</text>
<line x1="1594.9" y1="176.9" x2="1600.4" y2="176.9" stroke="#333" stroke-width="1.5"/>
<text x="1589.9" y="183.3" font-size="18" fill="#4d4d4d" stroke="#4d4d4d" stroke-width="0.25" text-anchor="end">5</text>
<line x1="1594.9" y1="85.6" x2="1600.4" y2="85.6" stroke="#333" stroke-width="1.5"/>
<text x="1589.9" y="92" font-size="18" fill="#4d4d4d" stroke="#4d4d4d" stroke-width="0.25" text-anchor="end">10</text>
<line x1="1612.8" y1="415.9" x2="1612.8" y2="421.4" stroke="#333" stroke-width="1.5"/>
<text x="1612.8" y="438.5" font-size="18" fill="#4d4d4d" stroke="#4d4d4d" stroke-width="0.25" text-anchor="middle">−10</text>
<line x1="1697.5" y1="415.9" x2="1697.5" y2="421.4" stroke="#333" stroke-width="1.5"/>
<text x="1697.5" y="438.5" font-size="18" fill="#4d4d4d" stroke="#4d4d4d" stroke-width="0.25" text-anchor="middle">−5</text>
<line x1="1782.2" y1="415.9" x2="1782.2" y2="421.4" stroke="#333" stroke-width="1.5"/>
<text x="1782.2" y="438.5" font-size="18" fill="#4d4d4d" stroke="#4d4d4d" stroke-width="0.25" text-anchor="middle">0</text>
<line x1="1866.9" y1="415.9" x2="1866.9" y2="421.4" stroke="#333" stroke-width="1.5"/>
<text x="1866.9" y="438.5" font-size="18" fill="#4d4d4d" stroke="#4d4d4d" stroke-width="0.25" text-anchor="middle">5</text>
<line x1="1951.6" y1="415.9" x2="1951.6" y2="421.4" stroke="#333" stroke-width="1.5"/>
<text x="1951.6" y="438.5" font-size="18" fill="#4d4d4d" stroke="#4d4d4d" stroke-width="0.25" text-anchor="middle">10</text>
<text x="1776.1" y="466.7" font-size="22" text-anchor="middle" fill="#000" stroke="#000" stroke-width="0.2">β<tspan font-size="16" dy="4">choice</tspan><tspan dy="-4" font-size="26">(</tspan><tspan>t</tspan><tspan dx="4.3">−</tspan><tspan dx="3.9">stat</tspan><tspan font-size="26">)</tspan></text>
<text transform="translate(1554.4,239.45) rotate(-90)" x="0" y="0" font-size="22" text-anchor="middle" fill="#000" stroke="#000" stroke-width="0.2">β<tspan font-size="16" dy="4">lottery</tspan><tspan dy="-4" font-size="26">(</tspan><tspan>t</tspan><tspan dx="4.3">−</tspan><tspan dx="3.9">stat</tspan><tspan font-size="26">)</tspan></text>
</g>
<g>
<line x1="549.2" y1="691.2" x2="901" y2="691.2" stroke="#8a8a8a" stroke-width="1.2" stroke-dasharray="7,5"/>
<line x1="753" y1="499.2" x2="753" y2="852.1" stroke="#8a8a8a" stroke-width="1.2" stroke-dasharray="7,5"/>
<circle cx="756.66" cy="721.99" r="5.0" fill="#e9e9e9" stroke="#000" stroke-width="1.25"/>
<circle cx="764" cy="673.55" r="5.0" fill="#e9e9e9" stroke="#000" stroke-width="1.25"/>
<circle cx="773.89" cy="650.63" r="5.0" fill="#e9e9e9" stroke="#000" stroke-width="1.25"/>
<circle cx="773.53" cy="642.96" r="5.0" fill="#e9e9e9" stroke="#000" stroke-width="1.25"/>
<circle cx="746.77" cy="674.05" r="5.0" fill="#e9e9e9" stroke="#000" stroke-width="1.25"/>
<circle cx="749.4" cy="665.71" r="5.0" fill="#e9e9e9" stroke="#000" stroke-width="1.25"/>
<circle cx="773.62" cy="670.18" r="5.0" fill="#e9e9e9" stroke="#000" stroke-width="1.25"/>
<circle cx="764.02" cy="648.68" r="5.0" fill="#e9e9e9" stroke="#000" stroke-width="1.25"/>
<circle cx="758.41" cy="708.82" r="5.0" fill="#e9e9e9" stroke="#000" stroke-width="1.25"/>
<circle cx="763.3" cy="651.89" r="5.0" fill="#e9e9e9" stroke="#000" stroke-width="1.25"/>
<circle cx="766.94" cy="640.88" r="5.0" fill="#e9e9e9" stroke="#000" stroke-width="1.25"/>
<circle cx="758.16" cy="666.8" r="5.0" fill="#e9e9e9" stroke="#000" stroke-width="1.25"/>
<circle cx="742.56" cy="704.08" r="5.0" fill="#e9e9e9" stroke="#000" stroke-width="1.25"/>
<circle cx="736.49" cy="720.76" r="5.0" fill="#e9e9e9" stroke="#000" stroke-width="1.25"/>
<circle cx="768.78" cy="673.19" r="5.0" fill="#e9e9e9" stroke="#000" stroke-width="1.25"/>
<circle cx="741.72" cy="732.33" r="5.0" fill="#e9e9e9" stroke="#000" stroke-width="1.25"/>
<circle cx="755.21" cy="686.74" r="5.0" fill="#e9e9e9" stroke="#000" stroke-width="1.25"/>
<circle cx="748.57" cy="695.31" r="5.0" fill="#e9e9e9" stroke="#000" stroke-width="1.25"/>
<circle cx="772.62" cy="647.35" r="5.0" fill="#e9e9e9" stroke="#000" stroke-width="1.25"/>
<circle cx="749.66" cy="699.48" r="5.0" fill="#e9e9e9" stroke="#000" stroke-width="1.25"/>
<circle cx="747.12" cy="707.02" r="5.0" fill="#e9e9e9" stroke="#000" stroke-width="1.25"/>
<circle cx="758.53" cy="683.7" r="5.0" fill="#e9e9e9" stroke="#000" stroke-width="1.25"/>
<circle cx="759.71" cy="669.96" r="5.0" fill="#e9e9e9" stroke="#000" stroke-width="1.25"/>
<circle cx="753.2" cy="702.45" r="5.0" fill="#e9e9e9" stroke="#000" stroke-width="1.25"/>
<circle cx="741.15" cy="693.9" r="5.0" fill="#e9e9e9" stroke="#000" stroke-width="1.25"/>
<circle cx="763.51" cy="700.54" r="5.0" fill="#e9e9e9" stroke="#000" stroke-width="1.25"/>
<circle cx="754.42" cy="705.77" r="5.0" fill="#e9e9e9" stroke="#000" stroke-width="1.25"/>
<circle cx="748.55" cy="681.67" r="5.0" fill="#e9e9e9" stroke="#000" stroke-width="1.25"/>
<circle cx="744.11" cy="693.89" r="5.0" fill="#e9e9e9" stroke="#000" stroke-width="1.25"/>
<circle cx="768.63" cy="645.71" r="5.0" fill="#e9e9e9" stroke="#000" stroke-width="1.25"/>
<circle cx="753.91" cy="684.45" r="5.0" fill="#e9e9e9" stroke="#000" stroke-width="1.25"/>
<circle cx="748.61" cy="688.44" r="5.0" fill="#e9e9e9" stroke="#000" stroke-width="1.25"/>
<circle cx="755.04" cy="656.62" r="5.0" fill="#e9e9e9" stroke="#000" stroke-width="1.25"/>
<circle cx="741.69" cy="735.67" r="5.0" fill="#e9e9e9" stroke="#000" stroke-width="1.25"/>
<circle cx="740.91" cy="718.87" r="5.0" fill="#e9e9e9" stroke="#000" stroke-width="1.25"/>
<circle cx="759.84" cy="695.84" r="5.0" fill="#e9e9e9" stroke="#000" stroke-width="1.25"/>
<circle cx="761.54" cy="705.22" r="5.0" fill="#e9e9e9" stroke="#000" stroke-width="1.25"/>
<circle cx="753.96" cy="717.75" r="5.0" fill="#e9e9e9" stroke="#000" stroke-width="1.25"/>
<circle cx="774.59" cy="653.36" r="5.0" fill="#e9e9e9" stroke="#000" stroke-width="1.25"/>
<circle cx="759.93" cy="712.96" r="5.0" fill="#e9e9e9" stroke="#000" stroke-width="1.25"/>
<circle cx="762.51" cy="692.76" r="5.0" fill="#e9e9e9" stroke="#000" stroke-width="1.25"/>
<circle cx="744.71" cy="701.27" r="5.0" fill="#e9e9e9" stroke="#000" stroke-width="1.25"/>
<circle cx="745.55" cy="734.6" r="5.0" fill="#e9e9e9" stroke="#000" stroke-width="1.25"/>
<circle cx="747.26" cy="717.25" r="5.0" fill="#e9e9e9" stroke="#000" stroke-width="1.25"/>
<circle cx="745.39" cy="697.32" r="5.0" fill="#e9e9e9" stroke="#000" stroke-width="1.25"/>
<circle cx="762.71" cy="665.97" r="5.0" fill="#e9e9e9" stroke="#000" stroke-width="1.25"/>
<circle cx="755.55" cy="714.67" r="5.0" fill="#e9e9e9" stroke="#000" stroke-width="1.25"/>
<circle cx="770.79" cy="680.67" r="5.0" fill="#e9e9e9" stroke="#000" stroke-width="1.25"/>
<circle cx="767.77" cy="692.46" r="5.0" fill="#e9e9e9" stroke="#000" stroke-width="1.25"/>
<circle cx="766.18" cy="686.83" r="5.0" fill="#e9e9e9" stroke="#000" stroke-width="1.25"/>
<circle cx="741.19" cy="700.46" r="5.0" fill="#e9e9e9" stroke="#000" stroke-width="1.25"/>
<circle cx="738.05" cy="717.61" r="5.0" fill="#e9e9e9" stroke="#000" stroke-width="1.25"/>
<circle cx="764.26" cy="688.62" r="5.0" fill="#e9e9e9" stroke="#000" stroke-width="1.25"/>
<circle cx="752.6" cy="665.39" r="5.0" fill="#e9e9e9" stroke="#000" stroke-width="1.25"/>
<circle cx="766.05" cy="662.21" r="5.0" fill="#e9e9e9" stroke="#000" stroke-width="1.25"/>
<circle cx="759.16" cy="701.56" r="5.0" fill="#e9e9e9" stroke="#000" stroke-width="1.25"/>
<circle cx="743.37" cy="682.11" r="5.0" fill="#e9e9e9" stroke="#000" stroke-width="1.25"/>
<circle cx="744" cy="721.76" r="5.0" fill="#e9e9e9" stroke="#000" stroke-width="1.25"/>
<circle cx="752.55" cy="673.41" r="5.0" fill="#e9e9e9" stroke="#000" stroke-width="1.25"/>
<circle cx="738.03" cy="700.62" r="5.0" fill="#e9e9e9" stroke="#000" stroke-width="1.25"/>
<circle cx="871.85" cy="634.85" r="5.0" fill="#4cafd4" stroke="#000" stroke-opacity="0.8" stroke-width="1.25"/>
<circle cx="778.95" cy="634.85" r="5.0" fill="#4cafd4" stroke="#000" stroke-opacity="0.8" stroke-width="1.25"/>
<circle cx="776.95" cy="644.84" r="5.0" fill="#4cafd4" stroke="#000" stroke-opacity="0.8" stroke-width="1.25"/>
<circle cx="775.7" cy="654.83" r="5.0" fill="#4cafd4" stroke="#000" stroke-opacity="0.8" stroke-width="1.25"/>
<circle cx="778.2" cy="652.33" r="5.0" fill="#4cafd4" stroke="#000" stroke-opacity="0.8" stroke-width="1.25"/>
<circle cx="781.44" cy="661.07" r="5.0" fill="#4cafd4" stroke="#000" stroke-opacity="0.8" stroke-width="1.25"/>
<circle cx="805.67" cy="644.09" r="5.0" fill="#4cafd4" stroke="#000" stroke-opacity="0.8" stroke-width="1.25"/>
<circle cx="829.4" cy="644.09" r="5.0" fill="#4cafd4" stroke="#000" stroke-opacity="0.8" stroke-width="1.25"/>
<circle cx="831.89" cy="647.83" r="5.0" fill="#4cafd4" stroke="#000" stroke-opacity="0.8" stroke-width="1.25"/>
<circle cx="836.89" cy="644.09" r="5.0" fill="#4cafd4" stroke="#000" stroke-opacity="0.8" stroke-width="1.25"/>
<circle cx="828.15" cy="664.07" r="5.0" fill="#4cafd4" stroke="#000" stroke-opacity="0.8" stroke-width="1.25"/>
<circle cx="845.63" cy="661.82" r="5.0" fill="#4cafd4" stroke="#000" stroke-opacity="0.8" stroke-width="1.25"/>
<circle cx="852.62" cy="656.07" r="5.0" fill="#4cafd4" stroke="#000" stroke-opacity="0.8" stroke-width="1.25"/>
<circle cx="857.62" cy="662.32" r="5.0" fill="#4cafd4" stroke="#000" stroke-opacity="0.8" stroke-width="1.25"/>
<circle cx="862.61" cy="667.81" r="5.0" fill="#4cafd4" stroke="#000" stroke-opacity="0.8" stroke-width="1.25"/>
<circle cx="863.61" cy="678.55" r="5.0" fill="#4cafd4" stroke="#000" stroke-opacity="0.8" stroke-width="1.25"/>
<circle cx="805.17" cy="662.82" r="5.0" fill="#4cafd4" stroke="#000" stroke-opacity="0.8" stroke-width="1.25"/>
<circle cx="808.17" cy="664.82" r="5.0" fill="#4cafd4" stroke="#000" stroke-opacity="0.8" stroke-width="1.25"/>
<circle cx="796.18" cy="672.81" r="5.0" fill="#4cafd4" stroke="#000" stroke-opacity="0.8" stroke-width="1.25"/>
<circle cx="803.17" cy="672.81" r="5.0" fill="#4cafd4" stroke="#000" stroke-opacity="0.8" stroke-width="1.25"/>
<circle cx="798.68" cy="682.8" r="5.0" fill="#4cafd4" stroke="#000" stroke-opacity="0.8" stroke-width="1.25"/>
<circle cx="800.18" cy="689.29" r="5.0" fill="#4cafd4" stroke="#000" stroke-opacity="0.8" stroke-width="1.25"/>
<circle cx="803.17" cy="693.54" r="5.0" fill="#4cafd4" stroke="#000" stroke-opacity="0.8" stroke-width="1.25"/>
<circle cx="801.42" cy="700.28" r="5.0" fill="#4cafd4" stroke="#000" stroke-opacity="0.8" stroke-width="1.25"/>
<circle cx="818.16" cy="684.8" r="5.0" fill="#4cafd4" stroke="#000" stroke-opacity="0.8" stroke-width="1.25"/>
<circle cx="821.15" cy="677.3" r="5.0" fill="#4cafd4" stroke="#000" stroke-opacity="0.8" stroke-width="1.25"/>
<circle cx="829.4" cy="684.8" r="5.0" fill="#4cafd4" stroke="#000" stroke-opacity="0.8" stroke-width="1.25"/>
<circle cx="853.12" cy="683.55" r="5.0" fill="#4cafd4" stroke="#000" stroke-opacity="0.8" stroke-width="1.25"/>
<circle cx="884.34" cy="699.78" r="5.0" fill="#4cafd4" stroke="#000" stroke-opacity="0.8" stroke-width="1.25"/>
<circle cx="789.44" cy="694.29" r="5.0" fill="#4cafd4" stroke="#000" stroke-opacity="0.8" stroke-width="1.25"/>
<circle cx="788.19" cy="701.03" r="5.0" fill="#4cafd4" stroke="#000" stroke-opacity="0.8" stroke-width="1.25"/>
<circle cx="810.67" cy="704.78" r="5.0" fill="#4cafd4" stroke="#000" stroke-opacity="0.8" stroke-width="1.25"/>
<circle cx="820.66" cy="699.78" r="5.0" fill="#4cafd4" stroke="#000" stroke-opacity="0.8" stroke-width="1.25"/>
<circle cx="822.65" cy="704.78" r="5.0" fill="#4cafd4" stroke="#000" stroke-opacity="0.8" stroke-width="1.25"/>
<circle cx="828.65" cy="706.02" r="5.0" fill="#4cafd4" stroke="#000" stroke-opacity="0.8" stroke-width="1.25"/>
<circle cx="831.89" cy="712.27" r="5.0" fill="#4cafd4" stroke="#000" stroke-opacity="0.8" stroke-width="1.25"/>
<circle cx="785.69" cy="709.77" r="5.0" fill="#4cafd4" stroke="#000" stroke-opacity="0.8" stroke-width="1.25"/>
<circle cx="791.43" cy="714.02" r="5.0" fill="#4cafd4" stroke="#000" stroke-opacity="0.8" stroke-width="1.25"/>
<circle cx="783.19" cy="720.26" r="5.0" fill="#4cafd4" stroke="#000" stroke-opacity="0.8" stroke-width="1.25"/>
<circle cx="778.7" cy="729.25" r="5.0" fill="#4cafd4" stroke="#000" stroke-opacity="0.8" stroke-width="1.25"/>
<circle cx="785.19" cy="734.25" r="5.0" fill="#4cafd4" stroke="#000" stroke-opacity="0.8" stroke-width="1.25"/>
<circle cx="772.7" cy="742.24" r="5.0" fill="#4cafd4" stroke="#000" stroke-opacity="0.8" stroke-width="1.25"/>
<circle cx="564.16" cy="710.27" r="5.0" fill="#4cafd4" stroke="#000" stroke-opacity="0.8" stroke-width="1.25"/>
<circle cx="605.12" cy="724.26" r="5.0" fill="#4cafd4" stroke="#000" stroke-opacity="0.8" stroke-width="1.25"/>
<circle cx="610.87" cy="733.5" r="5.0" fill="#4cafd4" stroke="#000" stroke-opacity="0.8" stroke-width="1.25"/>
<circle cx="633.34" cy="739.24" r="5.0" fill="#4cafd4" stroke="#000" stroke-opacity="0.8" stroke-width="1.25"/>
<circle cx="663.81" cy="729" r="5.0" fill="#4cafd4" stroke="#000" stroke-opacity="0.8" stroke-width="1.25"/>
<circle cx="674.55" cy="699.78" r="5.0" fill="#4cafd4" stroke="#000" stroke-opacity="0.8" stroke-width="1.25"/>
<circle cx="693.28" cy="718.01" r="5.0" fill="#4cafd4" stroke="#000" stroke-opacity="0.8" stroke-width="1.25"/>
<circle cx="718.26" cy="721.01" r="5.0" fill="#4cafd4" stroke="#000" stroke-opacity="0.8" stroke-width="1.25"/>
<circle cx="731.24" cy="709.77" r="5.0" fill="#4cafd4" stroke="#000" stroke-opacity="0.8" stroke-width="1.25"/>
<circle cx="728.25" cy="714.77" r="5.0" fill="#4cafd4" stroke="#000" stroke-opacity="0.8" stroke-width="1.25"/>
<circle cx="729" cy="729.25" r="5.0" fill="#4cafd4" stroke="#000" stroke-opacity="0.8" stroke-width="1.25"/>
<circle cx="719.51" cy="742.24" r="5.0" fill="#4cafd4" stroke="#000" stroke-opacity="0.8" stroke-width="1.25"/>
<circle cx="730.75" cy="742.24" r="5.0" fill="#4cafd4" stroke="#000" stroke-opacity="0.8" stroke-width="1.25"/>
<circle cx="764.46" cy="604.88" r="5.0" fill="#ee8a75" stroke="#000" stroke-opacity="0.8" stroke-width="1.25"/>
<circle cx="763.71" cy="616.11" r="5.0" fill="#ee8a75" stroke="#000" stroke-opacity="0.8" stroke-width="1.25"/>
<circle cx="770.21" cy="625.35" r="5.0" fill="#ee8a75" stroke="#000" stroke-opacity="0.8" stroke-width="1.25"/>
<circle cx="771.95" cy="631.1" r="5.0" fill="#ee8a75" stroke="#000" stroke-opacity="0.8" stroke-width="1.25"/>
<circle cx="736.99" cy="785.44" r="5.0" fill="#ee8a75" stroke="#000" stroke-opacity="0.8" stroke-width="1.25"/>
<circle cx="798.93" cy="514.97" r="5.0" fill="#80cc80" stroke="#000" stroke-opacity="0.8" stroke-width="1.25"/>
<circle cx="803.92" cy="528.2" r="5.0" fill="#80cc80" stroke="#000" stroke-opacity="0.8" stroke-width="1.25"/>
<circle cx="788.94" cy="563.67" r="5.0" fill="#80cc80" stroke="#000" stroke-opacity="0.8" stroke-width="1.25"/>
<circle cx="794.43" cy="562.42" r="5.0" fill="#80cc80" stroke="#000" stroke-opacity="0.8" stroke-width="1.25"/>
<circle cx="800.68" cy="565.41" r="5.0" fill="#80cc80" stroke="#000" stroke-opacity="0.8" stroke-width="1.25"/>
<circle cx="790.19" cy="571.16" r="5.0" fill="#80cc80" stroke="#000" stroke-opacity="0.8" stroke-width="1.25"/>
<circle cx="834.39" cy="574.41" r="5.0" fill="#80cc80" stroke="#000" stroke-opacity="0.8" stroke-width="1.25"/>
<circle cx="843.13" cy="593.14" r="5.0" fill="#80cc80" stroke="#000" stroke-opacity="0.8" stroke-width="1.25"/>
<circle cx="782.69" cy="592.89" r="5.0" fill="#80cc80" stroke="#000" stroke-opacity="0.8" stroke-width="1.25"/>
<circle cx="788.19" cy="593.64" r="5.0" fill="#80cc80" stroke="#000" stroke-opacity="0.8" stroke-width="1.25"/>
<circle cx="792.68" cy="596.13" r="5.0" fill="#80cc80" stroke="#000" stroke-opacity="0.8" stroke-width="1.25"/>
<circle cx="795.68" cy="599.88" r="5.0" fill="#80cc80" stroke="#000" stroke-opacity="0.8" stroke-width="1.25"/>
<circle cx="796.93" cy="604.88" r="5.0" fill="#80cc80" stroke="#000" stroke-opacity="0.8" stroke-width="1.25"/>
<circle cx="790.69" cy="608.62" r="5.0" fill="#80cc80" stroke="#000" stroke-opacity="0.8" stroke-width="1.25"/>
<circle cx="774.45" cy="609.87" r="5.0" fill="#80cc80" stroke="#000" stroke-opacity="0.8" stroke-width="1.25"/>
<circle cx="780.7" cy="609.87" r="5.0" fill="#80cc80" stroke="#000" stroke-opacity="0.8" stroke-width="1.25"/>
<circle cx="779.45" cy="616.11" r="5.0" fill="#80cc80" stroke="#000" stroke-opacity="0.8" stroke-width="1.25"/>
<circle cx="785.69" cy="616.11" r="5.0" fill="#80cc80" stroke="#000" stroke-opacity="0.8" stroke-width="1.25"/>
<circle cx="790.69" cy="622.86" r="5.0" fill="#80cc80" stroke="#000" stroke-opacity="0.8" stroke-width="1.25"/>
<circle cx="786.94" cy="631.1" r="5.0" fill="#80cc80" stroke="#000" stroke-opacity="0.8" stroke-width="1.25"/>
<circle cx="800.68" cy="627.85" r="5.0" fill="#80cc80" stroke="#000" stroke-opacity="0.8" stroke-width="1.25"/>
<circle cx="813.16" cy="614.87" r="5.0" fill="#80cc80" stroke="#000" stroke-opacity="0.8" stroke-width="1.25"/>
<circle cx="849.38" cy="631.6" r="5.0" fill="#80cc80" stroke="#000" stroke-opacity="0.8" stroke-width="1.25"/>
<circle cx="773.2" cy="632.85" r="5.0" fill="#80cc80" stroke="#000" stroke-opacity="0.8" stroke-width="1.25"/>
<circle cx="776.95" cy="629.85" r="5.0" fill="#80cc80" stroke="#000" stroke-opacity="0.8" stroke-width="1.25"/>
<circle cx="789.44" cy="747.98" r="5.0" fill="#80cc80" stroke="#000" stroke-opacity="0.8" stroke-width="1.25"/>
<circle cx="660.32" cy="750.48" r="5.0" fill="#80cc80" stroke="#000" stroke-opacity="0.8" stroke-width="1.25"/>
<circle cx="645.33" cy="783.95" r="5.0" fill="#80cc80" stroke="#000" stroke-opacity="0.8" stroke-width="1.25"/>
<circle cx="719.51" cy="749.73" r="5.0" fill="#80cc80" stroke="#000" stroke-opacity="0.8" stroke-width="1.25"/>
<circle cx="727" cy="750.48" r="5.0" fill="#80cc80" stroke="#000" stroke-opacity="0.8" stroke-width="1.25"/>
<circle cx="723.25" cy="754.73" r="5.0" fill="#80cc80" stroke="#000" stroke-opacity="0.8" stroke-width="1.25"/>
<circle cx="730.75" cy="748.48" r="5.0" fill="#80cc80" stroke="#000" stroke-opacity="0.8" stroke-width="1.25"/>
<circle cx="715.76" cy="757.22" r="5.0" fill="#80cc80" stroke="#000" stroke-opacity="0.8" stroke-width="1.25"/>
<circle cx="728.25" cy="757.22" r="5.0" fill="#80cc80" stroke="#000" stroke-opacity="0.8" stroke-width="1.25"/>
<circle cx="723.25" cy="759.72" r="5.0" fill="#80cc80" stroke="#000" stroke-opacity="0.8" stroke-width="1.25"/>
<circle cx="730.75" cy="765.96" r="5.0" fill="#80cc80" stroke="#000" stroke-opacity="0.8" stroke-width="1.25"/>
<circle cx="710.77" cy="769.71" r="5.0" fill="#80cc80" stroke="#000" stroke-opacity="0.8" stroke-width="1.25"/>
<circle cx="715.76" cy="770.21" r="5.0" fill="#80cc80" stroke="#000" stroke-opacity="0.8" stroke-width="1.25"/>
<circle cx="723.25" cy="770.96" r="5.0" fill="#80cc80" stroke="#000" stroke-opacity="0.8" stroke-width="1.25"/>
<circle cx="712.01" cy="773.46" r="5.0" fill="#80cc80" stroke="#000" stroke-opacity="0.8" stroke-width="1.25"/>
<circle cx="730.75" cy="784.7" r="5.0" fill="#80cc80" stroke="#000" stroke-opacity="0.8" stroke-width="1.25"/>
<circle cx="710.77" cy="788.94" r="5.0" fill="#80cc80" stroke="#000" stroke-opacity="0.8" stroke-width="1.25"/>
<circle cx="713.26" cy="790.94" r="5.0" fill="#80cc80" stroke="#000" stroke-opacity="0.8" stroke-width="1.25"/>
<circle cx="714.51" cy="793.44" r="5.0" fill="#80cc80" stroke="#000" stroke-opacity="0.8" stroke-width="1.25"/>
<circle cx="714.51" cy="809.67" r="5.0" fill="#80cc80" stroke="#000" stroke-opacity="0.8" stroke-width="1.25"/>
<circle cx="704.52" cy="825.4" r="5.0" fill="#80cc80" stroke="#000" stroke-opacity="0.8" stroke-width="1.25"/>
<circle cx="696.28" cy="835.89" r="5.0" fill="#80cc80" stroke="#000" stroke-opacity="0.8" stroke-width="1.25"/>
<path d="M549.2 499.2 V852.1 H901" fill="none" stroke="#000" stroke-width="1.9"/>
<line x1="543.7" y1="776.91" x2="549.2" y2="776.91" stroke="#333" stroke-width="1.5"/>
<text x="538.7" y="783.31" font-size="18" fill="#4d4d4d" stroke="#4d4d4d" stroke-width="0.25" text-anchor="end">−3</text>
<line x1="543.7" y1="691.2" x2="549.2" y2="691.2" stroke="#333" stroke-width="1.5"/>
<text x="538.7" y="697.6" font-size="18" fill="#4d4d4d" stroke="#4d4d4d" stroke-width="0.25" text-anchor="end">0</text>
<line x1="543.7" y1="605.49" x2="549.2" y2="605.49" stroke="#333" stroke-width="1.5"/>
<text x="538.7" y="611.89" font-size="18" fill="#4d4d4d" stroke="#4d4d4d" stroke-width="0.25" text-anchor="end">3</text>
<line x1="543.7" y1="519.78" x2="549.2" y2="519.78" stroke="#333" stroke-width="1.5"/>
<text x="538.7" y="526.18" font-size="18" fill="#4d4d4d" stroke="#4d4d4d" stroke-width="0.25" text-anchor="end">6</text>
<line x1="650.4" y1="852.1" x2="650.4" y2="857.6" stroke="#333" stroke-width="1.5"/>
<text x="650.4" y="874.7" font-size="18" fill="#4d4d4d" stroke="#4d4d4d" stroke-width="0.25" text-anchor="middle">−10</text>
<line x1="753" y1="852.1" x2="753" y2="857.6" stroke="#333" stroke-width="1.5"/>
<text x="753" y="874.7" font-size="18" fill="#4d4d4d" stroke="#4d4d4d" stroke-width="0.25" text-anchor="middle">0</text>
<line x1="855.6" y1="852.1" x2="855.6" y2="857.6" stroke="#333" stroke-width="1.5"/>
<text x="855.6" y="874.7" font-size="18" fill="#4d4d4d" stroke="#4d4d4d" stroke-width="0.25" text-anchor="middle">10</text>
<text x="725.1" y="902.9" font-size="22" text-anchor="middle" fill="#000" stroke="#000" stroke-width="0.2">β<tspan font-size="16" dy="4">choice</tspan><tspan dy="-4" font-size="26">(</tspan><tspan>t</tspan><tspan dx="4.3">−</tspan><tspan dx="3.9">stat</tspan><tspan font-size="26">)</tspan></text>
<text transform="translate(503.2,675.65) rotate(-90)" x="0" y="0" font-size="22" text-anchor="middle" fill="#000" stroke="#000" stroke-width="0.2">β<tspan font-size="16" dy="4">lottery</tspan><tspan dy="-4" font-size="26">(</tspan><tspan>t</tspan><tspan dx="4.3">−</tspan><tspan dx="3.9">stat</tspan><tspan font-size="26">)</tspan></text>
</g>
<g>
<line x1="1600.4" y1="731.8" x2="1951.8" y2="731.8" stroke="#8a8a8a" stroke-width="1.2" stroke-dasharray="7,5"/>
<line x1="1770.8" y1="499.2" x2="1770.8" y2="852.1" stroke="#8a8a8a" stroke-width="1.2" stroke-dasharray="7,5"/>
<circle cx="1754.37" cy="704.82" r="5.0" fill="#e9e9e9" stroke="#000" stroke-width="1.25"/>
<circle cx="1753.58" cy="765.72" r="5.0" fill="#e9e9e9" stroke="#000" stroke-width="1.25"/>
<circle cx="1746.56" cy="776.54" r="5.0" fill="#e9e9e9" stroke="#000" stroke-width="1.25"/>
<circle cx="1750.68" cy="770.25" r="5.0" fill="#e9e9e9" stroke="#000" stroke-width="1.25"/>
<circle cx="1758.83" cy="704.18" r="5.0" fill="#e9e9e9" stroke="#000" stroke-width="1.25"/>
<circle cx="1747.43" cy="735.51" r="5.0" fill="#e9e9e9" stroke="#000" stroke-width="1.25"/>
<circle cx="1743.67" cy="725.96" r="5.0" fill="#e9e9e9" stroke="#000" stroke-width="1.25"/>
<circle cx="1777.5" cy="705.74" r="5.0" fill="#e9e9e9" stroke="#000" stroke-width="1.25"/>
<circle cx="1739.69" cy="750.26" r="5.0" fill="#e9e9e9" stroke="#000" stroke-width="1.25"/>
<circle cx="1795.97" cy="696.73" r="5.0" fill="#e9e9e9" stroke="#000" stroke-width="1.25"/>
<circle cx="1777.13" cy="754.24" r="5.0" fill="#e9e9e9" stroke="#000" stroke-width="1.25"/>
<circle cx="1777.94" cy="729.03" r="5.0" fill="#e9e9e9" stroke="#000" stroke-width="1.25"/>
<circle cx="1743.25" cy="749.52" r="5.0" fill="#e9e9e9" stroke="#000" stroke-width="1.25"/>
<circle cx="1755.74" cy="710.62" r="5.0" fill="#e9e9e9" stroke="#000" stroke-width="1.25"/>
<circle cx="1790.09" cy="693.76" r="5.0" fill="#e9e9e9" stroke="#000" stroke-width="1.25"/>
<circle cx="1750.13" cy="700.49" r="5.0" fill="#e9e9e9" stroke="#000" stroke-width="1.25"/>
<circle cx="1761.63" cy="778.98" r="5.0" fill="#e9e9e9" stroke="#000" stroke-width="1.25"/>
<circle cx="1782.92" cy="775.59" r="5.0" fill="#e9e9e9" stroke="#000" stroke-width="1.25"/>
<circle cx="1759.36" cy="733.12" r="5.0" fill="#e9e9e9" stroke="#000" stroke-width="1.25"/>
<circle cx="1773" cy="701.9" r="5.0" fill="#e9e9e9" stroke="#000" stroke-width="1.25"/>
<circle cx="1756.83" cy="760.58" r="5.0" fill="#e9e9e9" stroke="#000" stroke-width="1.25"/>
<circle cx="1778.71" cy="716.61" r="5.0" fill="#e9e9e9" stroke="#000" stroke-width="1.25"/>
<circle cx="1780.95" cy="699.8" r="5.0" fill="#e9e9e9" stroke="#000" stroke-width="1.25"/>
<circle cx="1749.93" cy="732.71" r="5.0" fill="#e9e9e9" stroke="#000" stroke-width="1.25"/>
<circle cx="1782.44" cy="764.17" r="5.0" fill="#e9e9e9" stroke="#000" stroke-width="1.25"/>
<circle cx="1774.73" cy="724.66" r="5.0" fill="#e9e9e9" stroke="#000" stroke-width="1.25"/>
<circle cx="1792.17" cy="751.65" r="5.0" fill="#e9e9e9" stroke="#000" stroke-width="1.25"/>
<circle cx="1779.22" cy="740" r="5.0" fill="#e9e9e9" stroke="#000" stroke-width="1.25"/>
<circle cx="1753.39" cy="735.7" r="5.0" fill="#e9e9e9" stroke="#000" stroke-width="1.25"/>
<circle cx="1765.92" cy="727.3" r="5.0" fill="#e9e9e9" stroke="#000" stroke-width="1.25"/>
<circle cx="1773.61" cy="743.88" r="5.0" fill="#e9e9e9" stroke="#000" stroke-width="1.25"/>
<circle cx="1775.13" cy="766.38" r="5.0" fill="#e9e9e9" stroke="#000" stroke-width="1.25"/>
<circle cx="1774.71" cy="757.7" r="5.0" fill="#e9e9e9" stroke="#000" stroke-width="1.25"/>
<circle cx="1762.24" cy="759.22" r="5.0" fill="#e9e9e9" stroke="#000" stroke-width="1.25"/>
<circle cx="1777.98" cy="711.37" r="5.0" fill="#e9e9e9" stroke="#000" stroke-width="1.25"/>
<circle cx="1749.03" cy="713.26" r="5.0" fill="#e9e9e9" stroke="#000" stroke-width="1.25"/>
<circle cx="1771.56" cy="760.25" r="5.0" fill="#e9e9e9" stroke="#000" stroke-width="1.25"/>
<circle cx="1785.1" cy="704.6" r="5.0" fill="#e9e9e9" stroke="#000" stroke-width="1.25"/>
<circle cx="1779.83" cy="708.25" r="5.0" fill="#e9e9e9" stroke="#000" stroke-width="1.25"/>
<circle cx="1761.96" cy="787.78" r="5.0" fill="#e9e9e9" stroke="#000" stroke-width="1.25"/>
<circle cx="1774.76" cy="692.79" r="5.0" fill="#e9e9e9" stroke="#000" stroke-width="1.25"/>
<circle cx="1793.93" cy="689.77" r="5.0" fill="#e9e9e9" stroke="#000" stroke-width="1.25"/>
<circle cx="1786.93" cy="741.97" r="5.0" fill="#e9e9e9" stroke="#000" stroke-width="1.25"/>
<circle cx="1759.18" cy="723.99" r="5.0" fill="#e9e9e9" stroke="#000" stroke-width="1.25"/>
<circle cx="1798.05" cy="702.93" r="5.0" fill="#e9e9e9" stroke="#000" stroke-width="1.25"/>
<circle cx="1783.63" cy="772.35" r="5.0" fill="#e9e9e9" stroke="#000" stroke-width="1.25"/>
<circle cx="1793.65" cy="736.28" r="5.0" fill="#e9e9e9" stroke="#000" stroke-width="1.25"/>
<circle cx="1775.72" cy="698.44" r="5.0" fill="#e9e9e9" stroke="#000" stroke-width="1.25"/>
<circle cx="1787.63" cy="711.66" r="5.0" fill="#e9e9e9" stroke="#000" stroke-width="1.25"/>
<circle cx="1775.26" cy="715.37" r="5.0" fill="#e9e9e9" stroke="#000" stroke-width="1.25"/>
<circle cx="1785.27" cy="696.09" r="5.0" fill="#e9e9e9" stroke="#000" stroke-width="1.25"/>
<circle cx="1743.95" cy="753.66" r="5.0" fill="#e9e9e9" stroke="#000" stroke-width="1.25"/>
<circle cx="1775.46" cy="763.09" r="5.0" fill="#e9e9e9" stroke="#000" stroke-width="1.25"/>
<circle cx="1768.3" cy="703.12" r="5.0" fill="#e9e9e9" stroke="#000" stroke-width="1.25"/>
<circle cx="1789.85" cy="763.12" r="5.0" fill="#e9e9e9" stroke="#000" stroke-width="1.25"/>
<circle cx="1751.46" cy="748.07" r="5.0" fill="#e9e9e9" stroke="#000" stroke-width="1.25"/>
<circle cx="1792.98" cy="714.36" r="5.0" fill="#e9e9e9" stroke="#000" stroke-width="1.25"/>
<circle cx="1762.59" cy="693.93" r="5.0" fill="#e9e9e9" stroke="#000" stroke-width="1.25"/>
<circle cx="1779.17" cy="766.43" r="5.0" fill="#e9e9e9" stroke="#000" stroke-width="1.25"/>
<circle cx="1755.38" cy="752.71" r="5.0" fill="#e9e9e9" stroke="#000" stroke-width="1.25"/>
<circle cx="1789.45" cy="706.76" r="5.0" fill="#e9e9e9" stroke="#000" stroke-width="1.25"/>
<circle cx="1781.07" cy="754.68" r="5.0" fill="#e9e9e9" stroke="#000" stroke-width="1.25"/>
<circle cx="1775.52" cy="681.07" r="5.0" fill="#e9e9e9" stroke="#000" stroke-width="1.25"/>
<circle cx="1768.24" cy="716.66" r="5.0" fill="#e9e9e9" stroke="#000" stroke-width="1.25"/>
<circle cx="1785.94" cy="684.51" r="5.0" fill="#e9e9e9" stroke="#000" stroke-width="1.25"/>
<circle cx="1745.88" cy="760.31" r="5.0" fill="#e9e9e9" stroke="#000" stroke-width="1.25"/>
<circle cx="1789.82" cy="755.79" r="5.0" fill="#e9e9e9" stroke="#000" stroke-width="1.25"/>
<circle cx="1744.09" cy="734.59" r="5.0" fill="#e9e9e9" stroke="#000" stroke-width="1.25"/>
<circle cx="1769.56" cy="749.32" r="5.0" fill="#e9e9e9" stroke="#000" stroke-width="1.25"/>
<circle cx="1785.77" cy="727.79" r="5.0" fill="#e9e9e9" stroke="#000" stroke-width="1.25"/>
<circle cx="1749.27" cy="752.25" r="5.0" fill="#e9e9e9" stroke="#000" stroke-width="1.25"/>
<circle cx="1771.43" cy="693.74" r="5.0" fill="#e9e9e9" stroke="#000" stroke-width="1.25"/>
<circle cx="1784.04" cy="751.61" r="5.0" fill="#e9e9e9" stroke="#000" stroke-width="1.25"/>
<circle cx="1762.95" cy="707.36" r="5.0" fill="#e9e9e9" stroke="#000" stroke-width="1.25"/>
<circle cx="1784.22" cy="768.82" r="5.0" fill="#e9e9e9" stroke="#000" stroke-width="1.25"/>
<circle cx="1776.3" cy="688.29" r="5.0" fill="#e9e9e9" stroke="#000" stroke-width="1.25"/>
<circle cx="1759.89" cy="717.74" r="5.0" fill="#e9e9e9" stroke="#000" stroke-width="1.25"/>
<circle cx="1761.47" cy="771.5" r="5.0" fill="#e9e9e9" stroke="#000" stroke-width="1.25"/>
<circle cx="1742.91" cy="767.4" r="5.0" fill="#e9e9e9" stroke="#000" stroke-width="1.25"/>
<circle cx="1755.97" cy="772.26" r="5.0" fill="#e9e9e9" stroke="#000" stroke-width="1.25"/>
<circle cx="1797.48" cy="739.36" r="5.0" fill="#e9e9e9" stroke="#000" stroke-width="1.25"/>
<circle cx="1770.5" cy="731.6" r="5.0" fill="#e9e9e9" stroke="#000" stroke-width="1.25"/>
<circle cx="1779.55" cy="680.12" r="5.0" fill="#e9e9e9" stroke="#000" stroke-width="1.25"/>
<circle cx="1764.66" cy="683.4" r="5.0" fill="#e9e9e9" stroke="#000" stroke-width="1.25"/>
<circle cx="1753.5" cy="777.3" r="5.0" fill="#e9e9e9" stroke="#000" stroke-width="1.25"/>
<circle cx="1757.08" cy="768.09" r="5.0" fill="#e9e9e9" stroke="#000" stroke-width="1.25"/>
<circle cx="1740.84" cy="736.76" r="5.0" fill="#e9e9e9" stroke="#000" stroke-width="1.25"/>
<circle cx="1765.98" cy="760.78" r="5.0" fill="#e9e9e9" stroke="#000" stroke-width="1.25"/>
<circle cx="1781.33" cy="729.94" r="5.0" fill="#e9e9e9" stroke="#000" stroke-width="1.25"/>
<circle cx="1787.44" cy="715.96" r="5.0" fill="#e9e9e9" stroke="#000" stroke-width="1.25"/>
<circle cx="1770.41" cy="725.9" r="5.0" fill="#e9e9e9" stroke="#000" stroke-width="1.25"/>
<circle cx="1751.88" cy="696.6" r="5.0" fill="#e9e9e9" stroke="#000" stroke-width="1.25"/>
<circle cx="1789.78" cy="727.17" r="5.0" fill="#e9e9e9" stroke="#000" stroke-width="1.25"/>
<circle cx="1746.2" cy="743.75" r="5.0" fill="#e9e9e9" stroke="#000" stroke-width="1.25"/>
<circle cx="1792.12" cy="704.09" r="5.0" fill="#e9e9e9" stroke="#000" stroke-width="1.25"/>
<circle cx="1767.97" cy="739.98" r="5.0" fill="#e9e9e9" stroke="#000" stroke-width="1.25"/>
<circle cx="1772.69" cy="707.22" r="5.0" fill="#e9e9e9" stroke="#000" stroke-width="1.25"/>
<circle cx="1752.32" cy="755.91" r="5.0" fill="#e9e9e9" stroke="#000" stroke-width="1.25"/>
<circle cx="1761.29" cy="767.98" r="5.0" fill="#e9e9e9" stroke="#000" stroke-width="1.25"/>
<circle cx="1786" cy="760.15" r="5.0" fill="#e9e9e9" stroke="#000" stroke-width="1.25"/>
<circle cx="1761.08" cy="690.2" r="5.0" fill="#e9e9e9" stroke="#000" stroke-width="1.25"/>
<circle cx="1771.92" cy="719.61" r="5.0" fill="#e9e9e9" stroke="#000" stroke-width="1.25"/>
<circle cx="1745.52" cy="714.25" r="5.0" fill="#e9e9e9" stroke="#000" stroke-width="1.25"/>
<circle cx="1783.9" cy="678.38" r="5.0" fill="#e9e9e9" stroke="#000" stroke-width="1.25"/>
<circle cx="1748.16" cy="726.19" r="5.0" fill="#e9e9e9" stroke="#000" stroke-width="1.25"/>
<circle cx="1786.77" cy="748.55" r="5.0" fill="#e9e9e9" stroke="#000" stroke-width="1.25"/>
<circle cx="1773.95" cy="774.95" r="5.0" fill="#e9e9e9" stroke="#000" stroke-width="1.25"/>
<circle cx="1798.92" cy="722.2" r="5.0" fill="#e9e9e9" stroke="#000" stroke-width="1.25"/>
<circle cx="1747.89" cy="717.41" r="5.0" fill="#e9e9e9" stroke="#000" stroke-width="1.25"/>
<circle cx="1765.77" cy="722.69" r="5.0" fill="#e9e9e9" stroke="#000" stroke-width="1.25"/>
<circle cx="1770.11" cy="777.25" r="5.0" fill="#e9e9e9" stroke="#000" stroke-width="1.25"/>
<circle cx="1755.24" cy="728.3" r="5.0" fill="#e9e9e9" stroke="#000" stroke-width="1.25"/>
<circle cx="1765.06" cy="710.51" r="5.0" fill="#e9e9e9" stroke="#000" stroke-width="1.25"/>
<circle cx="1769.51" cy="712.42" r="5.0" fill="#e9e9e9" stroke="#000" stroke-width="1.25"/>
<circle cx="1742.86" cy="741.46" r="5.0" fill="#e9e9e9" stroke="#000" stroke-width="1.25"/>
<circle cx="1793.28" cy="748.22" r="5.0" fill="#e9e9e9" stroke="#000" stroke-width="1.25"/>
<circle cx="1764.25" cy="775.09" r="5.0" fill="#e9e9e9" stroke="#000" stroke-width="1.25"/>
<circle cx="1763.01" cy="721.05" r="5.0" fill="#e9e9e9" stroke="#000" stroke-width="1.25"/>
<circle cx="1796.06" cy="716.54" r="5.0" fill="#e9e9e9" stroke="#000" stroke-width="1.25"/>
<circle cx="1762.1" cy="686.16" r="5.0" fill="#e9e9e9" stroke="#000" stroke-width="1.25"/>
<circle cx="1878.15" cy="681.8" r="5.0" fill="#4cafd4" stroke="#000" stroke-opacity="0.8" stroke-width="1.25"/>
<circle cx="1799.48" cy="678.55" r="5.0" fill="#4cafd4" stroke="#000" stroke-opacity="0.8" stroke-width="1.25"/>
<circle cx="1804.47" cy="678.55" r="5.0" fill="#4cafd4" stroke="#000" stroke-opacity="0.8" stroke-width="1.25"/>
<circle cx="1808.22" cy="684.3" r="5.0" fill="#4cafd4" stroke="#000" stroke-opacity="0.8" stroke-width="1.25"/>
<circle cx="1813.21" cy="689.29" r="5.0" fill="#4cafd4" stroke="#000" stroke-opacity="0.8" stroke-width="1.25"/>
<circle cx="1801.97" cy="694.79" r="5.0" fill="#4cafd4" stroke="#000" stroke-opacity="0.8" stroke-width="1.25"/>
<circle cx="1815.21" cy="706.77" r="5.0" fill="#4cafd4" stroke="#000" stroke-opacity="0.8" stroke-width="1.25"/>
<circle cx="1813.71" cy="713.52" r="5.0" fill="#4cafd4" stroke="#000" stroke-opacity="0.8" stroke-width="1.25"/>
<circle cx="1823.2" cy="715.51" r="5.0" fill="#4cafd4" stroke="#000" stroke-opacity="0.8" stroke-width="1.25"/>
<circle cx="1800.73" cy="718.51" r="5.0" fill="#4cafd4" stroke="#000" stroke-opacity="0.8" stroke-width="1.25"/>
<circle cx="1800.23" cy="735.24" r="5.0" fill="#4cafd4" stroke="#000" stroke-opacity="0.8" stroke-width="1.25"/>
<circle cx="1816.96" cy="751.48" r="5.0" fill="#4cafd4" stroke="#000" stroke-opacity="0.8" stroke-width="1.25"/>
<circle cx="1815.21" cy="765.96" r="5.0" fill="#4cafd4" stroke="#000" stroke-opacity="0.8" stroke-width="1.25"/>
<circle cx="1832.69" cy="775.95" r="5.0" fill="#4cafd4" stroke="#000" stroke-opacity="0.8" stroke-width="1.25"/>
<circle cx="1800.73" cy="782.2" r="5.0" fill="#4cafd4" stroke="#000" stroke-opacity="0.8" stroke-width="1.25"/>
<circle cx="1850.68" cy="699.78" r="5.0" fill="#4cafd4" stroke="#000" stroke-opacity="0.8" stroke-width="1.25"/>
<circle cx="1845.18" cy="709.77" r="5.0" fill="#4cafd4" stroke="#000" stroke-opacity="0.8" stroke-width="1.25"/>
<circle cx="1896.88" cy="717.26" r="5.0" fill="#4cafd4" stroke="#000" stroke-opacity="0.8" stroke-width="1.25"/>
<circle cx="1935.59" cy="725.25" r="5.0" fill="#4cafd4" stroke="#000" stroke-opacity="0.8" stroke-width="1.25"/>
<circle cx="1868.66" cy="735.99" r="5.0" fill="#4cafd4" stroke="#000" stroke-opacity="0.8" stroke-width="1.25"/>
<circle cx="1914.36" cy="742.99" r="5.0" fill="#4cafd4" stroke="#000" stroke-opacity="0.8" stroke-width="1.25"/>
<circle cx="1615.91" cy="717.76" r="5.0" fill="#4cafd4" stroke="#000" stroke-opacity="0.8" stroke-width="1.25"/>
<circle cx="1670.86" cy="714.77" r="5.0" fill="#4cafd4" stroke="#000" stroke-opacity="0.8" stroke-width="1.25"/>
<circle cx="1669.11" cy="746.48" r="5.0" fill="#4cafd4" stroke="#000" stroke-opacity="0.8" stroke-width="1.25"/>
<circle cx="1689.59" cy="746.73" r="5.0" fill="#4cafd4" stroke="#000" stroke-opacity="0.8" stroke-width="1.25"/>
<circle cx="1709.57" cy="693.54" r="5.0" fill="#4cafd4" stroke="#000" stroke-opacity="0.8" stroke-width="1.25"/>
<circle cx="1705.32" cy="703.53" r="5.0" fill="#4cafd4" stroke="#000" stroke-opacity="0.8" stroke-width="1.25"/>
<circle cx="1715.81" cy="705.52" r="5.0" fill="#4cafd4" stroke="#000" stroke-opacity="0.8" stroke-width="1.25"/>
<circle cx="1712.06" cy="709.27" r="5.0" fill="#4cafd4" stroke="#000" stroke-opacity="0.8" stroke-width="1.25"/>
<circle cx="1725.8" cy="701.53" r="5.0" fill="#4cafd4" stroke="#000" stroke-opacity="0.8" stroke-width="1.25"/>
<circle cx="1731.29" cy="701.53" r="5.0" fill="#4cafd4" stroke="#000" stroke-opacity="0.8" stroke-width="1.25"/>
<circle cx="1735.29" cy="690.54" r="5.0" fill="#4cafd4" stroke="#000" stroke-opacity="0.8" stroke-width="1.25"/>
<circle cx="1739.54" cy="712.27" r="5.0" fill="#4cafd4" stroke="#000" stroke-opacity="0.8" stroke-width="1.25"/>
<circle cx="1725.8" cy="715.26" r="5.0" fill="#4cafd4" stroke="#000" stroke-opacity="0.8" stroke-width="1.25"/>
<circle cx="1712.06" cy="721.51" r="5.0" fill="#4cafd4" stroke="#000" stroke-opacity="0.8" stroke-width="1.25"/>
<circle cx="1714.56" cy="729.75" r="5.0" fill="#4cafd4" stroke="#000" stroke-opacity="0.8" stroke-width="1.25"/>
<circle cx="1722.05" cy="729.75" r="5.0" fill="#4cafd4" stroke="#000" stroke-opacity="0.8" stroke-width="1.25"/>
<circle cx="1715.81" cy="735.99" r="5.0" fill="#4cafd4" stroke="#000" stroke-opacity="0.8" stroke-width="1.25"/>
<circle cx="1720.81" cy="740.24" r="5.0" fill="#4cafd4" stroke="#000" stroke-opacity="0.8" stroke-width="1.25"/>
<circle cx="1715.81" cy="748.48" r="5.0" fill="#4cafd4" stroke="#000" stroke-opacity="0.8" stroke-width="1.25"/>
<circle cx="1727.05" cy="755.97" r="5.0" fill="#4cafd4" stroke="#000" stroke-opacity="0.8" stroke-width="1.25"/>
<circle cx="1735.29" cy="767.21" r="5.0" fill="#4cafd4" stroke="#000" stroke-opacity="0.8" stroke-width="1.25"/>
<circle cx="1739.54" cy="762.22" r="5.0" fill="#4cafd4" stroke="#000" stroke-opacity="0.8" stroke-width="1.25"/>
<circle cx="1703.82" cy="769.71" r="5.0" fill="#4cafd4" stroke="#000" stroke-opacity="0.8" stroke-width="1.25"/>
<circle cx="1714.56" cy="772.21" r="5.0" fill="#4cafd4" stroke="#000" stroke-opacity="0.8" stroke-width="1.25"/>
<circle cx="1719.56" cy="774.71" r="5.0" fill="#4cafd4" stroke="#000" stroke-opacity="0.8" stroke-width="1.25"/>
<circle cx="1732.04" cy="779.2" r="5.0" fill="#4cafd4" stroke="#000" stroke-opacity="0.8" stroke-width="1.25"/>
<circle cx="1737.79" cy="778.45" r="5.0" fill="#4cafd4" stroke="#000" stroke-opacity="0.8" stroke-width="1.25"/>
<circle cx="1737.79" cy="783.45" r="5.0" fill="#4cafd4" stroke="#000" stroke-opacity="0.8" stroke-width="1.25"/>
<circle cx="1739.54" cy="785.94" r="5.0" fill="#4cafd4" stroke="#000" stroke-opacity="0.8" stroke-width="1.25"/>
<circle cx="1651.62" cy="782.2" r="5.0" fill="#4cafd4" stroke="#000" stroke-opacity="0.8" stroke-width="1.25"/>
<circle cx="1783.24" cy="529.45" r="5.0" fill="#ee8a75" stroke="#000" stroke-opacity="0.8" stroke-width="1.25"/>
<circle cx="1745.28" cy="626.85" r="5.0" fill="#ee8a75" stroke="#000" stroke-opacity="0.8" stroke-width="1.25"/>
<circle cx="1755.27" cy="627.85" r="5.0" fill="#ee8a75" stroke="#000" stroke-opacity="0.8" stroke-width="1.25"/>
<circle cx="1789.99" cy="641.09" r="5.0" fill="#ee8a75" stroke="#000" stroke-opacity="0.8" stroke-width="1.25"/>
<circle cx="1766.26" cy="663.57" r="5.0" fill="#ee8a75" stroke="#000" stroke-opacity="0.8" stroke-width="1.25"/>
<circle cx="1787.74" cy="660.57" r="5.0" fill="#ee8a75" stroke="#000" stroke-opacity="0.8" stroke-width="1.25"/>
<circle cx="1788.74" cy="664.07" r="5.0" fill="#ee8a75" stroke="#000" stroke-opacity="0.8" stroke-width="1.25"/>
<circle cx="1793.73" cy="669.06" r="5.0" fill="#ee8a75" stroke="#000" stroke-opacity="0.8" stroke-width="1.25"/>
<circle cx="1752.02" cy="799.18" r="5.0" fill="#ee8a75" stroke="#000" stroke-opacity="0.8" stroke-width="1.25"/>
<circle cx="1752.02" cy="803.43" r="5.0" fill="#ee8a75" stroke="#000" stroke-opacity="0.8" stroke-width="1.25"/>
<circle cx="1761.26" cy="795.43" r="5.0" fill="#ee8a75" stroke="#000" stroke-opacity="0.8" stroke-width="1.25"/>
<circle cx="1768.26" cy="804.68" r="5.0" fill="#ee8a75" stroke="#000" stroke-opacity="0.8" stroke-width="1.25"/>
<circle cx="1745.78" cy="820.91" r="5.0" fill="#ee8a75" stroke="#000" stroke-opacity="0.8" stroke-width="1.25"/>
<circle cx="1749.53" cy="835.39" r="5.0" fill="#ee8a75" stroke="#000" stroke-opacity="0.8" stroke-width="1.25"/>
<circle cx="1815.21" cy="514.97" r="5.0" fill="#80cc80" stroke="#000" stroke-opacity="0.8" stroke-width="1.25"/>
<circle cx="1850.18" cy="567.41" r="5.0" fill="#80cc80" stroke="#000" stroke-opacity="0.8" stroke-width="1.25"/>
<circle cx="1801.22" cy="622.36" r="5.0" fill="#80cc80" stroke="#000" stroke-opacity="0.8" stroke-width="1.25"/>
<circle cx="1803.72" cy="624.11" r="5.0" fill="#80cc80" stroke="#000" stroke-opacity="0.8" stroke-width="1.25"/>
<circle cx="1830.2" cy="628.1" r="5.0" fill="#80cc80" stroke="#000" stroke-opacity="0.8" stroke-width="1.25"/>
<circle cx="1832.69" cy="626.85" r="5.0" fill="#80cc80" stroke="#000" stroke-opacity="0.8" stroke-width="1.25"/>
<circle cx="1881.89" cy="627.35" r="5.0" fill="#80cc80" stroke="#000" stroke-opacity="0.8" stroke-width="1.25"/>
<circle cx="1805.72" cy="636.84" r="5.0" fill="#80cc80" stroke="#000" stroke-opacity="0.8" stroke-width="1.25"/>
<circle cx="1806.47" cy="639.84" r="5.0" fill="#80cc80" stroke="#000" stroke-opacity="0.8" stroke-width="1.25"/>
<circle cx="1813.21" cy="655.32" r="5.0" fill="#80cc80" stroke="#000" stroke-opacity="0.8" stroke-width="1.25"/>
<circle cx="1821.45" cy="662.82" r="5.0" fill="#80cc80" stroke="#000" stroke-opacity="0.8" stroke-width="1.25"/>
<circle cx="1843.93" cy="658.07" r="5.0" fill="#80cc80" stroke="#000" stroke-opacity="0.8" stroke-width="1.25"/>
<circle cx="1801.47" cy="670.31" r="5.0" fill="#80cc80" stroke="#000" stroke-opacity="0.8" stroke-width="1.25"/>
<circle cx="1808.97" cy="668.06" r="5.0" fill="#80cc80" stroke="#000" stroke-opacity="0.8" stroke-width="1.25"/>
<circle cx="1816.96" cy="672.31" r="5.0" fill="#80cc80" stroke="#000" stroke-opacity="0.8" stroke-width="1.25"/>
<circle cx="1868.16" cy="673.06" r="5.0" fill="#80cc80" stroke="#000" stroke-opacity="0.8" stroke-width="1.25"/>
<circle cx="1875.15" cy="676.05" r="5.0" fill="#80cc80" stroke="#000" stroke-opacity="0.8" stroke-width="1.25"/>
<circle cx="1727.8" cy="791.69" r="5.0" fill="#80cc80" stroke="#000" stroke-opacity="0.8" stroke-width="1.25"/>
<circle cx="1735.29" cy="800.93" r="5.0" fill="#80cc80" stroke="#000" stroke-opacity="0.8" stroke-width="1.25"/>
<circle cx="1730.3" cy="810.92" r="5.0" fill="#80cc80" stroke="#000" stroke-opacity="0.8" stroke-width="1.25"/>
<circle cx="1740.79" cy="815.91" r="5.0" fill="#80cc80" stroke="#000" stroke-opacity="0.8" stroke-width="1.25"/>
<circle cx="1687.09" cy="812.17" r="5.0" fill="#80cc80" stroke="#000" stroke-opacity="0.8" stroke-width="1.25"/>
<circle cx="1715.81" cy="818.41" r="5.0" fill="#80cc80" stroke="#000" stroke-opacity="0.8" stroke-width="1.25"/>
<circle cx="1738.79" cy="823.41" r="5.0" fill="#80cc80" stroke="#000" stroke-opacity="0.8" stroke-width="1.25"/>
<circle cx="1699.58" cy="830.15" r="5.0" fill="#80cc80" stroke="#000" stroke-opacity="0.8" stroke-width="1.25"/>
<circle cx="1738.79" cy="835.39" r="5.0" fill="#80cc80" stroke="#000" stroke-opacity="0.8" stroke-width="1.25"/>
<circle cx="1806.97" cy="813.42" r="5.0" fill="#80cc80" stroke="#000" stroke-opacity="0.8" stroke-width="1.25"/>
<path d="M1600.4 499.2 V852.1 H1951.8" fill="none" stroke="#000" stroke-width="1.9"/>
<line x1="1594.9" y1="843.88" x2="1600.4" y2="843.88" stroke="#333" stroke-width="1.5"/>
<text x="1589.9" y="850.28" font-size="18" fill="#4d4d4d" stroke="#4d4d4d" stroke-width="0.25" text-anchor="end">−4</text>
<line x1="1594.9" y1="731.8" x2="1600.4" y2="731.8" stroke="#333" stroke-width="1.5"/>
<text x="1589.9" y="738.2" font-size="18" fill="#4d4d4d" stroke="#4d4d4d" stroke-width="0.25" text-anchor="end">0</text>
<line x1="1594.9" y1="619.72" x2="1600.4" y2="619.72" stroke="#333" stroke-width="1.5"/>
<text x="1589.9" y="626.12" font-size="18" fill="#4d4d4d" stroke="#4d4d4d" stroke-width="0.25" text-anchor="end">4</text>
<line x1="1594.9" y1="507.64" x2="1600.4" y2="507.64" stroke="#333" stroke-width="1.5"/>
<text x="1589.9" y="514.04" font-size="18" fill="#4d4d4d" stroke="#4d4d4d" stroke-width="0.25" text-anchor="end">8</text>
<line x1="1623.1" y1="852.1" x2="1623.1" y2="857.6" stroke="#333" stroke-width="1.5"/>
<text x="1623.1" y="874.7" font-size="18" fill="#4d4d4d" stroke="#4d4d4d" stroke-width="0.25" text-anchor="middle">−10</text>
<line x1="1696.95" y1="852.1" x2="1696.95" y2="857.6" stroke="#333" stroke-width="1.5"/>
<text x="1696.95" y="874.7" font-size="18" fill="#4d4d4d" stroke="#4d4d4d" stroke-width="0.25" text-anchor="middle">−5</text>
<line x1="1770.8" y1="852.1" x2="1770.8" y2="857.6" stroke="#333" stroke-width="1.5"/>
<text x="1770.8" y="874.7" font-size="18" fill="#4d4d4d" stroke="#4d4d4d" stroke-width="0.25" text-anchor="middle">0</text>
<line x1="1844.65" y1="852.1" x2="1844.65" y2="857.6" stroke="#333" stroke-width="1.5"/>
<text x="1844.65" y="874.7" font-size="18" fill="#4d4d4d" stroke="#4d4d4d" stroke-width="0.25" text-anchor="middle">5</text>
<line x1="1918.5" y1="852.1" x2="1918.5" y2="857.6" stroke="#333" stroke-width="1.5"/>
<text x="1918.5" y="874.7" font-size="18" fill="#4d4d4d" stroke="#4d4d4d" stroke-width="0.25" text-anchor="middle">10</text>
<text x="1776.1" y="902.9" font-size="22" text-anchor="middle" fill="#000" stroke="#000" stroke-width="0.2">β<tspan font-size="16" dy="4">choice</tspan><tspan dy="-4" font-size="26">(</tspan><tspan>t</tspan><tspan dx="4.3">−</tspan><tspan dx="3.9">stat</tspan><tspan font-size="26">)</tspan></text>
<text transform="translate(1554.4,675.65) rotate(-90)" x="0" y="0" font-size="22" text-anchor="middle" fill="#000" stroke="#000" stroke-width="0.2">β<tspan font-size="16" dy="4">lottery</tspan><tspan dy="-4" font-size="26">(</tspan><tspan>t</tspan><tspan dx="4.3">−</tspan><tspan dx="3.9">stat</tspan><tspan font-size="26">)</tspan></text>
</g>
<g>
<line x1="549.2" y1="1110.6" x2="901" y2="1110.6" stroke="#8a8a8a" stroke-width="1.2" stroke-dasharray="7,5"/>
<line x1="733.2" y1="935.3" x2="733.2" y2="1288.2" stroke="#8a8a8a" stroke-width="1.2" stroke-dasharray="7,5"/>
<circle cx="688.12" cy="1121.04" r="5.0" fill="#e9e9e9" stroke="#000" stroke-width="1.25"/>
<circle cx="722.38" cy="1100.37" r="5.0" fill="#e9e9e9" stroke="#000" stroke-width="1.25"/>
<circle cx="684.14" cy="1169.61" r="5.0" fill="#e9e9e9" stroke="#000" stroke-width="1.25"/>
<circle cx="776.97" cy="1057.43" r="5.0" fill="#e9e9e9" stroke="#000" stroke-width="1.25"/>
<circle cx="787.77" cy="1088.96" r="5.0" fill="#e9e9e9" stroke="#000" stroke-width="1.25"/>
<circle cx="759.63" cy="1042.95" r="5.0" fill="#e9e9e9" stroke="#000" stroke-width="1.25"/>
<circle cx="735.06" cy="1147.65" r="5.0" fill="#e9e9e9" stroke="#000" stroke-width="1.25"/>
<circle cx="675.77" cy="1145.38" r="5.0" fill="#e9e9e9" stroke="#000" stroke-width="1.25"/>
<circle cx="761.25" cy="1071.04" r="5.0" fill="#e9e9e9" stroke="#000" stroke-width="1.25"/>
<circle cx="729.64" cy="1086.13" r="5.0" fill="#e9e9e9" stroke="#000" stroke-width="1.25"/>
<circle cx="760.9" cy="1109.45" r="5.0" fill="#e9e9e9" stroke="#000" stroke-width="1.25"/>
<circle cx="727.64" cy="1147.45" r="5.0" fill="#e9e9e9" stroke="#000" stroke-width="1.25"/>
<circle cx="695.61" cy="1102.37" r="5.0" fill="#e9e9e9" stroke="#000" stroke-width="1.25"/>
<circle cx="749.51" cy="1140.92" r="5.0" fill="#e9e9e9" stroke="#000" stroke-width="1.25"/>
<circle cx="714.82" cy="1099.02" r="5.0" fill="#e9e9e9" stroke="#000" stroke-width="1.25"/>
<circle cx="716.98" cy="1108.81" r="5.0" fill="#e9e9e9" stroke="#000" stroke-width="1.25"/>
<circle cx="780.29" cy="1106.62" r="5.0" fill="#e9e9e9" stroke="#000" stroke-width="1.25"/>
<circle cx="716.42" cy="1145.07" r="5.0" fill="#e9e9e9" stroke="#000" stroke-width="1.25"/>
<circle cx="733.86" cy="1060.76" r="5.0" fill="#e9e9e9" stroke="#000" stroke-width="1.25"/>
<circle cx="708.89" cy="1090.21" r="5.0" fill="#e9e9e9" stroke="#000" stroke-width="1.25"/>
<circle cx="774.17" cy="1050.1" r="5.0" fill="#e9e9e9" stroke="#000" stroke-width="1.25"/>
<circle cx="737.69" cy="1105.82" r="5.0" fill="#e9e9e9" stroke="#000" stroke-width="1.25"/>
<circle cx="707.24" cy="1156.95" r="5.0" fill="#e9e9e9" stroke="#000" stroke-width="1.25"/>
<circle cx="779.89" cy="1090.64" r="5.0" fill="#e9e9e9" stroke="#000" stroke-width="1.25"/>
<circle cx="730.37" cy="1079.46" r="5.0" fill="#e9e9e9" stroke="#000" stroke-width="1.25"/>
<circle cx="773.4" cy="1104.82" r="5.0" fill="#e9e9e9" stroke="#000" stroke-width="1.25"/>
<circle cx="720.86" cy="1074.34" r="5.0" fill="#e9e9e9" stroke="#000" stroke-width="1.25"/>
<circle cx="780.51" cy="1076.4" r="5.0" fill="#e9e9e9" stroke="#000" stroke-width="1.25"/>
<circle cx="752.48" cy="1135.84" r="5.0" fill="#e9e9e9" stroke="#000" stroke-width="1.25"/>
<circle cx="730.53" cy="1152.7" r="5.0" fill="#e9e9e9" stroke="#000" stroke-width="1.25"/>
<circle cx="741.09" cy="1149.5" r="5.0" fill="#e9e9e9" stroke="#000" stroke-width="1.25"/>
<circle cx="683.11" cy="1140.47" r="5.0" fill="#e9e9e9" stroke="#000" stroke-width="1.25"/>
<circle cx="746.59" cy="1098.13" r="5.0" fill="#e9e9e9" stroke="#000" stroke-width="1.25"/>
<circle cx="793.08" cy="1054.52" r="5.0" fill="#e9e9e9" stroke="#000" stroke-width="1.25"/>
<circle cx="753.26" cy="1068.66" r="5.0" fill="#e9e9e9" stroke="#000" stroke-width="1.25"/>
<circle cx="775.27" cy="1075.74" r="5.0" fill="#e9e9e9" stroke="#000" stroke-width="1.25"/>
<circle cx="696.45" cy="1176.31" r="5.0" fill="#e9e9e9" stroke="#000" stroke-width="1.25"/>
<circle cx="704.17" cy="1153.21" r="5.0" fill="#e9e9e9" stroke="#000" stroke-width="1.25"/>
<circle cx="706.48" cy="1098.71" r="5.0" fill="#e9e9e9" stroke="#000" stroke-width="1.25"/>
<circle cx="701.23" cy="1144.74" r="5.0" fill="#e9e9e9" stroke="#000" stroke-width="1.25"/>
<circle cx="783.1" cy="1052.35" r="5.0" fill="#e9e9e9" stroke="#000" stroke-width="1.25"/>
<circle cx="790.26" cy="1091.78" r="5.0" fill="#e9e9e9" stroke="#000" stroke-width="1.25"/>
<circle cx="759.32" cy="1129.64" r="5.0" fill="#e9e9e9" stroke="#000" stroke-width="1.25"/>
<circle cx="700.27" cy="1127.31" r="5.0" fill="#e9e9e9" stroke="#000" stroke-width="1.25"/>
<circle cx="753.31" cy="1123.41" r="5.0" fill="#e9e9e9" stroke="#000" stroke-width="1.25"/>
<circle cx="789.38" cy="1031.67" r="5.0" fill="#e9e9e9" stroke="#000" stroke-width="1.25"/>
<circle cx="744.38" cy="1152.37" r="5.0" fill="#e9e9e9" stroke="#000" stroke-width="1.25"/>
<circle cx="722.41" cy="1096.78" r="5.0" fill="#e9e9e9" stroke="#000" stroke-width="1.25"/>
<circle cx="740.05" cy="1056.9" r="5.0" fill="#e9e9e9" stroke="#000" stroke-width="1.25"/>
<circle cx="720.99" cy="1129.73" r="5.0" fill="#e9e9e9" stroke="#000" stroke-width="1.25"/>
<circle cx="751.09" cy="1088.59" r="5.0" fill="#e9e9e9" stroke="#000" stroke-width="1.25"/>
<circle cx="700.59" cy="1176.22" r="5.0" fill="#e9e9e9" stroke="#000" stroke-width="1.25"/>
<circle cx="714.67" cy="1168.14" r="5.0" fill="#e9e9e9" stroke="#000" stroke-width="1.25"/>
<circle cx="689.12" cy="1176.87" r="5.0" fill="#e9e9e9" stroke="#000" stroke-width="1.25"/>
<circle cx="680.46" cy="1136.07" r="5.0" fill="#e9e9e9" stroke="#000" stroke-width="1.25"/>
<circle cx="687.03" cy="1115.29" r="5.0" fill="#e9e9e9" stroke="#000" stroke-width="1.25"/>
<circle cx="786.92" cy="1073.98" r="5.0" fill="#e9e9e9" stroke="#000" stroke-width="1.25"/>
<circle cx="687.45" cy="1158.59" r="5.0" fill="#e9e9e9" stroke="#000" stroke-width="1.25"/>
<circle cx="729.79" cy="1112.28" r="5.0" fill="#e9e9e9" stroke="#000" stroke-width="1.25"/>
<circle cx="685.81" cy="1165.13" r="5.0" fill="#e9e9e9" stroke="#000" stroke-width="1.25"/>
<circle cx="770.69" cy="1073.61" r="5.0" fill="#e9e9e9" stroke="#000" stroke-width="1.25"/>
<circle cx="680.87" cy="1127.21" r="5.0" fill="#e9e9e9" stroke="#000" stroke-width="1.25"/>
<circle cx="747.73" cy="1134.13" r="5.0" fill="#e9e9e9" stroke="#000" stroke-width="1.25"/>
<circle cx="775.43" cy="1070.66" r="5.0" fill="#e9e9e9" stroke="#000" stroke-width="1.25"/>
<circle cx="766.76" cy="1060.08" r="5.0" fill="#e9e9e9" stroke="#000" stroke-width="1.25"/>
<circle cx="766.99" cy="1119.56" r="5.0" fill="#e9e9e9" stroke="#000" stroke-width="1.25"/>
<circle cx="758.09" cy="1136.45" r="5.0" fill="#e9e9e9" stroke="#000" stroke-width="1.25"/>
<circle cx="701.68" cy="1109.31" r="5.0" fill="#e9e9e9" stroke="#000" stroke-width="1.25"/>
<circle cx="768.29" cy="1045.8" r="5.0" fill="#e9e9e9" stroke="#000" stroke-width="1.25"/>
<circle cx="757.38" cy="1068.81" r="5.0" fill="#e9e9e9" stroke="#000" stroke-width="1.25"/>
<circle cx="738.55" cy="1087.17" r="5.0" fill="#e9e9e9" stroke="#000" stroke-width="1.25"/>
<circle cx="771.16" cy="1121.2" r="5.0" fill="#e9e9e9" stroke="#000" stroke-width="1.25"/>
<circle cx="753.26" cy="1113.39" r="5.0" fill="#e9e9e9" stroke="#000" stroke-width="1.25"/>
<circle cx="674.92" cy="1169.02" r="5.0" fill="#e9e9e9" stroke="#000" stroke-width="1.25"/>
<circle cx="789.94" cy="1068.88" r="5.0" fill="#e9e9e9" stroke="#000" stroke-width="1.25"/>
<circle cx="749.49" cy="1078.65" r="5.0" fill="#e9e9e9" stroke="#000" stroke-width="1.25"/>
<circle cx="737.34" cy="1065.55" r="5.0" fill="#e9e9e9" stroke="#000" stroke-width="1.25"/>
<circle cx="782.84" cy="1100.08" r="5.0" fill="#e9e9e9" stroke="#000" stroke-width="1.25"/>
<circle cx="758.11" cy="1099.43" r="5.0" fill="#e9e9e9" stroke="#000" stroke-width="1.25"/>
<circle cx="714.86" cy="1114.42" r="5.0" fill="#e9e9e9" stroke="#000" stroke-width="1.25"/>
<circle cx="686.88" cy="1153.12" r="5.0" fill="#e9e9e9" stroke="#000" stroke-width="1.25"/>
<circle cx="708.27" cy="1112.09" r="5.0" fill="#e9e9e9" stroke="#000" stroke-width="1.25"/>
<circle cx="713.56" cy="1177.06" r="5.0" fill="#e9e9e9" stroke="#000" stroke-width="1.25"/>
<circle cx="725.75" cy="1115.84" r="5.0" fill="#e9e9e9" stroke="#000" stroke-width="1.25"/>
<circle cx="755.38" cy="1092.38" r="5.0" fill="#e9e9e9" stroke="#000" stroke-width="1.25"/>
<circle cx="717.84" cy="1080.97" r="5.0" fill="#e9e9e9" stroke="#000" stroke-width="1.25"/>
<circle cx="776.98" cy="1085.99" r="5.0" fill="#e9e9e9" stroke="#000" stroke-width="1.25"/>
<circle cx="673.51" cy="1155.63" r="5.0" fill="#e9e9e9" stroke="#000" stroke-width="1.25"/>
<circle cx="788.03" cy="1064.11" r="5.0" fill="#e9e9e9" stroke="#000" stroke-width="1.25"/>
<circle cx="686.37" cy="1161.79" r="5.0" fill="#e9e9e9" stroke="#000" stroke-width="1.25"/>
<circle cx="764.29" cy="1090.93" r="5.0" fill="#e9e9e9" stroke="#000" stroke-width="1.25"/>
<circle cx="745.7" cy="1141.79" r="5.0" fill="#e9e9e9" stroke="#000" stroke-width="1.25"/>
<circle cx="705.1" cy="1176.72" r="5.0" fill="#e9e9e9" stroke="#000" stroke-width="1.25"/>
<circle cx="698.92" cy="1157" r="5.0" fill="#e9e9e9" stroke="#000" stroke-width="1.25"/>
<circle cx="726.3" cy="1098.17" r="5.0" fill="#e9e9e9" stroke="#000" stroke-width="1.25"/>
<circle cx="725.26" cy="1120.66" r="5.0" fill="#e9e9e9" stroke="#000" stroke-width="1.25"/>
<circle cx="671.02" cy="1167.85" r="5.0" fill="#e9e9e9" stroke="#000" stroke-width="1.25"/>
<circle cx="781.24" cy="1032.2" r="5.0" fill="#e9e9e9" stroke="#000" stroke-width="1.25"/>
<circle cx="710.29" cy="1102.17" r="5.0" fill="#e9e9e9" stroke="#000" stroke-width="1.25"/>
<circle cx="713.63" cy="1151.16" r="5.0" fill="#e9e9e9" stroke="#000" stroke-width="1.25"/>
<circle cx="685.42" cy="1130.05" r="5.0" fill="#e9e9e9" stroke="#000" stroke-width="1.25"/>
<circle cx="686.76" cy="1184.95" r="5.0" fill="#e9e9e9" stroke="#000" stroke-width="1.25"/>
<circle cx="694.33" cy="1184.22" r="5.0" fill="#e9e9e9" stroke="#000" stroke-width="1.25"/>
<circle cx="711.14" cy="1168.3" r="5.0" fill="#e9e9e9" stroke="#000" stroke-width="1.25"/>
<circle cx="759.13" cy="1095.84" r="5.0" fill="#e9e9e9" stroke="#000" stroke-width="1.25"/>
<circle cx="736" cy="1128.07" r="5.0" fill="#e9e9e9" stroke="#000" stroke-width="1.25"/>
<circle cx="700.55" cy="1102.02" r="5.0" fill="#e9e9e9" stroke="#000" stroke-width="1.25"/>
<circle cx="686.26" cy="1145.8" r="5.0" fill="#e9e9e9" stroke="#000" stroke-width="1.25"/>
<circle cx="774.54" cy="1114.16" r="5.0" fill="#e9e9e9" stroke="#000" stroke-width="1.25"/>
<circle cx="786.62" cy="1080.21" r="5.0" fill="#e9e9e9" stroke="#000" stroke-width="1.25"/>
<circle cx="675.58" cy="1150.16" r="5.0" fill="#e9e9e9" stroke="#000" stroke-width="1.25"/>
<circle cx="677.58" cy="1163.68" r="5.0" fill="#e9e9e9" stroke="#000" stroke-width="1.25"/>
<circle cx="743.9" cy="1108.14" r="5.0" fill="#e9e9e9" stroke="#000" stroke-width="1.25"/>
<circle cx="742.47" cy="1091.67" r="5.0" fill="#e9e9e9" stroke="#000" stroke-width="1.25"/>
<circle cx="740.75" cy="1134.79" r="5.0" fill="#e9e9e9" stroke="#000" stroke-width="1.25"/>
<circle cx="711.45" cy="1142.91" r="5.0" fill="#e9e9e9" stroke="#000" stroke-width="1.25"/>
<circle cx="718.99" cy="1125.72" r="5.0" fill="#e9e9e9" stroke="#000" stroke-width="1.25"/>
<circle cx="677.47" cy="1172" r="5.0" fill="#e9e9e9" stroke="#000" stroke-width="1.25"/>
<circle cx="772.87" cy="1038.11" r="5.0" fill="#e9e9e9" stroke="#000" stroke-width="1.25"/>
<circle cx="725.36" cy="1087.24" r="5.0" fill="#e9e9e9" stroke="#000" stroke-width="1.25"/>
<circle cx="737.69" cy="1143" r="5.0" fill="#e9e9e9" stroke="#000" stroke-width="1.25"/>
<circle cx="763.26" cy="1104.96" r="5.0" fill="#e9e9e9" stroke="#000" stroke-width="1.25"/>
<circle cx="691.6" cy="1131.6" r="5.0" fill="#e9e9e9" stroke="#000" stroke-width="1.25"/>
<circle cx="686.44" cy="1141.66" r="5.0" fill="#e9e9e9" stroke="#000" stroke-width="1.25"/>
<circle cx="731.94" cy="1069.01" r="5.0" fill="#e9e9e9" stroke="#000" stroke-width="1.25"/>
<circle cx="739.46" cy="1061.93" r="5.0" fill="#e9e9e9" stroke="#000" stroke-width="1.25"/>
<circle cx="756.14" cy="1078.32" r="5.0" fill="#e9e9e9" stroke="#000" stroke-width="1.25"/>
<circle cx="701.63" cy="1159.68" r="5.0" fill="#e9e9e9" stroke="#000" stroke-width="1.25"/>
<circle cx="772.98" cy="1041.88" r="5.0" fill="#e9e9e9" stroke="#000" stroke-width="1.25"/>
<circle cx="747.92" cy="1116.9" r="5.0" fill="#e9e9e9" stroke="#000" stroke-width="1.25"/>
<circle cx="707.67" cy="1141.16" r="5.0" fill="#e9e9e9" stroke="#000" stroke-width="1.25"/>
<circle cx="777.33" cy="1042.78" r="5.0" fill="#e9e9e9" stroke="#000" stroke-width="1.25"/>
<circle cx="732.16" cy="1107.26" r="5.0" fill="#e9e9e9" stroke="#000" stroke-width="1.25"/>
<circle cx="779.52" cy="1064.89" r="5.0" fill="#e9e9e9" stroke="#000" stroke-width="1.25"/>
<circle cx="735.56" cy="1155.21" r="5.0" fill="#e9e9e9" stroke="#000" stroke-width="1.25"/>
<circle cx="696.32" cy="1140.26" r="5.0" fill="#e9e9e9" stroke="#000" stroke-width="1.25"/>
<circle cx="694.43" cy="1112.34" r="5.0" fill="#e9e9e9" stroke="#000" stroke-width="1.25"/>
<circle cx="772.47" cy="1063.27" r="5.0" fill="#e9e9e9" stroke="#000" stroke-width="1.25"/>
<circle cx="672.54" cy="1145.97" r="5.0" fill="#e9e9e9" stroke="#000" stroke-width="1.25"/>
<circle cx="794.88" cy="1043.43" r="5.0" fill="#e9e9e9" stroke="#000" stroke-width="1.25"/>
<circle cx="761.56" cy="1064.33" r="5.0" fill="#e9e9e9" stroke="#000" stroke-width="1.25"/>
<circle cx="746.51" cy="1050.53" r="5.0" fill="#e9e9e9" stroke="#000" stroke-width="1.25"/>
<circle cx="704.23" cy="1120.35" r="5.0" fill="#e9e9e9" stroke="#000" stroke-width="1.25"/>
<circle cx="761.79" cy="1097.79" r="5.0" fill="#e9e9e9" stroke="#000" stroke-width="1.25"/>
<circle cx="729.85" cy="1156.27" r="5.0" fill="#e9e9e9" stroke="#000" stroke-width="1.25"/>
<circle cx="680.69" cy="1182.91" r="5.0" fill="#e9e9e9" stroke="#000" stroke-width="1.25"/>
<circle cx="720.61" cy="1114.03" r="5.0" fill="#e9e9e9" stroke="#000" stroke-width="1.25"/>
<circle cx="744.15" cy="1123.67" r="5.0" fill="#e9e9e9" stroke="#000" stroke-width="1.25"/>
<circle cx="752.97" cy="1094.9" r="5.0" fill="#e9e9e9" stroke="#000" stroke-width="1.25"/>
<circle cx="759.57" cy="1050.91" r="5.0" fill="#e9e9e9" stroke="#000" stroke-width="1.25"/>
<circle cx="756.71" cy="1064.83" r="5.0" fill="#e9e9e9" stroke="#000" stroke-width="1.25"/>
<circle cx="792.32" cy="1038.14" r="5.0" fill="#e9e9e9" stroke="#000" stroke-width="1.25"/>
<circle cx="714.98" cy="1121.13" r="5.0" fill="#e9e9e9" stroke="#000" stroke-width="1.25"/>
<circle cx="680.21" cy="1143.12" r="5.0" fill="#e9e9e9" stroke="#000" stroke-width="1.25"/>
<circle cx="745.67" cy="1113.2" r="5.0" fill="#e9e9e9" stroke="#000" stroke-width="1.25"/>
<circle cx="745.69" cy="1073.77" r="5.0" fill="#e9e9e9" stroke="#000" stroke-width="1.25"/>
<circle cx="764.32" cy="1129.7" r="5.0" fill="#e9e9e9" stroke="#000" stroke-width="1.25"/>
<circle cx="749.74" cy="1145.82" r="5.0" fill="#e9e9e9" stroke="#000" stroke-width="1.25"/>
<circle cx="770.3" cy="1115.23" r="5.0" fill="#e9e9e9" stroke="#000" stroke-width="1.25"/>
<circle cx="685.79" cy="1137.22" r="5.0" fill="#e9e9e9" stroke="#000" stroke-width="1.25"/>
<circle cx="776.36" cy="1091.85" r="5.0" fill="#e9e9e9" stroke="#000" stroke-width="1.25"/>
<circle cx="720.59" cy="1091.62" r="5.0" fill="#e9e9e9" stroke="#000" stroke-width="1.25"/>
<circle cx="758.47" cy="1105.63" r="5.0" fill="#e9e9e9" stroke="#000" stroke-width="1.25"/>
<circle cx="692.04" cy="1148.66" r="5.0" fill="#e9e9e9" stroke="#000" stroke-width="1.25"/>
<circle cx="789.97" cy="1077.7" r="5.0" fill="#e9e9e9" stroke="#000" stroke-width="1.25"/>
<circle cx="734.71" cy="1099.33" r="5.0" fill="#e9e9e9" stroke="#000" stroke-width="1.25"/>
<circle cx="677.19" cy="1132.56" r="5.0" fill="#e9e9e9" stroke="#000" stroke-width="1.25"/>
<circle cx="732.01" cy="1076.23" r="5.0" fill="#e9e9e9" stroke="#000" stroke-width="1.25"/>
<circle cx="738.6" cy="1137.62" r="5.0" fill="#e9e9e9" stroke="#000" stroke-width="1.25"/>
<circle cx="667.51" cy="1159.63" r="5.0" fill="#e9e9e9" stroke="#000" stroke-width="1.25"/>
<circle cx="796.93" cy="1028.64" r="5.0" fill="#4cafd4" stroke="#000" stroke-opacity="0.8" stroke-width="1.25"/>
<circle cx="794.43" cy="1058.61" r="5.0" fill="#4cafd4" stroke="#000" stroke-opacity="0.8" stroke-width="1.25"/>
<circle cx="803.17" cy="1051.86" r="5.0" fill="#4cafd4" stroke="#000" stroke-opacity="0.8" stroke-width="1.25"/>
<circle cx="800.18" cy="1064.35" r="5.0" fill="#4cafd4" stroke="#000" stroke-opacity="0.8" stroke-width="1.25"/>
<circle cx="816.91" cy="1058.11" r="5.0" fill="#4cafd4" stroke="#000" stroke-opacity="0.8" stroke-width="1.25"/>
<circle cx="795.68" cy="1079.84" r="5.0" fill="#4cafd4" stroke="#000" stroke-opacity="0.8" stroke-width="1.25"/>
<circle cx="803.17" cy="1077.34" r="5.0" fill="#4cafd4" stroke="#000" stroke-opacity="0.8" stroke-width="1.25"/>
<circle cx="815.16" cy="1076.09" r="5.0" fill="#4cafd4" stroke="#000" stroke-opacity="0.8" stroke-width="1.25"/>
<circle cx="856.12" cy="1082.83" r="5.0" fill="#4cafd4" stroke="#000" stroke-opacity="0.8" stroke-width="1.25"/>
<circle cx="856.87" cy="1096.57" r="5.0" fill="#4cafd4" stroke="#000" stroke-opacity="0.8" stroke-width="1.25"/>
<circle cx="884.84" cy="1097.32" r="5.0" fill="#4cafd4" stroke="#000" stroke-opacity="0.8" stroke-width="1.25"/>
<circle cx="832.64" cy="1119.3" r="5.0" fill="#4cafd4" stroke="#000" stroke-opacity="0.8" stroke-width="1.25"/>
<circle cx="862.61" cy="1136.03" r="5.0" fill="#4cafd4" stroke="#000" stroke-opacity="0.8" stroke-width="1.25"/>
<circle cx="643.33" cy="1066.85" r="5.0" fill="#4cafd4" stroke="#000" stroke-opacity="0.8" stroke-width="1.25"/>
<circle cx="607.62" cy="1146.77" r="5.0" fill="#4cafd4" stroke="#000" stroke-opacity="0.8" stroke-width="1.25"/>
<circle cx="596.63" cy="1155.51" r="5.0" fill="#4cafd4" stroke="#000" stroke-opacity="0.8" stroke-width="1.25"/>
<circle cx="564.16" cy="1164.25" r="5.0" fill="#4cafd4" stroke="#000" stroke-opacity="0.8" stroke-width="1.25"/>
<circle cx="591.63" cy="1168" r="5.0" fill="#4cafd4" stroke="#000" stroke-opacity="0.8" stroke-width="1.25"/>
<circle cx="653.32" cy="1157.26" r="5.0" fill="#4cafd4" stroke="#000" stroke-opacity="0.8" stroke-width="1.25"/>
<circle cx="645.33" cy="1167.75" r="5.0" fill="#4cafd4" stroke="#000" stroke-opacity="0.8" stroke-width="1.25"/>
<circle cx="672.05" cy="1150.26" r="5.0" fill="#4cafd4" stroke="#000" stroke-opacity="0.8" stroke-width="1.25"/>
<circle cx="674.05" cy="1169.75" r="5.0" fill="#4cafd4" stroke="#000" stroke-opacity="0.8" stroke-width="1.25"/>
<circle cx="653.82" cy="1180.48" r="5.0" fill="#4cafd4" stroke="#000" stroke-opacity="0.8" stroke-width="1.25"/>
<circle cx="660.82" cy="1180.48" r="5.0" fill="#4cafd4" stroke="#000" stroke-opacity="0.8" stroke-width="1.25"/>
<circle cx="663.81" cy="1177.24" r="5.0" fill="#4cafd4" stroke="#000" stroke-opacity="0.8" stroke-width="1.25"/>
<circle cx="653.32" cy="1193.97" r="5.0" fill="#4cafd4" stroke="#000" stroke-opacity="0.8" stroke-width="1.25"/>
<circle cx="764.46" cy="982.93" r="5.0" fill="#ee8a75" stroke="#000" stroke-opacity="0.8" stroke-width="1.25"/>
<circle cx="791.43" cy="983.68" r="5.0" fill="#ee8a75" stroke="#000" stroke-opacity="0.8" stroke-width="1.25"/>
<circle cx="741.98" cy="1021.14" r="5.0" fill="#ee8a75" stroke="#000" stroke-opacity="0.8" stroke-width="1.25"/>
<circle cx="763.21" cy="1016.15" r="5.0" fill="#ee8a75" stroke="#000" stroke-opacity="0.8" stroke-width="1.25"/>
<circle cx="763.96" cy="1017.4" r="5.0" fill="#ee8a75" stroke="#000" stroke-opacity="0.8" stroke-width="1.25"/>
<circle cx="770.21" cy="1021.14" r="5.0" fill="#ee8a75" stroke="#000" stroke-opacity="0.8" stroke-width="1.25"/>
<circle cx="773.95" cy="1017.9" r="5.0" fill="#ee8a75" stroke="#000" stroke-opacity="0.8" stroke-width="1.25"/>
<circle cx="775.7" cy="1023.64" r="5.0" fill="#ee8a75" stroke="#000" stroke-opacity="0.8" stroke-width="1.25"/>
<circle cx="786.44" cy="1017.4" r="5.0" fill="#ee8a75" stroke="#000" stroke-opacity="0.8" stroke-width="1.25"/>
<circle cx="717.01" cy="1194.72" r="5.0" fill="#ee8a75" stroke="#000" stroke-opacity="0.8" stroke-width="1.25"/>
<circle cx="727" cy="1196.47" r="5.0" fill="#ee8a75" stroke="#000" stroke-opacity="0.8" stroke-width="1.25"/>
<circle cx="680.8" cy="1190.97" r="5.0" fill="#ee8a75" stroke="#000" stroke-opacity="0.8" stroke-width="1.25"/>
<circle cx="685.79" cy="1197.97" r="5.0" fill="#ee8a75" stroke="#000" stroke-opacity="0.8" stroke-width="1.25"/>
<circle cx="687.79" cy="1205.46" r="5.0" fill="#ee8a75" stroke="#000" stroke-opacity="0.8" stroke-width="1.25"/>
<circle cx="692.03" cy="1213.45" r="5.0" fill="#ee8a75" stroke="#000" stroke-opacity="0.8" stroke-width="1.25"/>
<circle cx="685.79" cy="1217.95" r="5.0" fill="#ee8a75" stroke="#000" stroke-opacity="0.8" stroke-width="1.25"/>
<circle cx="688.29" cy="1220.19" r="5.0" fill="#ee8a75" stroke="#000" stroke-opacity="0.8" stroke-width="1.25"/>
<circle cx="700.28" cy="1222.19" r="5.0" fill="#ee8a75" stroke="#000" stroke-opacity="0.8" stroke-width="1.25"/>
<circle cx="787.69" cy="1219.7" r="5.0" fill="#ee8a75" stroke="#000" stroke-opacity="0.8" stroke-width="1.25"/>
<circle cx="845.63" cy="951.21" r="5.0" fill="#80cc80" stroke="#000" stroke-opacity="0.8" stroke-width="1.25"/>
<circle cx="805.67" cy="961.2" r="5.0" fill="#80cc80" stroke="#000" stroke-opacity="0.8" stroke-width="1.25"/>
<circle cx="816.91" cy="981.18" r="5.0" fill="#80cc80" stroke="#000" stroke-opacity="0.8" stroke-width="1.25"/>
<circle cx="828.15" cy="985.43" r="5.0" fill="#80cc80" stroke="#000" stroke-opacity="0.8" stroke-width="1.25"/>
<circle cx="817.66" cy="991.92" r="5.0" fill="#80cc80" stroke="#000" stroke-opacity="0.8" stroke-width="1.25"/>
<circle cx="826.4" cy="997.42" r="5.0" fill="#80cc80" stroke="#000" stroke-opacity="0.8" stroke-width="1.25"/>
<circle cx="828.15" cy="1002.41" r="5.0" fill="#80cc80" stroke="#000" stroke-opacity="0.8" stroke-width="1.25"/>
<circle cx="841.88" cy="1001.91" r="5.0" fill="#80cc80" stroke="#000" stroke-opacity="0.8" stroke-width="1.25"/>
<circle cx="845.63" cy="994.42" r="5.0" fill="#80cc80" stroke="#000" stroke-opacity="0.8" stroke-width="1.25"/>
<circle cx="806.42" cy="1001.16" r="5.0" fill="#80cc80" stroke="#000" stroke-opacity="0.8" stroke-width="1.25"/>
<circle cx="811.41" cy="1009.91" r="5.0" fill="#80cc80" stroke="#000" stroke-opacity="0.8" stroke-width="1.25"/>
<circle cx="801.92" cy="1012.4" r="5.0" fill="#80cc80" stroke="#000" stroke-opacity="0.8" stroke-width="1.25"/>
<circle cx="795.68" cy="1019.4" r="5.0" fill="#80cc80" stroke="#000" stroke-opacity="0.8" stroke-width="1.25"/>
<circle cx="806.92" cy="1026.89" r="5.0" fill="#80cc80" stroke="#000" stroke-opacity="0.8" stroke-width="1.25"/>
<circle cx="821.4" cy="1204.71" r="5.0" fill="#80cc80" stroke="#000" stroke-opacity="0.8" stroke-width="1.25"/>
<circle cx="640.84" cy="1206.71" r="5.0" fill="#80cc80" stroke="#000" stroke-opacity="0.8" stroke-width="1.25"/>
<circle cx="647.08" cy="1212.2" r="5.0" fill="#80cc80" stroke="#000" stroke-opacity="0.8" stroke-width="1.25"/>
<circle cx="663.31" cy="1204.71" r="5.0" fill="#80cc80" stroke="#000" stroke-opacity="0.8" stroke-width="1.25"/>
<circle cx="612.11" cy="1235.18" r="5.0" fill="#80cc80" stroke="#000" stroke-opacity="0.8" stroke-width="1.25"/>
<circle cx="652.57" cy="1264.15" r="5.0" fill="#80cc80" stroke="#000" stroke-opacity="0.8" stroke-width="1.25"/>
<circle cx="633.34" cy="1272.14" r="5.0" fill="#80cc80" stroke="#000" stroke-opacity="0.8" stroke-width="1.25"/>
<path d="M549.2 935.3 V1288.2 H901" fill="none" stroke="#000" stroke-width="1.9"/>
<line x1="543.7" y1="1279.4" x2="549.2" y2="1279.4" stroke="#333" stroke-width="1.5"/>
<text x="538.7" y="1285.8" font-size="18" fill="#4d4d4d" stroke="#4d4d4d" stroke-width="0.25" text-anchor="end">−4</text>
<line x1="543.7" y1="1195" x2="549.2" y2="1195" stroke="#333" stroke-width="1.5"/>
<text x="538.7" y="1201.4" font-size="18" fill="#4d4d4d" stroke="#4d4d4d" stroke-width="0.25" text-anchor="end">−2</text>
<line x1="543.7" y1="1110.6" x2="549.2" y2="1110.6" stroke="#333" stroke-width="1.5"/>
<text x="538.7" y="1117" font-size="18" fill="#4d4d4d" stroke="#4d4d4d" stroke-width="0.25" text-anchor="end">0</text>
<line x1="543.7" y1="1026.2" x2="549.2" y2="1026.2" stroke="#333" stroke-width="1.5"/>
<text x="538.7" y="1032.6" font-size="18" fill="#4d4d4d" stroke="#4d4d4d" stroke-width="0.25" text-anchor="end">2</text>
<line x1="543.7" y1="941.8" x2="549.2" y2="941.8" stroke="#333" stroke-width="1.5"/>
<text x="538.7" y="948.2" font-size="18" fill="#4d4d4d" stroke="#4d4d4d" stroke-width="0.25" text-anchor="end">4</text>
<line x1="556.5" y1="1288.2" x2="556.5" y2="1293.7" stroke="#333" stroke-width="1.5"/>
<text x="556.5" y="1310.8" font-size="18" fill="#4d4d4d" stroke="#4d4d4d" stroke-width="0.25" text-anchor="middle">−6</text>
<line x1="644.85" y1="1288.2" x2="644.85" y2="1293.7" stroke="#333" stroke-width="1.5"/>
<text x="644.85" y="1310.8" font-size="18" fill="#4d4d4d" stroke="#4d4d4d" stroke-width="0.25" text-anchor="middle">−3</text>
<line x1="733.2" y1="1288.2" x2="733.2" y2="1293.7" stroke="#333" stroke-width="1.5"/>
<text x="733.2" y="1310.8" font-size="18" fill="#4d4d4d" stroke="#4d4d4d" stroke-width="0.25" text-anchor="middle">0</text>
<line x1="821.55" y1="1288.2" x2="821.55" y2="1293.7" stroke="#333" stroke-width="1.5"/>
<text x="821.55" y="1310.8" font-size="18" fill="#4d4d4d" stroke="#4d4d4d" stroke-width="0.25" text-anchor="middle">3</text>
<text x="725.1" y="1339" font-size="22" text-anchor="middle" fill="#000" stroke="#000" stroke-width="0.2">β<tspan font-size="16" dy="4">choice</tspan><tspan dy="-4" font-size="26">(</tspan><tspan>t</tspan><tspan dx="4.3">−</tspan><tspan dx="3.9">stat</tspan><tspan font-size="26">)</tspan></text>
<text transform="translate(503.2,1111.75) rotate(-90)" x="0" y="0" font-size="22" text-anchor="middle" fill="#000" stroke="#000" stroke-width="0.2">β<tspan font-size="16" dy="4">lottery</tspan><tspan dy="-4" font-size="26">(</tspan><tspan>t</tspan><tspan dx="4.3">−</tspan><tspan dx="3.9">stat</tspan><tspan font-size="26">)</tspan></text>
</g>
<g>
<line x1="1600.4" y1="1126" x2="1951.8" y2="1126" stroke="#8a8a8a" stroke-width="1.2" stroke-dasharray="7,5"/>
<line x1="1812.7" y1="935.3" x2="1812.7" y2="1288.2" stroke="#8a8a8a" stroke-width="1.2" stroke-dasharray="7,5"/>
<circle cx="1810.86" cy="1119.42" r="5.0" fill="#e9e9e9" stroke="#000" stroke-width="1.25"/>
<circle cx="1831.68" cy="1086.81" r="5.0" fill="#e9e9e9" stroke="#000" stroke-width="1.25"/>
<circle cx="1831.38" cy="1079.28" r="5.0" fill="#e9e9e9" stroke="#000" stroke-width="1.25"/>
<circle cx="1824.12" cy="1148.55" r="5.0" fill="#e9e9e9" stroke="#000" stroke-width="1.25"/>
<circle cx="1828.33" cy="1127.02" r="5.0" fill="#e9e9e9" stroke="#000" stroke-width="1.25"/>
<circle cx="1801.48" cy="1144.76" r="5.0" fill="#e9e9e9" stroke="#000" stroke-width="1.25"/>
<circle cx="1811.98" cy="1092.2" r="5.0" fill="#e9e9e9" stroke="#000" stroke-width="1.25"/>
<circle cx="1803.31" cy="1147.47" r="5.0" fill="#e9e9e9" stroke="#000" stroke-width="1.25"/>
<circle cx="1812.03" cy="1085.26" r="5.0" fill="#e9e9e9" stroke="#000" stroke-width="1.25"/>
<circle cx="1823.99" cy="1078.57" r="5.0" fill="#e9e9e9" stroke="#000" stroke-width="1.25"/>
<circle cx="1826.68" cy="1112.55" r="5.0" fill="#e9e9e9" stroke="#000" stroke-width="1.25"/>
<circle cx="1819.71" cy="1146.26" r="5.0" fill="#e9e9e9" stroke="#000" stroke-width="1.25"/>
<circle cx="1820.42" cy="1117.59" r="5.0" fill="#e9e9e9" stroke="#000" stroke-width="1.25"/>
<circle cx="1821.53" cy="1134.59" r="5.0" fill="#e9e9e9" stroke="#000" stroke-width="1.25"/>
<circle cx="1820.43" cy="1090.62" r="5.0" fill="#e9e9e9" stroke="#000" stroke-width="1.25"/>
<circle cx="1808.61" cy="1094.19" r="5.0" fill="#e9e9e9" stroke="#000" stroke-width="1.25"/>
<circle cx="1822.35" cy="1150.8" r="5.0" fill="#e9e9e9" stroke="#000" stroke-width="1.25"/>
<circle cx="1789.35" cy="1139.85" r="5.0" fill="#e9e9e9" stroke="#000" stroke-width="1.25"/>
<circle cx="1827.01" cy="1095.38" r="5.0" fill="#e9e9e9" stroke="#000" stroke-width="1.25"/>
<circle cx="1829.17" cy="1097.77" r="5.0" fill="#e9e9e9" stroke="#000" stroke-width="1.25"/>
<circle cx="1812.48" cy="1132.08" r="5.0" fill="#e9e9e9" stroke="#000" stroke-width="1.25"/>
<circle cx="1810.81" cy="1163.77" r="5.0" fill="#e9e9e9" stroke="#000" stroke-width="1.25"/>
<circle cx="1813.31" cy="1153.1" r="5.0" fill="#e9e9e9" stroke="#000" stroke-width="1.25"/>
<circle cx="1807.76" cy="1169.73" r="5.0" fill="#e9e9e9" stroke="#000" stroke-width="1.25"/>
<circle cx="1799.51" cy="1163.05" r="5.0" fill="#e9e9e9" stroke="#000" stroke-width="1.25"/>
<circle cx="1835.99" cy="1081.41" r="5.0" fill="#e9e9e9" stroke="#000" stroke-width="1.25"/>
<circle cx="1798.02" cy="1114.96" r="5.0" fill="#e9e9e9" stroke="#000" stroke-width="1.25"/>
<circle cx="1801.57" cy="1107.43" r="5.0" fill="#e9e9e9" stroke="#000" stroke-width="1.25"/>
<circle cx="1789.46" cy="1164.16" r="5.0" fill="#e9e9e9" stroke="#000" stroke-width="1.25"/>
<circle cx="1815.63" cy="1142.46" r="5.0" fill="#e9e9e9" stroke="#000" stroke-width="1.25"/>
<circle cx="1833.06" cy="1126.26" r="5.0" fill="#e9e9e9" stroke="#000" stroke-width="1.25"/>
<circle cx="1804.05" cy="1115.13" r="5.0" fill="#e9e9e9" stroke="#000" stroke-width="1.25"/>
<circle cx="1797.25" cy="1145.87" r="5.0" fill="#e9e9e9" stroke="#000" stroke-width="1.25"/>
<circle cx="1796.04" cy="1132.54" r="5.0" fill="#e9e9e9" stroke="#000" stroke-width="1.25"/>
<circle cx="1808.42" cy="1125.77" r="5.0" fill="#e9e9e9" stroke="#000" stroke-width="1.25"/>
<circle cx="1832.92" cy="1097.06" r="5.0" fill="#e9e9e9" stroke="#000" stroke-width="1.25"/>
<circle cx="1813.21" cy="1095.34" r="5.0" fill="#e9e9e9" stroke="#000" stroke-width="1.25"/>
<circle cx="1815.41" cy="1084.24" r="5.0" fill="#e9e9e9" stroke="#000" stroke-width="1.25"/>
<circle cx="1820.97" cy="1085.7" r="5.0" fill="#e9e9e9" stroke="#000" stroke-width="1.25"/>
<circle cx="1816.52" cy="1119.66" r="5.0" fill="#e9e9e9" stroke="#000" stroke-width="1.25"/>
<circle cx="1817.8" cy="1125.64" r="5.0" fill="#e9e9e9" stroke="#000" stroke-width="1.25"/>
<circle cx="1806.16" cy="1160.67" r="5.0" fill="#e9e9e9" stroke="#000" stroke-width="1.25"/>
<circle cx="1823.78" cy="1132.03" r="5.0" fill="#e9e9e9" stroke="#000" stroke-width="1.25"/>
<circle cx="1800.23" cy="1140.29" r="5.0" fill="#e9e9e9" stroke="#000" stroke-width="1.25"/>
<circle cx="1816.74" cy="1096.29" r="5.0" fill="#e9e9e9" stroke="#000" stroke-width="1.25"/>
<circle cx="1815.11" cy="1099.33" r="5.0" fill="#e9e9e9" stroke="#000" stroke-width="1.25"/>
<circle cx="1828.3" cy="1109.18" r="5.0" fill="#e9e9e9" stroke="#000" stroke-width="1.25"/>
<circle cx="1814.37" cy="1081.46" r="5.0" fill="#e9e9e9" stroke="#000" stroke-width="1.25"/>
<circle cx="1798.16" cy="1120.19" r="5.0" fill="#e9e9e9" stroke="#000" stroke-width="1.25"/>
<circle cx="1805.63" cy="1143.01" r="5.0" fill="#e9e9e9" stroke="#000" stroke-width="1.25"/>
<circle cx="1794.57" cy="1115.08" r="5.0" fill="#e9e9e9" stroke="#000" stroke-width="1.25"/>
<circle cx="1838.9" cy="1111.5" r="5.0" fill="#e9e9e9" stroke="#000" stroke-width="1.25"/>
<circle cx="1833.03" cy="1129.35" r="5.0" fill="#e9e9e9" stroke="#000" stroke-width="1.25"/>
<circle cx="1801.24" cy="1111.88" r="5.0" fill="#e9e9e9" stroke="#000" stroke-width="1.25"/>
<circle cx="1806.8" cy="1128.6" r="5.0" fill="#e9e9e9" stroke="#000" stroke-width="1.25"/>
<circle cx="1804.88" cy="1157.8" r="5.0" fill="#e9e9e9" stroke="#000" stroke-width="1.25"/>
<circle cx="1801.87" cy="1164.72" r="5.0" fill="#e9e9e9" stroke="#000" stroke-width="1.25"/>
<circle cx="1828.23" cy="1073.75" r="5.0" fill="#e9e9e9" stroke="#000" stroke-width="1.25"/>
<circle cx="1823.13" cy="1107.09" r="5.0" fill="#e9e9e9" stroke="#000" stroke-width="1.25"/>
<circle cx="1814.79" cy="1158.77" r="5.0" fill="#e9e9e9" stroke="#000" stroke-width="1.25"/>
<circle cx="1795.14" cy="1151.23" r="5.0" fill="#e9e9e9" stroke="#000" stroke-width="1.25"/>
<circle cx="1831.11" cy="1109.02" r="5.0" fill="#e9e9e9" stroke="#000" stroke-width="1.25"/>
<circle cx="1827.63" cy="1088.59" r="5.0" fill="#e9e9e9" stroke="#000" stroke-width="1.25"/>
<circle cx="1787.53" cy="1152.1" r="5.0" fill="#e9e9e9" stroke="#000" stroke-width="1.25"/>
<circle cx="1825.98" cy="1118.39" r="5.0" fill="#e9e9e9" stroke="#000" stroke-width="1.25"/>
<circle cx="1803.92" cy="1096.63" r="5.0" fill="#e9e9e9" stroke="#000" stroke-width="1.25"/>
<circle cx="1819.77" cy="1141.92" r="5.0" fill="#e9e9e9" stroke="#000" stroke-width="1.25"/>
<circle cx="1810.24" cy="1152.23" r="5.0" fill="#e9e9e9" stroke="#000" stroke-width="1.25"/>
<circle cx="1839.66" cy="1098.2" r="5.0" fill="#e9e9e9" stroke="#000" stroke-width="1.25"/>
<circle cx="1804.29" cy="1121.92" r="5.0" fill="#e9e9e9" stroke="#000" stroke-width="1.25"/>
<circle cx="1812.94" cy="1148.67" r="5.0" fill="#e9e9e9" stroke="#000" stroke-width="1.25"/>
<circle cx="1821.12" cy="1153.64" r="5.0" fill="#e9e9e9" stroke="#000" stroke-width="1.25"/>
<circle cx="1790.5" cy="1157.91" r="5.0" fill="#e9e9e9" stroke="#000" stroke-width="1.25"/>
<circle cx="1816.48" cy="1103.38" r="5.0" fill="#e9e9e9" stroke="#000" stroke-width="1.25"/>
<circle cx="1825.29" cy="1115.23" r="5.0" fill="#e9e9e9" stroke="#000" stroke-width="1.25"/>
<circle cx="1799.86" cy="1168.19" r="5.0" fill="#e9e9e9" stroke="#000" stroke-width="1.25"/>
<circle cx="1816.76" cy="1111.07" r="5.0" fill="#e9e9e9" stroke="#000" stroke-width="1.25"/>
<circle cx="1831.96" cy="1091.76" r="5.0" fill="#e9e9e9" stroke="#000" stroke-width="1.25"/>
<circle cx="1820.35" cy="1081.29" r="5.0" fill="#e9e9e9" stroke="#000" stroke-width="1.25"/>
<circle cx="1813.39" cy="1125.28" r="5.0" fill="#e9e9e9" stroke="#000" stroke-width="1.25"/>
<circle cx="1794.07" cy="1171.39" r="5.0" fill="#e9e9e9" stroke="#000" stroke-width="1.25"/>
<circle cx="1813.18" cy="1139.66" r="5.0" fill="#e9e9e9" stroke="#000" stroke-width="1.25"/>
<circle cx="1788.4" cy="1161.25" r="5.0" fill="#e9e9e9" stroke="#000" stroke-width="1.25"/>
<circle cx="1826.12" cy="1124.23" r="5.0" fill="#e9e9e9" stroke="#000" stroke-width="1.25"/>
<circle cx="1794.31" cy="1147.95" r="5.0" fill="#e9e9e9" stroke="#000" stroke-width="1.25"/>
<circle cx="1807.74" cy="1101.78" r="5.0" fill="#e9e9e9" stroke="#000" stroke-width="1.25"/>
<circle cx="1835.65" cy="1109.13" r="5.0" fill="#e9e9e9" stroke="#000" stroke-width="1.25"/>
<circle cx="1798.85" cy="1132.49" r="5.0" fill="#e9e9e9" stroke="#000" stroke-width="1.25"/>
<circle cx="1817.26" cy="1133.02" r="5.0" fill="#e9e9e9" stroke="#000" stroke-width="1.25"/>
<circle cx="1835.05" cy="1113.67" r="5.0" fill="#e9e9e9" stroke="#000" stroke-width="1.25"/>
<circle cx="1820.98" cy="1098.36" r="5.0" fill="#e9e9e9" stroke="#000" stroke-width="1.25"/>
<circle cx="1800.74" cy="1099.68" r="5.0" fill="#e9e9e9" stroke="#000" stroke-width="1.25"/>
<circle cx="1793.74" cy="1138.36" r="5.0" fill="#e9e9e9" stroke="#000" stroke-width="1.25"/>
<circle cx="1805.37" cy="1118.71" r="5.0" fill="#e9e9e9" stroke="#000" stroke-width="1.25"/>
<circle cx="1808.1" cy="1141.18" r="5.0" fill="#e9e9e9" stroke="#000" stroke-width="1.25"/>
<circle cx="1791.32" cy="1143.78" r="5.0" fill="#e9e9e9" stroke="#000" stroke-width="1.25"/>
<circle cx="1832.63" cy="1104.14" r="5.0" fill="#e9e9e9" stroke="#000" stroke-width="1.25"/>
<circle cx="1792.71" cy="1162.02" r="5.0" fill="#e9e9e9" stroke="#000" stroke-width="1.25"/>
<circle cx="1803.66" cy="1137.44" r="5.0" fill="#e9e9e9" stroke="#000" stroke-width="1.25"/>
<circle cx="1834.53" cy="1088.98" r="5.0" fill="#e9e9e9" stroke="#000" stroke-width="1.25"/>
<circle cx="1858.17" cy="1079.84" r="5.0" fill="#4cafd4" stroke="#000" stroke-opacity="0.8" stroke-width="1.25"/>
<circle cx="1858.17" cy="1084.83" r="5.0" fill="#4cafd4" stroke="#000" stroke-opacity="0.8" stroke-width="1.25"/>
<circle cx="1844.43" cy="1089.83" r="5.0" fill="#4cafd4" stroke="#000" stroke-opacity="0.8" stroke-width="1.25"/>
<circle cx="1838.19" cy="1094.32" r="5.0" fill="#4cafd4" stroke="#000" stroke-opacity="0.8" stroke-width="1.25"/>
<circle cx="1845.68" cy="1097.32" r="5.0" fill="#4cafd4" stroke="#000" stroke-opacity="0.8" stroke-width="1.25"/>
<circle cx="1850.68" cy="1094.82" r="5.0" fill="#4cafd4" stroke="#000" stroke-opacity="0.8" stroke-width="1.25"/>
<circle cx="1851.92" cy="1101.06" r="5.0" fill="#4cafd4" stroke="#000" stroke-opacity="0.8" stroke-width="1.25"/>
<circle cx="1841.93" cy="1112.3" r="5.0" fill="#4cafd4" stroke="#000" stroke-opacity="0.8" stroke-width="1.25"/>
<circle cx="1849.43" cy="1108.56" r="5.0" fill="#4cafd4" stroke="#000" stroke-opacity="0.8" stroke-width="1.25"/>
<circle cx="1868.16" cy="1087.33" r="5.0" fill="#4cafd4" stroke="#000" stroke-opacity="0.8" stroke-width="1.25"/>
<circle cx="1875.15" cy="1081.08" r="5.0" fill="#4cafd4" stroke="#000" stroke-opacity="0.8" stroke-width="1.25"/>
<circle cx="1876.9" cy="1085.33" r="5.0" fill="#4cafd4" stroke="#000" stroke-opacity="0.8" stroke-width="1.25"/>
<circle cx="1878.15" cy="1078.59" r="5.0" fill="#4cafd4" stroke="#000" stroke-opacity="0.8" stroke-width="1.25"/>
<circle cx="1897.63" cy="1076.84" r="5.0" fill="#4cafd4" stroke="#000" stroke-opacity="0.8" stroke-width="1.25"/>
<circle cx="1896.88" cy="1092.32" r="5.0" fill="#4cafd4" stroke="#000" stroke-opacity="0.8" stroke-width="1.25"/>
<circle cx="1893.13" cy="1096.82" r="5.0" fill="#4cafd4" stroke="#000" stroke-opacity="0.8" stroke-width="1.25"/>
<circle cx="1906.87" cy="1089.83" r="5.0" fill="#4cafd4" stroke="#000" stroke-opacity="0.8" stroke-width="1.25"/>
<circle cx="1933.09" cy="1091.82" r="5.0" fill="#4cafd4" stroke="#000" stroke-opacity="0.8" stroke-width="1.25"/>
<circle cx="1935.59" cy="1112.8" r="5.0" fill="#4cafd4" stroke="#000" stroke-opacity="0.8" stroke-width="1.25"/>
<circle cx="1865.66" cy="1107.31" r="5.0" fill="#4cafd4" stroke="#000" stroke-opacity="0.8" stroke-width="1.25"/>
<circle cx="1876.9" cy="1105.31" r="5.0" fill="#4cafd4" stroke="#000" stroke-opacity="0.8" stroke-width="1.25"/>
<circle cx="1883.14" cy="1100.31" r="5.0" fill="#4cafd4" stroke="#000" stroke-opacity="0.8" stroke-width="1.25"/>
<circle cx="1886.89" cy="1109.06" r="5.0" fill="#4cafd4" stroke="#000" stroke-opacity="0.8" stroke-width="1.25"/>
<circle cx="1878.9" cy="1116.05" r="5.0" fill="#4cafd4" stroke="#000" stroke-opacity="0.8" stroke-width="1.25"/>
<circle cx="1881.89" cy="1122.29" r="5.0" fill="#4cafd4" stroke="#000" stroke-opacity="0.8" stroke-width="1.25"/>
<circle cx="1889.39" cy="1120.29" r="5.0" fill="#4cafd4" stroke="#000" stroke-opacity="0.8" stroke-width="1.25"/>
<circle cx="1891.88" cy="1114.8" r="5.0" fill="#4cafd4" stroke="#000" stroke-opacity="0.8" stroke-width="1.25"/>
<circle cx="1903.12" cy="1119.3" r="5.0" fill="#4cafd4" stroke="#000" stroke-opacity="0.8" stroke-width="1.25"/>
<circle cx="1906.87" cy="1116.05" r="5.0" fill="#4cafd4" stroke="#000" stroke-opacity="0.8" stroke-width="1.25"/>
<circle cx="1924.35" cy="1125.54" r="5.0" fill="#4cafd4" stroke="#000" stroke-opacity="0.8" stroke-width="1.25"/>
<circle cx="1865.66" cy="1123.54" r="5.0" fill="#4cafd4" stroke="#000" stroke-opacity="0.8" stroke-width="1.25"/>
<circle cx="1871.9" cy="1130.28" r="5.0" fill="#4cafd4" stroke="#000" stroke-opacity="0.8" stroke-width="1.25"/>
<circle cx="1866.41" cy="1134.28" r="5.0" fill="#4cafd4" stroke="#000" stroke-opacity="0.8" stroke-width="1.25"/>
<circle cx="1872.65" cy="1135.53" r="5.0" fill="#4cafd4" stroke="#000" stroke-opacity="0.8" stroke-width="1.25"/>
<circle cx="1860.67" cy="1139.78" r="5.0" fill="#4cafd4" stroke="#000" stroke-opacity="0.8" stroke-width="1.25"/>
<circle cx="1863.16" cy="1144.27" r="5.0" fill="#4cafd4" stroke="#000" stroke-opacity="0.8" stroke-width="1.25"/>
<circle cx="1865.66" cy="1149.27" r="5.0" fill="#4cafd4" stroke="#000" stroke-opacity="0.8" stroke-width="1.25"/>
<circle cx="1876.9" cy="1152.26" r="5.0" fill="#4cafd4" stroke="#000" stroke-opacity="0.8" stroke-width="1.25"/>
<circle cx="1866.91" cy="1161.75" r="5.0" fill="#4cafd4" stroke="#000" stroke-opacity="0.8" stroke-width="1.25"/>
<circle cx="1848.18" cy="1147.27" r="5.0" fill="#4cafd4" stroke="#000" stroke-opacity="0.8" stroke-width="1.25"/>
<circle cx="1853.17" cy="1149.77" r="5.0" fill="#4cafd4" stroke="#000" stroke-opacity="0.8" stroke-width="1.25"/>
<circle cx="1839.44" cy="1135.28" r="5.0" fill="#4cafd4" stroke="#000" stroke-opacity="0.8" stroke-width="1.25"/>
<circle cx="1762.01" cy="1108.06" r="5.0" fill="#4cafd4" stroke="#000" stroke-opacity="0.8" stroke-width="1.25"/>
<circle cx="1774" cy="1110.55" r="5.0" fill="#4cafd4" stroke="#000" stroke-opacity="0.8" stroke-width="1.25"/>
<circle cx="1773.25" cy="1114.8" r="5.0" fill="#4cafd4" stroke="#000" stroke-opacity="0.8" stroke-width="1.25"/>
<circle cx="1763.26" cy="1124.29" r="5.0" fill="#4cafd4" stroke="#000" stroke-opacity="0.8" stroke-width="1.25"/>
<circle cx="1747.78" cy="1126.04" r="5.0" fill="#4cafd4" stroke="#000" stroke-opacity="0.8" stroke-width="1.25"/>
<circle cx="1755.77" cy="1129.79" r="5.0" fill="#4cafd4" stroke="#000" stroke-opacity="0.8" stroke-width="1.25"/>
<circle cx="1735.79" cy="1132.28" r="5.0" fill="#4cafd4" stroke="#000" stroke-opacity="0.8" stroke-width="1.25"/>
<circle cx="1753.27" cy="1138.03" r="5.0" fill="#4cafd4" stroke="#000" stroke-opacity="0.8" stroke-width="1.25"/>
<circle cx="1759.52" cy="1141.02" r="5.0" fill="#4cafd4" stroke="#000" stroke-opacity="0.8" stroke-width="1.25"/>
<circle cx="1698.33" cy="1142.27" r="5.0" fill="#4cafd4" stroke="#000" stroke-opacity="0.8" stroke-width="1.25"/>
<circle cx="1698.33" cy="1148.52" r="5.0" fill="#4cafd4" stroke="#000" stroke-opacity="0.8" stroke-width="1.25"/>
<circle cx="1697.08" cy="1157.26" r="5.0" fill="#4cafd4" stroke="#000" stroke-opacity="0.8" stroke-width="1.25"/>
<circle cx="1654.12" cy="1142.27" r="5.0" fill="#4cafd4" stroke="#000" stroke-opacity="0.8" stroke-width="1.25"/>
<circle cx="1615.91" cy="1151.76" r="5.0" fill="#4cafd4" stroke="#000" stroke-opacity="0.8" stroke-width="1.25"/>
<circle cx="1620.91" cy="1172.24" r="5.0" fill="#4cafd4" stroke="#000" stroke-opacity="0.8" stroke-width="1.25"/>
<circle cx="1680.85" cy="1173.49" r="5.0" fill="#4cafd4" stroke="#000" stroke-opacity="0.8" stroke-width="1.25"/>
<circle cx="1714.56" cy="1152.26" r="5.0" fill="#4cafd4" stroke="#000" stroke-opacity="0.8" stroke-width="1.25"/>
<circle cx="1717.06" cy="1153.51" r="5.0" fill="#4cafd4" stroke="#000" stroke-opacity="0.8" stroke-width="1.25"/>
<circle cx="1725.8" cy="1147.27" r="5.0" fill="#4cafd4" stroke="#000" stroke-opacity="0.8" stroke-width="1.25"/>
<circle cx="1740.79" cy="1146.02" r="5.0" fill="#4cafd4" stroke="#000" stroke-opacity="0.8" stroke-width="1.25"/>
<circle cx="1742.03" cy="1152.76" r="5.0" fill="#4cafd4" stroke="#000" stroke-opacity="0.8" stroke-width="1.25"/>
<circle cx="1739.54" cy="1154.76" r="5.0" fill="#4cafd4" stroke="#000" stroke-opacity="0.8" stroke-width="1.25"/>
<circle cx="1757.02" cy="1157.26" r="5.0" fill="#4cafd4" stroke="#000" stroke-opacity="0.8" stroke-width="1.25"/>
<circle cx="1760.77" cy="1157.26" r="5.0" fill="#4cafd4" stroke="#000" stroke-opacity="0.8" stroke-width="1.25"/>
<circle cx="1732.04" cy="1162.25" r="5.0" fill="#4cafd4" stroke="#000" stroke-opacity="0.8" stroke-width="1.25"/>
<circle cx="1745.78" cy="1173.99" r="5.0" fill="#4cafd4" stroke="#000" stroke-opacity="0.8" stroke-width="1.25"/>
<circle cx="1714.56" cy="1169.75" r="5.0" fill="#4cafd4" stroke="#000" stroke-opacity="0.8" stroke-width="1.25"/>
<circle cx="1774.5" cy="1162.25" r="5.0" fill="#4cafd4" stroke="#000" stroke-opacity="0.8" stroke-width="1.25"/>
<circle cx="1775.75" cy="1172.24" r="5.0" fill="#4cafd4" stroke="#000" stroke-opacity="0.8" stroke-width="1.25"/>
<circle cx="1775.75" cy="1174.74" r="5.0" fill="#4cafd4" stroke="#000" stroke-opacity="0.8" stroke-width="1.25"/>
<circle cx="1785.74" cy="1162.25" r="5.0" fill="#4cafd4" stroke="#000" stroke-opacity="0.8" stroke-width="1.25"/>
<circle cx="1777" cy="1144.77" r="5.0" fill="#4cafd4" stroke="#000" stroke-opacity="0.8" stroke-width="1.25"/>
<circle cx="1783.24" cy="1149.77" r="5.0" fill="#4cafd4" stroke="#000" stroke-opacity="0.8" stroke-width="1.25"/>
<circle cx="1781.99" cy="1143.52" r="5.0" fill="#4cafd4" stroke="#000" stroke-opacity="0.8" stroke-width="1.25"/>
<circle cx="1825.7" cy="951.21" r="5.0" fill="#ee8a75" stroke="#000" stroke-opacity="0.8" stroke-width="1.25"/>
<circle cx="1809.47" cy="1034.38" r="5.0" fill="#ee8a75" stroke="#000" stroke-opacity="0.8" stroke-width="1.25"/>
<circle cx="1836.19" cy="1046.87" r="5.0" fill="#ee8a75" stroke="#000" stroke-opacity="0.8" stroke-width="1.25"/>
<circle cx="1824.45" cy="1073.59" r="5.0" fill="#ee8a75" stroke="#000" stroke-opacity="0.8" stroke-width="1.25"/>
<circle cx="1825.7" cy="1068.6" r="5.0" fill="#ee8a75" stroke="#000" stroke-opacity="0.8" stroke-width="1.25"/>
<circle cx="1833.19" cy="1064.85" r="5.0" fill="#ee8a75" stroke="#000" stroke-opacity="0.8" stroke-width="1.25"/>
<circle cx="1830.2" cy="1071.09" r="5.0" fill="#ee8a75" stroke="#000" stroke-opacity="0.8" stroke-width="1.25"/>
<circle cx="1801.97" cy="1186.48" r="5.0" fill="#ee8a75" stroke="#000" stroke-opacity="0.8" stroke-width="1.25"/>
<circle cx="1806.22" cy="1181.73" r="5.0" fill="#ee8a75" stroke="#000" stroke-opacity="0.8" stroke-width="1.25"/>
<circle cx="1786.99" cy="1272.14" r="5.0" fill="#ee8a75" stroke="#000" stroke-opacity="0.8" stroke-width="1.25"/>
<circle cx="1869.41" cy="992.92" r="5.0" fill="#80cc80" stroke="#000" stroke-opacity="0.8" stroke-width="1.25"/>
<circle cx="1870.16" cy="1010.65" r="5.0" fill="#80cc80" stroke="#000" stroke-opacity="0.8" stroke-width="1.25"/>
<circle cx="1873.65" cy="1015.4" r="5.0" fill="#80cc80" stroke="#000" stroke-opacity="0.8" stroke-width="1.25"/>
<circle cx="1851.92" cy="1018.65" r="5.0" fill="#80cc80" stroke="#000" stroke-opacity="0.8" stroke-width="1.25"/>
<circle cx="1855.17" cy="1020.39" r="5.0" fill="#80cc80" stroke="#000" stroke-opacity="0.8" stroke-width="1.25"/>
<circle cx="1864.41" cy="1026.89" r="5.0" fill="#80cc80" stroke="#000" stroke-opacity="0.8" stroke-width="1.25"/>
<circle cx="1865.66" cy="1028.64" r="5.0" fill="#80cc80" stroke="#000" stroke-opacity="0.8" stroke-width="1.25"/>
<circle cx="1846.43" cy="1032.38" r="5.0" fill="#80cc80" stroke="#000" stroke-opacity="0.8" stroke-width="1.25"/>
<circle cx="1851.92" cy="1034.38" r="5.0" fill="#80cc80" stroke="#000" stroke-opacity="0.8" stroke-width="1.25"/>
<circle cx="1858.17" cy="1036.88" r="5.0" fill="#80cc80" stroke="#000" stroke-opacity="0.8" stroke-width="1.25"/>
<circle cx="1843.18" cy="1042.37" r="5.0" fill="#80cc80" stroke="#000" stroke-opacity="0.8" stroke-width="1.25"/>
<circle cx="1862.66" cy="1044.87" r="5.0" fill="#80cc80" stroke="#000" stroke-opacity="0.8" stroke-width="1.25"/>
<circle cx="1888.14" cy="1043.62" r="5.0" fill="#80cc80" stroke="#000" stroke-opacity="0.8" stroke-width="1.25"/>
<circle cx="1893.13" cy="1049.37" r="5.0" fill="#80cc80" stroke="#000" stroke-opacity="0.8" stroke-width="1.25"/>
<circle cx="1850.68" cy="1053.61" r="5.0" fill="#80cc80" stroke="#000" stroke-opacity="0.8" stroke-width="1.25"/>
<circle cx="1856.92" cy="1051.86" r="5.0" fill="#80cc80" stroke="#000" stroke-opacity="0.8" stroke-width="1.25"/>
<circle cx="1861.91" cy="1053.11" r="5.0" fill="#80cc80" stroke="#000" stroke-opacity="0.8" stroke-width="1.25"/>
<circle cx="1876.9" cy="1057.86" r="5.0" fill="#80cc80" stroke="#000" stroke-opacity="0.8" stroke-width="1.25"/>
<circle cx="1841.93" cy="1060.6" r="5.0" fill="#80cc80" stroke="#000" stroke-opacity="0.8" stroke-width="1.25"/>
<circle cx="1848.18" cy="1063.6" r="5.0" fill="#80cc80" stroke="#000" stroke-opacity="0.8" stroke-width="1.25"/>
<circle cx="1853.17" cy="1064.85" r="5.0" fill="#80cc80" stroke="#000" stroke-opacity="0.8" stroke-width="1.25"/>
<circle cx="1860.67" cy="1064.85" r="5.0" fill="#80cc80" stroke="#000" stroke-opacity="0.8" stroke-width="1.25"/>
<circle cx="1879.4" cy="1066.1" r="5.0" fill="#80cc80" stroke="#000" stroke-opacity="0.8" stroke-width="1.25"/>
<circle cx="1885.64" cy="1070.34" r="5.0" fill="#80cc80" stroke="#000" stroke-opacity="0.8" stroke-width="1.25"/>
<circle cx="1894.38" cy="1063.1" r="5.0" fill="#80cc80" stroke="#000" stroke-opacity="0.8" stroke-width="1.25"/>
<circle cx="1900.63" cy="1067.85" r="5.0" fill="#80cc80" stroke="#000" stroke-opacity="0.8" stroke-width="1.25"/>
<circle cx="1904.87" cy="1061.1" r="5.0" fill="#80cc80" stroke="#000" stroke-opacity="0.8" stroke-width="1.25"/>
<circle cx="1903.62" cy="1069.85" r="5.0" fill="#80cc80" stroke="#000" stroke-opacity="0.8" stroke-width="1.25"/>
<circle cx="1859.42" cy="1072.34" r="5.0" fill="#80cc80" stroke="#000" stroke-opacity="0.8" stroke-width="1.25"/>
<circle cx="1841.93" cy="1074.84" r="5.0" fill="#80cc80" stroke="#000" stroke-opacity="0.8" stroke-width="1.25"/>
<circle cx="1764.51" cy="1057.86" r="5.0" fill="#80cc80" stroke="#000" stroke-opacity="0.8" stroke-width="1.25"/>
<circle cx="1767.01" cy="1175.99" r="5.0" fill="#80cc80" stroke="#000" stroke-opacity="0.8" stroke-width="1.25"/>
<circle cx="1778.25" cy="1177.24" r="5.0" fill="#80cc80" stroke="#000" stroke-opacity="0.8" stroke-width="1.25"/>
<circle cx="1763.26" cy="1185.98" r="5.0" fill="#80cc80" stroke="#000" stroke-opacity="0.8" stroke-width="1.25"/>
<circle cx="1770.76" cy="1184.73" r="5.0" fill="#80cc80" stroke="#000" stroke-opacity="0.8" stroke-width="1.25"/>
<circle cx="1777" cy="1184.73" r="5.0" fill="#80cc80" stroke="#000" stroke-opacity="0.8" stroke-width="1.25"/>
<circle cx="1783.24" cy="1183.48" r="5.0" fill="#80cc80" stroke="#000" stroke-opacity="0.8" stroke-width="1.25"/>
<circle cx="1779.5" cy="1192.22" r="5.0" fill="#80cc80" stroke="#000" stroke-opacity="0.8" stroke-width="1.25"/>
<circle cx="1764.51" cy="1193.47" r="5.0" fill="#80cc80" stroke="#000" stroke-opacity="0.8" stroke-width="1.25"/>
<circle cx="1759.52" cy="1198.47" r="5.0" fill="#80cc80" stroke="#000" stroke-opacity="0.8" stroke-width="1.25"/>
<circle cx="1772" cy="1199.72" r="5.0" fill="#80cc80" stroke="#000" stroke-opacity="0.8" stroke-width="1.25"/>
<circle cx="1765.76" cy="1200.96" r="5.0" fill="#80cc80" stroke="#000" stroke-opacity="0.8" stroke-width="1.25"/>
<circle cx="1774.5" cy="1203.46" r="5.0" fill="#80cc80" stroke="#000" stroke-opacity="0.8" stroke-width="1.25"/>
<circle cx="1758.27" cy="1208.46" r="5.0" fill="#80cc80" stroke="#000" stroke-opacity="0.8" stroke-width="1.25"/>
<circle cx="1662.86" cy="1178.49" r="5.0" fill="#80cc80" stroke="#000" stroke-opacity="0.8" stroke-width="1.25"/>
<circle cx="1707.57" cy="1178.49" r="5.0" fill="#80cc80" stroke="#000" stroke-opacity="0.8" stroke-width="1.25"/>
<circle cx="1737.79" cy="1183.98" r="5.0" fill="#80cc80" stroke="#000" stroke-opacity="0.8" stroke-width="1.25"/>
<circle cx="1645.88" cy="1205.21" r="5.0" fill="#80cc80" stroke="#000" stroke-opacity="0.8" stroke-width="1.25"/>
<circle cx="1662.11" cy="1229.19" r="5.0" fill="#80cc80" stroke="#000" stroke-opacity="0.8" stroke-width="1.25"/>
<circle cx="1717.06" cy="1222.69" r="5.0" fill="#80cc80" stroke="#000" stroke-opacity="0.8" stroke-width="1.25"/>
<circle cx="1724.55" cy="1222.94" r="5.0" fill="#80cc80" stroke="#000" stroke-opacity="0.8" stroke-width="1.25"/>
<circle cx="1755.77" cy="1247.17" r="5.0" fill="#80cc80" stroke="#000" stroke-opacity="0.8" stroke-width="1.25"/>
<path d="M1600.4 935.3 V1288.2 H1951.8" fill="none" stroke="#000" stroke-width="1.9"/>
<line x1="1594.9" y1="1225.88" x2="1600.4" y2="1225.88" stroke="#333" stroke-width="1.5"/>
<text x="1589.9" y="1232.28" font-size="18" fill="#4d4d4d" stroke="#4d4d4d" stroke-width="0.25" text-anchor="end">−4</text>
<line x1="1594.9" y1="1126" x2="1600.4" y2="1126" stroke="#333" stroke-width="1.5"/>
<text x="1589.9" y="1132.4" font-size="18" fill="#4d4d4d" stroke="#4d4d4d" stroke-width="0.25" text-anchor="end">0</text>
<line x1="1594.9" y1="1026.12" x2="1600.4" y2="1026.12" stroke="#333" stroke-width="1.5"/>
<text x="1589.9" y="1032.52" font-size="18" fill="#4d4d4d" stroke="#4d4d4d" stroke-width="0.25" text-anchor="end">4</text>
<line x1="1613.8" y1="1288.2" x2="1613.8" y2="1293.7" stroke="#333" stroke-width="1.5"/>
<text x="1613.8" y="1310.8" font-size="18" fill="#4d4d4d" stroke="#4d4d4d" stroke-width="0.25" text-anchor="middle">−15</text>
<line x1="1680.1" y1="1288.2" x2="1680.1" y2="1293.7" stroke="#333" stroke-width="1.5"/>
<text x="1680.1" y="1310.8" font-size="18" fill="#4d4d4d" stroke="#4d4d4d" stroke-width="0.25" text-anchor="middle">−10</text>
<line x1="1746.4" y1="1288.2" x2="1746.4" y2="1293.7" stroke="#333" stroke-width="1.5"/>
<text x="1746.4" y="1310.8" font-size="18" fill="#4d4d4d" stroke="#4d4d4d" stroke-width="0.25" text-anchor="middle">−5</text>
<line x1="1812.7" y1="1288.2" x2="1812.7" y2="1293.7" stroke="#333" stroke-width="1.5"/>
<text x="1812.7" y="1310.8" font-size="18" fill="#4d4d4d" stroke="#4d4d4d" stroke-width="0.25" text-anchor="middle">0</text>
<line x1="1879" y1="1288.2" x2="1879" y2="1293.7" stroke="#333" stroke-width="1.5"/>
<text x="1879" y="1310.8" font-size="18" fill="#4d4d4d" stroke="#4d4d4d" stroke-width="0.25" text-anchor="middle">5</text>
<line x1="1945.3" y1="1288.2" x2="1945.3" y2="1293.7" stroke="#333" stroke-width="1.5"/>
<text x="1945.3" y="1310.8" font-size="18" fill="#4d4d4d" stroke="#4d4d4d" stroke-width="0.25" text-anchor="middle">10</text>
<text x="1776.1" y="1339" font-size="22" text-anchor="middle" fill="#000" stroke="#000" stroke-width="0.2">β<tspan font-size="16" dy="4">choice</tspan><tspan dy="-4" font-size="26">(</tspan><tspan>t</tspan><tspan dx="4.3">−</tspan><tspan dx="3.9">stat</tspan><tspan font-size="26">)</tspan></text>
<text transform="translate(1554.4,1111.75) rotate(-90)" x="0" y="0" font-size="22" text-anchor="middle" fill="#000" stroke="#000" stroke-width="0.2">β<tspan font-size="16" dy="4">lottery</tspan><tspan dy="-4" font-size="26">(</tspan><tspan>t</tspan><tspan dx="4.3">−</tspan><tspan dx="3.9">stat</tspan><tspan font-size="26">)</tspan></text>
</g>
<circle cx="1845.3" cy="1218.2" r="4.9" fill="#e9e9e9" stroke="#000" stroke-opacity="0.85" stroke-width="1.1"/>
<text x="1863.4" y="1223.6" font-size="15.9" fill="#000" stroke="#000" stroke-width="0.15">non–selective</text>
<circle cx="1845.3" cy="1233.27" r="4.9" fill="#4cafd4" stroke="#000" stroke-opacity="0.85" stroke-width="1.1"/>
<text x="1863.4" y="1238.67" font-size="15.9" fill="#000" stroke="#000" stroke-width="0.15">choice–only</text>
<circle cx="1845.3" cy="1248.34" r="4.9" fill="#ee8a75" stroke="#000" stroke-opacity="0.85" stroke-width="1.1"/>
<text x="1863.4" y="1253.74" font-size="15.9" fill="#000" stroke="#000" stroke-width="0.15">lottery–only</text>
<circle cx="1845.3" cy="1263.41" r="4.9" fill="#80cc80" stroke="#000" stroke-opacity="0.85" stroke-width="1.1"/>
<text x="1863.4" y="1268.81" font-size="15.9" fill="#000" stroke="#000" stroke-width="0.15">both–selective</text>
<text x="1035.5" y="24.3" font-size="33.2" font-weight="bold" text-anchor="middle" fill="#000">a. FOF neurons, task variable coding by subject</text>
<text x="443.7" y="1474.8" font-size="33" font-weight="bold" text-anchor="middle" fill="#000">b. FOF neural response to lottery sounds</text>
<text x="443.7" y="1514.6" font-size="33" font-weight="bold" text-anchor="middle" fill="#000">in naïve animals</text>
<rect x="112.5" y="1964.26" width="33.4" height="50.64" fill="#fff" stroke="#000" stroke-width="1.6"/>
<rect x="112.5" y="1964.26" width="33.4" height="50.64" fill="#000" stroke="#000" stroke-width="1.6"/>
<rect x="154.5" y="1964.26" width="33.4" height="50.64" fill="#fff" stroke="#000" stroke-width="1.6"/>
<rect x="196" y="1989.58" width="33.4" height="25.32" fill="#fff" stroke="#000" stroke-width="1.6"/>
<rect x="237.1" y="1862.98" width="33.4" height="151.92" fill="#fff" stroke="#000" stroke-width="1.6"/>
<rect x="278.7" y="1888.3" width="33.4" height="126.6" fill="#fff" stroke="#000" stroke-width="1.6"/>
<rect x="319.8" y="1736.38" width="33.4" height="278.52" fill="#fff" stroke="#000" stroke-width="1.6"/>
<rect x="361.4" y="1685.74" width="33.4" height="329.16" fill="#fff" stroke="#000" stroke-width="1.6"/>
<rect x="402.9" y="1635.1" width="33.4" height="379.8" fill="#fff" stroke="#000" stroke-width="1.6"/>
<rect x="444.1" y="1711.06" width="33.4" height="303.84" fill="#fff" stroke="#000" stroke-width="1.6"/>
<rect x="485.6" y="1812.34" width="33.4" height="202.56" fill="#fff" stroke="#000" stroke-width="1.6"/>
<rect x="527.2" y="1812.34" width="33.4" height="202.56" fill="#fff" stroke="#000" stroke-width="1.6"/>
<rect x="568.3" y="1837.66" width="33.4" height="177.24" fill="#fff" stroke="#000" stroke-width="1.6"/>
<rect x="609.9" y="1913.62" width="33.4" height="101.28" fill="#fff" stroke="#000" stroke-width="1.6"/>
<rect x="651.4" y="1888.3" width="33.4" height="126.6" fill="#fff" stroke="#000" stroke-width="1.6"/>
<rect x="692.5" y="1888.3" width="33.4" height="126.6" fill="#fff" stroke="#000" stroke-width="1.6"/>
<rect x="692.5" y="1938.94" width="33.4" height="75.96" fill="#000" stroke="#000" stroke-width="1.6"/>
<rect x="734.1" y="1989.58" width="33.4" height="25.32" fill="#fff" stroke="#000" stroke-width="1.6"/>
<rect x="734.1" y="1989.58" width="33.4" height="25.32" fill="#000" stroke="#000" stroke-width="1.6"/>
<path d="M108.6 1538.6 V2014.9 H771.5" fill="none" stroke="#262626" stroke-width="1.7"/>
<line x1="96.5" y1="2014.9" x2="108.6" y2="2014.9" stroke="#262626" stroke-width="1.7"/>
<text x="86.5" y="2025.3" font-size="29" text-anchor="end" fill="#262626">0</text>
<line x1="96.5" y1="1888.3" x2="108.6" y2="1888.3" stroke="#262626" stroke-width="1.7"/>
<text x="86.5" y="1898.7" font-size="29" text-anchor="end" fill="#262626">5</text>
<line x1="96.5" y1="1761.7" x2="108.6" y2="1761.7" stroke="#262626" stroke-width="1.7"/>
<text x="86.5" y="1772.1" font-size="29" text-anchor="end" fill="#262626">10</text>
<line x1="96.5" y1="1635.1" x2="108.6" y2="1635.1" stroke="#262626" stroke-width="1.7"/>
<text x="86.5" y="1645.5" font-size="29" text-anchor="end" fill="#262626">15</text>
<line x1="155.3" y1="2014.9" x2="155.3" y2="2027.5" stroke="#262626" stroke-width="1.7"/>
<text x="155.3" y="2064.3" font-size="29" text-anchor="middle" fill="#262626">-2</text>
<line x1="293.8" y1="2014.9" x2="293.8" y2="2027.5" stroke="#262626" stroke-width="1.7"/>
<text x="293.8" y="2064.3" font-size="29" text-anchor="middle" fill="#262626">-1</text>
<line x1="432.3" y1="2014.9" x2="432.3" y2="2027.5" stroke="#262626" stroke-width="1.7"/>
<text x="432.3" y="2064.3" font-size="29" text-anchor="middle" fill="#262626">0</text>
<line x1="570.8" y1="2014.9" x2="570.8" y2="2027.5" stroke="#262626" stroke-width="1.7"/>
<text x="570.8" y="2064.3" font-size="29" text-anchor="middle" fill="#262626">1</text>
<line x1="709.3" y1="2014.9" x2="709.3" y2="2027.5" stroke="#262626" stroke-width="1.7"/>
<text x="709.3" y="2064.3" font-size="29" text-anchor="middle" fill="#262626">2</text>
<text transform="translate(39.3,1769.5) rotate(-90)" x="0" y="0" font-size="30" text-anchor="middle" fill="#262626"># of cells</text>
<text x="318.5" y="2100.5" font-size="30" font-style="italic" fill="#262626" font-family="Liberation Serif, serif">β</text>
<text x="343.5" y="2113.9" font-size="24" fill="#262626">Lottey value</text>
<text x="483" y="2100.5" font-size="29.2" fill="#262626">(tStat)</text>
<text x="1173.3" y="1504.8" font-size="33.1" font-weight="bold" fill="#000">c. Pseudopopulation shuffled label decoding</text>
<line x1="1131.3" y1="1679.8" x2="1131.3" y2="1939.5" stroke="#262626" stroke-width="5.6"/>
<rect x="1125.5" y="1676.9" width="11.6" height="5.8" fill="#262626"/>
<rect x="1125.5" y="1936.6" width="11.6" height="5.8" fill="#262626"/>
<line x1="1178.3" y1="1667.4" x2="1178.3" y2="1940.6" stroke="#262626" stroke-width="5.6"/>
<rect x="1172.5" y="1664.5" width="11.6" height="5.8" fill="#262626"/>
<rect x="1172.5" y="1937.7" width="11.6" height="5.8" fill="#262626"/>
<line x1="1225.4" y1="1631.6" x2="1225.4" y2="1944.5" stroke="#262626" stroke-width="5.6"/>
<rect x="1219.6" y="1628.7" width="11.6" height="5.8" fill="#262626"/>
<rect x="1219.6" y="1941.6" width="11.6" height="5.8" fill="#262626"/>
<line x1="1272.4" y1="1639" x2="1272.4" y2="1956.2" stroke="#262626" stroke-width="5.6"/>
<rect x="1266.6" y="1636.1" width="11.6" height="5.8" fill="#262626"/>
<rect x="1266.6" y="1953.3" width="11.6" height="5.8" fill="#262626"/>
<line x1="1319.8" y1="1630.5" x2="1319.8" y2="1960.9" stroke="#262626" stroke-width="5.6"/>
<rect x="1314" y="1627.6" width="11.6" height="5.8" fill="#262626"/>
<rect x="1314" y="1958" width="11.6" height="5.8" fill="#262626"/>
<line x1="1366.8" y1="1625.4" x2="1366.8" y2="1969.4" stroke="#262626" stroke-width="5.6"/>
<rect x="1361" y="1622.5" width="11.6" height="5.8" fill="#262626"/>
<rect x="1361" y="1966.5" width="11.6" height="5.8" fill="#262626"/>
<line x1="1414.3" y1="1620.8" x2="1414.3" y2="1981.1" stroke="#262626" stroke-width="5.6"/>
<rect x="1408.5" y="1617.9" width="11.6" height="5.8" fill="#262626"/>
<rect x="1408.5" y="1978.2" width="11.6" height="5.8" fill="#262626"/>
<polygon points="1119.4,1749.8 1143.2,1749.8 1143.2,1782.9 1138.7,1806.2 1143.2,1831.8 1143.2,1863.7 1119.4,1863.7 1119.4,1831.8 1123.9,1806.2 1119.4,1782.9" fill="#fff"/>
<polygon points="1119.4,1782.9 1143.2,1782.9 1138.7,1806.2 1143.2,1831.8 1119.4,1831.8 1123.9,1806.2" fill="#cde0f1"/>
<polygon points="1119.4,1749.8 1143.2,1749.8 1143.2,1782.9 1138.7,1806.2 1143.2,1831.8 1143.2,1863.7 1119.4,1863.7 1119.4,1831.8 1123.9,1806.2 1119.4,1782.9" fill="none" stroke="#0072BD" stroke-width="5.6" stroke-linejoin="miter"/>
<line x1="1123.9" y1="1806.2" x2="1138.7" y2="1806.2" stroke="#0072BD" stroke-width="5.6"/>
<polygon points="1166.4,1731.5 1190.2,1731.5 1190.2,1754.1 1185.7,1782.1 1190.2,1810.4 1190.2,1863.7 1166.4,1863.7 1166.4,1810.4 1170.9,1782.1 1166.4,1754.1" fill="#fff"/>
<polygon points="1166.4,1754.1 1190.2,1754.1 1185.7,1782.1 1190.2,1810.4 1166.4,1810.4 1170.9,1782.1" fill="#cde0f1"/>
<polygon points="1166.4,1731.5 1190.2,1731.5 1190.2,1754.1 1185.7,1782.1 1190.2,1810.4 1190.2,1863.7 1166.4,1863.7 1166.4,1810.4 1170.9,1782.1 1166.4,1754.1" fill="none" stroke="#0072BD" stroke-width="5.6" stroke-linejoin="miter"/>
<line x1="1170.9" y1="1782.1" x2="1185.7" y2="1782.1" stroke="#0072BD" stroke-width="5.6"/>
<polygon points="1213.5,1716.8 1237.3,1716.8 1237.3,1732.3 1232.8,1758 1237.3,1786 1237.3,1840.4 1213.5,1840.4 1213.5,1786 1218,1758 1213.5,1732.3" fill="#fff"/>
<polygon points="1213.5,1732.3 1237.3,1732.3 1232.8,1758 1237.3,1786 1213.5,1786 1218,1758" fill="#cde0f1"/>
<polygon points="1213.5,1716.8 1237.3,1716.8 1237.3,1732.3 1232.8,1758 1237.3,1786 1237.3,1840.4 1213.5,1840.4 1213.5,1786 1218,1758 1213.5,1732.3" fill="none" stroke="#0072BD" stroke-width="5.6" stroke-linejoin="miter"/>
<line x1="1218" y1="1758" x2="1232.8" y2="1758" stroke="#0072BD" stroke-width="5.6"/>
<polygon points="1260.5,1694.6 1284.3,1694.6 1284.3,1742.4 1279.8,1781.3 1284.3,1819 1284.3,1869.5 1260.5,1869.5 1260.5,1819 1265,1781.3 1260.5,1742.4" fill="#fff"/>
<polygon points="1260.5,1742.4 1284.3,1742.4 1279.8,1781.3 1284.3,1819 1260.5,1819 1265,1781.3" fill="#cde0f1"/>
<polygon points="1260.5,1694.6 1284.3,1694.6 1284.3,1742.4 1279.8,1781.3 1284.3,1819 1284.3,1869.5 1260.5,1869.5 1260.5,1819 1265,1781.3 1260.5,1742.4" fill="none" stroke="#0072BD" stroke-width="5.6" stroke-linejoin="miter"/>
<line x1="1265" y1="1781.3" x2="1279.8" y2="1781.3" stroke="#0072BD" stroke-width="5.6"/>
<polygon points="1307.9,1715.2 1331.7,1715.2 1331.7,1819 1327.2,1864.9 1331.7,1911.5 1331.7,1924.7 1307.9,1924.7 1307.9,1911.5 1312.4,1864.9 1307.9,1819" fill="#fff"/>
<polygon points="1307.9,1819 1331.7,1819 1327.2,1864.9 1331.7,1911.5 1307.9,1911.5 1312.4,1864.9" fill="#cde0f1"/>
<polygon points="1307.9,1715.2 1331.7,1715.2 1331.7,1819 1327.2,1864.9 1331.7,1911.5 1331.7,1924.7 1307.9,1924.7 1307.9,1911.5 1312.4,1864.9 1307.9,1819" fill="none" stroke="#0072BD" stroke-width="5.6" stroke-linejoin="miter"/>
<line x1="1312.4" y1="1864.9" x2="1327.2" y2="1864.9" stroke="#0072BD" stroke-width="5.6"/>
<polygon points="1354.9,1705.1 1378.7,1705.1 1378.7,1791.8 1374.2,1840.4 1378.7,1889.7 1378.7,1929.8 1354.9,1929.8 1354.9,1889.7 1359.4,1840.4 1354.9,1791.8" fill="#fff"/>
<polygon points="1354.9,1791.8 1378.7,1791.8 1374.2,1840.4 1378.7,1889.7 1354.9,1889.7 1359.4,1840.4" fill="#cde0f1"/>
<polygon points="1354.9,1705.1 1378.7,1705.1 1378.7,1791.8 1374.2,1840.4 1378.7,1889.7 1378.7,1929.8 1354.9,1929.8 1354.9,1889.7 1359.4,1840.4 1354.9,1791.8" fill="none" stroke="#0072BD" stroke-width="5.6" stroke-linejoin="miter"/>
<line x1="1359.4" y1="1840.4" x2="1374.2" y2="1840.4" stroke="#0072BD" stroke-width="5.6"/>
<polygon points="1402.4,1672.1 1426.2,1672.1 1426.2,1803.4 1421.7,1855.9 1426.2,1914.2 1426.2,1915 1402.4,1915 1402.4,1914.2 1406.9,1855.9 1402.4,1803.4" fill="#fff"/>
<polygon points="1402.4,1803.4 1426.2,1803.4 1421.7,1855.9 1426.2,1914.2 1402.4,1914.2 1406.9,1855.9" fill="#cde0f1"/>
<polygon points="1402.4,1672.1 1426.2,1672.1 1426.2,1803.4 1421.7,1855.9 1426.2,1914.2 1426.2,1915 1402.4,1915 1402.4,1914.2 1406.9,1855.9 1402.4,1803.4" fill="none" stroke="#0072BD" stroke-width="5.6" stroke-linejoin="miter"/>
<line x1="1406.9" y1="1855.9" x2="1421.7" y2="1855.9" stroke="#0072BD" stroke-width="5.6"/>
<path d="M1093.3 1594.4 V1998.6 H1452.7" fill="none" stroke="#262626" stroke-width="2.4"/>
<line x1="1088" y1="1597" x2="1093.3" y2="1597" stroke="#262626" stroke-width="2.2"/>
<text x="1080.5" y="1609.5" font-size="35" text-anchor="end" fill="#262626">1</text>
<line x1="1088" y1="1698.3" x2="1093.3" y2="1698.3" stroke="#262626" stroke-width="2.2"/>
<text x="1080.5" y="1710.8" font-size="35" text-anchor="end" fill="#262626">0.5</text>
<line x1="1088" y1="1799.6" x2="1093.3" y2="1799.6" stroke="#262626" stroke-width="2.2"/>
<text x="1080.5" y="1812.1" font-size="35" text-anchor="end" fill="#262626">0</text>
<line x1="1088" y1="1900.9" x2="1093.3" y2="1900.9" stroke="#262626" stroke-width="2.2"/>
<text x="1080.5" y="1913.4" font-size="35" text-anchor="end" fill="#262626">-0.5</text>
<line x1="1131.3" y1="1998.6" x2="1131.3" y2="2004" stroke="#262626" stroke-width="2.2"/>
<text x="1127.8" y="2056.1" font-size="36.5" text-anchor="middle" fill="#262626">2<tspan font-size="28.5" dx="1.8" dy="-18.2">5</tspan></text>
<line x1="1225.4" y1="1998.6" x2="1225.4" y2="2004" stroke="#262626" stroke-width="2.2"/>
<text x="1221.9" y="2056.1" font-size="36.5" text-anchor="middle" fill="#262626">2<tspan font-size="28.5" dx="1.8" dy="-18.2">7</tspan></text>
<line x1="1319.8" y1="1998.6" x2="1319.8" y2="2004" stroke="#262626" stroke-width="2.2"/>
<text x="1316.3" y="2056.1" font-size="36.5" text-anchor="middle" fill="#262626">2<tspan font-size="28.5" dx="1.8" dy="-18.2">9</tspan></text>
<line x1="1414.3" y1="1998.6" x2="1414.3" y2="2004" stroke="#262626" stroke-width="2.2"/>
<text x="1410.8" y="2056.1" font-size="36.5" text-anchor="middle" fill="#262626">2<tspan font-size="28.5" dx="1.8" dy="-18.2">11</tspan></text>
<text x="1273.2" y="2096.9" font-size="35.5" text-anchor="middle" fill="#262626">Population size</text>
<text transform="translate(959.7,1795.6) rotate(-90)" x="0" y="0" font-size="36" text-anchor="middle" fill="#262626">Decoding accuracy</text>
<text transform="translate(1003.1,1796.6) rotate(-90)" x="0" y="0" font-size="36" text-anchor="middle" fill="#262626">(Pearson's r)</text>
<text x="1098.5" y="1618.4" font-size="32" font-weight="bold" fill="#000">shuffle</text>
<line x1="1792.4" y1="1610.5" x2="1792.4" y2="2005.9" stroke="#e2e2e2" stroke-width="1.5"/>
<line x1="1912.9" y1="1610.5" x2="1912.9" y2="2005.9" stroke="#e2e2e2" stroke-width="1.5"/>
<line x1="2033.4" y1="1610.5" x2="2033.4" y2="2005.9" stroke="#e2e2e2" stroke-width="1.5"/>
<line x1="1687.7" y1="1908.1" x2="2137.6" y2="1908.1" stroke="#e2e2e2" stroke-width="1.5"/>
<line x1="1687.7" y1="1806.6" x2="2137.6" y2="1806.6" stroke="#e2e2e2" stroke-width="1.5"/>
<line x1="1687.7" y1="1705.1" x2="2137.6" y2="1705.1" stroke="#e2e2e2" stroke-width="1.5"/>
<line x1="1743.8" y1="1691.9" x2="1743.8" y2="1826.8" stroke="#000" stroke-width="2.8"/>
<polygon points="1731.85,1732.7 1755.75,1732.7 1755.75,1752.8 1749.55,1763.8 1755.75,1774.8 1755.75,1777.4 1731.85,1777.4 1731.85,1774.8 1738.05,1763.8 1731.85,1752.8" fill="#E69F00" fill-rule="nonzero"/>
<line x1="1738.05" y1="1763.8" x2="1749.55" y2="1763.8" stroke="#1a0a00" stroke-width="3.3"/>
<line x1="1804.8" y1="1697.7" x2="1804.8" y2="1820.9" stroke="#000" stroke-width="2.8"/>
<polygon points="1792.85,1742.4 1816.75,1742.4 1816.75,1751.5 1810.55,1761.5 1816.75,1771.5 1816.75,1781.3 1792.85,1781.3 1792.85,1771.5 1799.05,1761.5 1792.85,1751.5" fill="#E69F00" fill-rule="nonzero"/>
<line x1="1799.05" y1="1761.5" x2="1810.55" y2="1761.5" stroke="#1a0a00" stroke-width="3.3"/>
<line x1="1865.1" y1="1686.8" x2="1865.1" y2="1826.8" stroke="#000" stroke-width="2.8"/>
<polygon points="1853.15,1736.6 1877.05,1736.6 1877.05,1745.8 1870.85,1756.8 1877.05,1767.8 1877.05,1780.1 1853.15,1780.1 1853.15,1767.8 1859.35,1756.8 1853.15,1745.8" fill="#E69F00" fill-rule="nonzero"/>
<line x1="1859.35" y1="1756.8" x2="1870.85" y2="1756.8" stroke="#1a0a00" stroke-width="3.3"/>
<line x1="1925.3" y1="1696.5" x2="1925.3" y2="1838.4" stroke="#000" stroke-width="2.8"/>
<polygon points="1913.35,1744 1937.25,1744 1937.25,1750.9 1931.05,1761.9 1937.25,1772.9 1937.25,1786 1913.35,1786 1913.35,1772.9 1919.55,1761.9 1913.35,1750.9" fill="#E69F00" fill-rule="nonzero"/>
<line x1="1919.55" y1="1761.9" x2="1931.05" y2="1761.9" stroke="#1a0a00" stroke-width="3.3"/>
<line x1="1985.6" y1="1681" x2="1985.6" y2="1824.8" stroke="#000" stroke-width="2.8"/>
<polygon points="1973.65,1735.4 1997.55,1735.4 1997.55,1748.5 1991.35,1759.5 1997.55,1770.5 1997.55,1779.3 1973.65,1779.3 1973.65,1770.5 1979.85,1759.5 1973.65,1748.5" fill="#E69F00" fill-rule="nonzero"/>
<line x1="1979.85" y1="1759.5" x2="1991.35" y2="1759.5" stroke="#1a0a00" stroke-width="3.3"/>
<line x1="2045.8" y1="1677.9" x2="2045.8" y2="1855.1" stroke="#000" stroke-width="2.8"/>
<polygon points="2033.85,1738.1 2057.75,1738.1 2057.75,1747.5 2051.55,1759.5 2057.75,1771.5 2057.75,1787.1 2033.85,1787.1 2033.85,1771.5 2040.05,1759.5 2033.85,1747.5" fill="#E69F00" fill-rule="nonzero"/>
<line x1="2040.05" y1="1759.5" x2="2051.55" y2="1759.5" stroke="#1a0a00" stroke-width="3.3"/>
<line x1="2106.1" y1="1695.8" x2="2106.1" y2="1810.4" stroke="#000" stroke-width="2.8"/>
<polygon points="2094.15,1744.4 2118.05,1744.4 2118.05,1760.2 2111.85,1771.2 2118.05,1782.2 2118.05,1785.2 2094.15,1785.2 2094.15,1782.2 2100.35,1771.2 2094.15,1760.2" fill="#E69F00" fill-rule="nonzero"/>
<line x1="2100.35" y1="1771.2" x2="2111.85" y2="1771.2" stroke="#1a0a00" stroke-width="3.3"/>
<line x1="1719.7" y1="1728.4" x2="1719.7" y2="1934.8" stroke="#000" stroke-width="2.8"/>
<polygon points="1707.75,1812 1731.65,1812 1731.65,1840.8 1725.85,1858.3 1731.65,1875.8 1731.65,1888.2 1707.75,1888.2 1707.75,1875.8 1713.55,1858.3 1707.75,1840.8" fill="#0072B2" fill-rule="nonzero"/>
<line x1="1713.55" y1="1858.3" x2="1725.85" y2="1858.3" stroke="#1a0a00" stroke-width="3.3"/>
<line x1="1779.9" y1="1833.4" x2="1779.9" y2="1949.2" stroke="#000" stroke-width="2.8"/>
<polygon points="1767.95,1861 1791.85,1861 1791.85,1869.5 1786.65,1883.1 1791.85,1896.7 1791.85,1903.7 1767.95,1903.7 1767.95,1896.7 1773.15,1883.1 1767.95,1869.5" fill="#0072B2" fill-rule="nonzero"/>
<line x1="1773.15" y1="1883.1" x2="1786.65" y2="1883.1" stroke="#1a0a00" stroke-width="3.3"/>
<line x1="1839.8" y1="1863.7" x2="1839.8" y2="1969.4" stroke="#000" stroke-width="2.8"/>
<polygon points="1827.85,1897.9 1851.75,1897.9 1851.75,1902.3 1847.25,1912.3 1851.75,1922.3 1851.75,1926.7 1827.85,1926.7 1827.85,1922.3 1832.35,1912.3 1827.85,1902.3" fill="#0072B2" fill-rule="nonzero"/>
<line x1="1832.35" y1="1912.3" x2="1847.25" y2="1912.3" stroke="#1a0a00" stroke-width="3.3"/>
<line x1="1900.2" y1="1895.6" x2="1900.2" y2="1964" stroke="#000" stroke-width="2.8"/>
<polygon points="1888.25,1920.4 1912.15,1920.4 1912.15,1925.6 1908.55,1930.8 1912.15,1936 1912.15,1942.3 1888.25,1942.3 1888.25,1936 1891.85,1930.8 1888.25,1925.6" fill="#0072B2" fill-rule="nonzero"/>
<line x1="1891.85" y1="1930.8" x2="1908.55" y2="1930.8" stroke="#1a0a00" stroke-width="3.3"/>
<line x1="1960.2" y1="1922.8" x2="1960.2" y2="1966.7" stroke="#000" stroke-width="2.8"/>
<polygon points="1948.25,1939.4 1972.15,1939.4 1972.15,1939.4 1968.15,1945.2 1972.15,1951.2 1972.15,1952.1 1948.25,1952.1 1948.25,1951.2 1952.25,1945.2 1948.25,1939.4" fill="#0072B2" fill-rule="nonzero"/>
<line x1="1952.25" y1="1945.2" x2="1968.15" y2="1945.2" stroke="#1a0a00" stroke-width="3.3"/>
<line x1="2020.6" y1="1943.4" x2="2020.6" y2="1977.6" stroke="#000" stroke-width="2.8"/>
<polygon points="2008.65,1952.5 2032.55,1952.5 2032.55,1952.5 2028.55,1957.6 2032.55,1963.1 2032.55,1963.1 2008.65,1963.1 2008.65,1963.1 2012.65,1957.6 2008.65,1952.5" fill="#0072B2" fill-rule="nonzero"/>
<line x1="2012.65" y1="1957.6" x2="2028.55" y2="1957.6" stroke="#1a0a00" stroke-width="3.3"/>
<line x1="2080.8" y1="1957" x2="2080.8" y2="1987.3" stroke="#000" stroke-width="2.8"/>
<polygon points="2068.85,1966 2092.75,1966 2092.75,1966 2088.75,1969.5 2092.75,1974 2092.75,1975.2 2068.85,1975.2 2068.85,1974 2072.85,1969.5 2068.85,1966" fill="#0072B2" fill-rule="nonzero"/>
<line x1="2072.85" y1="1969.5" x2="2088.75" y2="1969.5" stroke="#1a0a00" stroke-width="3.3"/>
<circle cx="1743.8" cy="1628.5" r="9.6" fill="#E69F00"/>
<circle cx="2106.1" cy="1866.8" r="9.6" fill="#E69F00"/>
<circle cx="1779.9" cy="1792.6" r="9.6" fill="#0072B2"/>
<circle cx="1900.1" cy="1885.9" r="9.6" fill="#0072B2"/>
<circle cx="1960.3" cy="1904.5" r="9.6" fill="#0072B2"/>
<circle cx="2020.5" cy="1932.9" r="9.6" fill="#0072B2"/>
<rect x="1687.7" y="1610.5" width="449.9" height="395.4" fill="none" stroke="#000" stroke-width="2.3"/>
<line x1="1672.2" y1="1908.1" x2="1687.7" y2="1908.1" stroke="#000" stroke-width="1.8"/>
<text x="1661" y="1921" font-size="36" text-anchor="end" fill="#000">50</text>
<line x1="1672.2" y1="1806.6" x2="1687.7" y2="1806.6" stroke="#000" stroke-width="1.8"/>
<text x="1661" y="1819.5" font-size="36" text-anchor="end" fill="#000">100</text>
<line x1="1672.2" y1="1705.1" x2="1687.7" y2="1705.1" stroke="#000" stroke-width="1.8"/>
<text x="1661" y="1718" font-size="36" text-anchor="end" fill="#000">150</text>
<line x1="1792.4" y1="2005.9" x2="1792.4" y2="2020.7" stroke="#000" stroke-width="1.8"/>
<text x="1792.4" y="2063" font-size="36.5" text-anchor="middle" fill="#000">6</text>
<line x1="1912.9" y1="2005.9" x2="1912.9" y2="2020.7" stroke="#000" stroke-width="1.8"/>
<text x="1912.9" y="2063" font-size="36.5" text-anchor="middle" fill="#000">8</text>
<line x1="2033.4" y1="2005.9" x2="2033.4" y2="2020.7" stroke="#000" stroke-width="1.8"/>
<text x="2033.4" y="2063" font-size="36.5" text-anchor="middle" fill="#000">10</text>
<text x="1912.7" y="2112.8" font-size="36.7" text-anchor="middle" fill="#000">log₂ Neurons</text>
<text transform="translate(1579,1807.5) rotate(-90)" x="0" y="0" font-size="37" text-anchor="middle" fill="#000">MSE</text>
<text x="2000" y="1653.8" font-size="31.7" font-weight="bold" fill="#dd8a3c">shuffle</text>
<text x="2049" y="1927.8" font-size="33" font-weight="bold" fill="#0072B2">data</text>
</svg>
</body></html>
